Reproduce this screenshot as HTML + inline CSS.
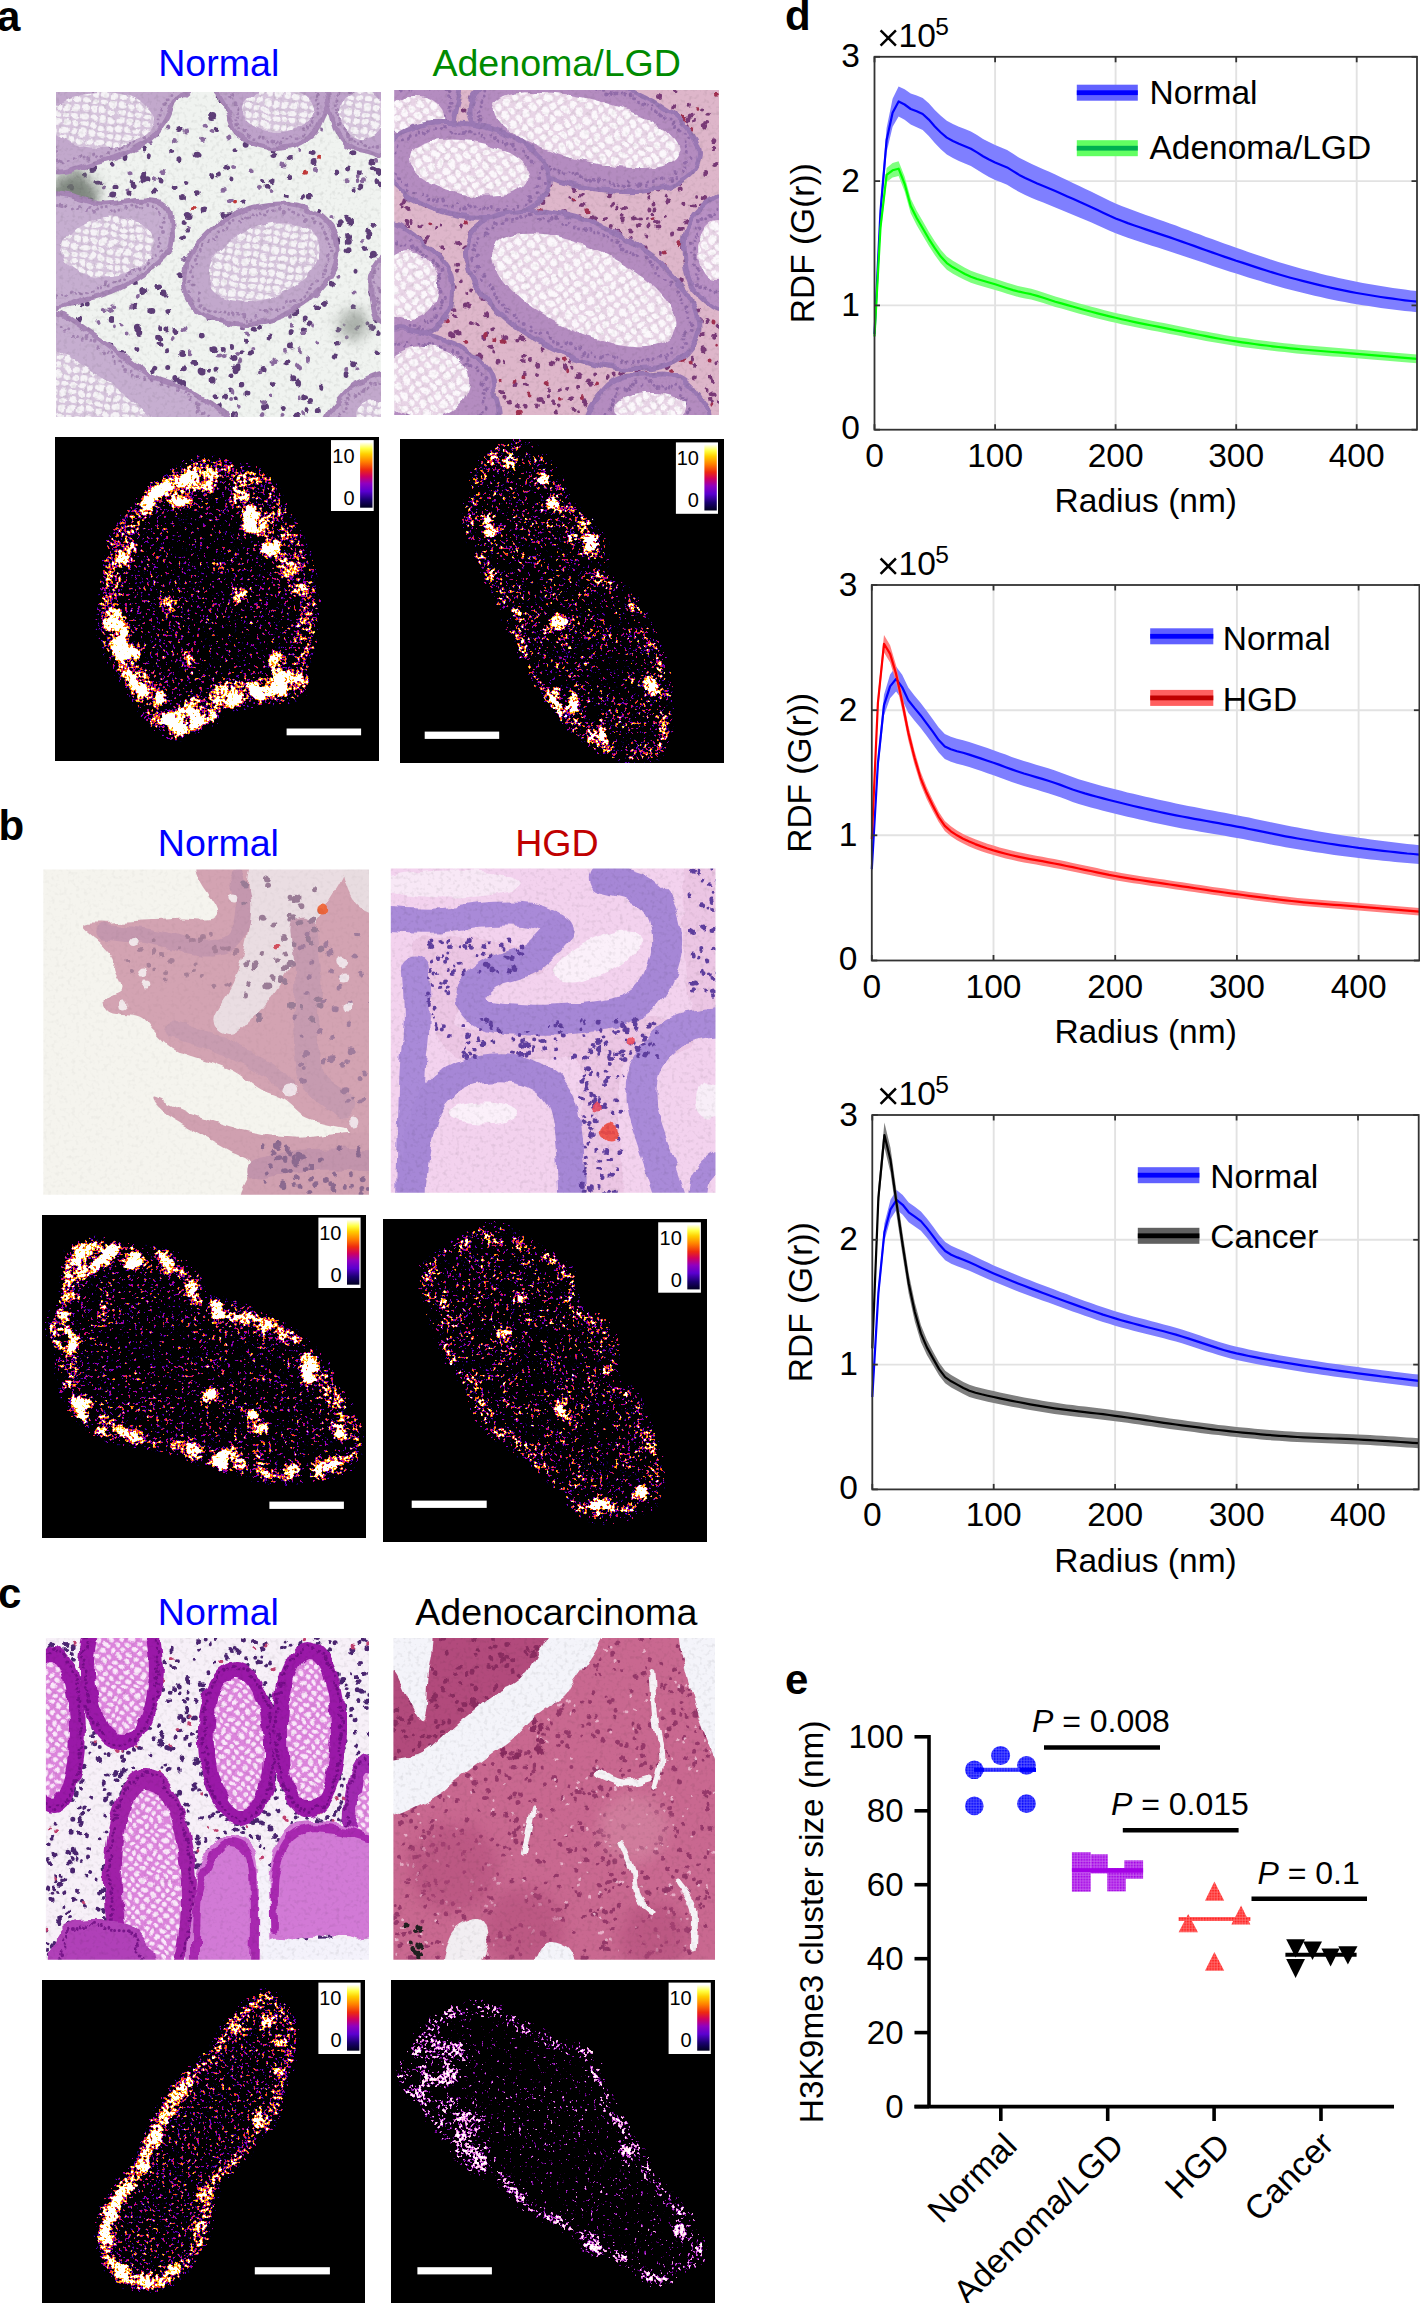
<!DOCTYPE html>
<html><head><meta charset="utf-8"><style>html,body{margin:0;padding:0;background:#fff;width:1420px;height:2303px;overflow:hidden;}svg{display:block;}</style></head><body>
<svg width="1420" height="2303" viewBox="0 0 1420 2303" font-family='"Liberation Sans", sans-serif'>
<rect width="1420" height="2303" fill="#fff"/>
<defs><filter id="soft" x="-50%" y="-50%" width="200%" height="200%"><feGaussianBlur stdDeviation="7"/></filter></defs>
<defs><linearGradient id="cbar" x1="0" y1="1" x2="0" y2="0"><stop offset="0" stop-color="#000020"/><stop offset="0.12" stop-color="#1a0070"/><stop offset="0.25" stop-color="#5a00d0"/><stop offset="0.37" stop-color="#9000c0"/><stop offset="0.48" stop-color="#d00060"/><stop offset="0.58" stop-color="#ee2a10"/><stop offset="0.7" stop-color="#ff8000"/><stop offset="0.82" stop-color="#ffd000"/><stop offset="0.9" stop-color="#ffff40"/><stop offset="1" stop-color="#ffffff"/></linearGradient></defs>
<clipPath id="hc0"><rect x="56" y="92" width="325.0" height="325.0"/></clipPath>
<filter id="hf0" filterUnits="userSpaceOnUse" x="56" y="92" width="325.0" height="325.0" color-interpolation-filters="sRGB"><feTurbulence type="fractalNoise" baseFrequency="0.06" numOctaves="2" seed="1" result="tn"/><feDisplacementMap in="SourceGraphic" in2="tn" scale="9" xChannelSelector="R" yChannelSelector="G" result="dsp"/><feGaussianBlur in="dsp" stdDeviation="0.7" result="b"/><feTurbulence type="fractalNoise" baseFrequency="0.25" numOctaves="2" seed="51" result="fn"/><feColorMatrix in="fn" type="matrix" values="0.22 0 0 0 0.890 0.22 0 0 0 0.890 0.22 0 0 0 0.890 0 0 0 0 1" result="fn2"/><feBlend in="b" in2="fn2" mode="multiply" result="o"/><feComponentTransfer in="o"><feFuncA type="linear" slope="0" intercept="1"/></feComponentTransfer></filter>
<pattern id="hp0" width="9" height="8.1" patternUnits="userSpaceOnUse" patternTransform="rotate(8)"><rect width="9" height="9" fill="#d6c4dc"/><ellipse cx="4.5" cy="4.0" rx="3.7" ry="3.1" fill="#f6f3f7"/></pattern>
<g clip-path="url(#hc0)"><g filter="url(#hf0)"><g transform="translate(56,92)">
<rect x="-12" y="-12" width="349.0" height="349.0" fill="#f0f3f0"/>
<path d="M185.0 260.7h0M249.3 226.1h0M260.6 192.1h0M309.5 301.1h0M297.8 299.7h0M204.5 235.2h0M295.8 61.7h0M187.9 210.3h0M73.8 4.0h0M299.0 178.2h0M111.7 275.4h0M42.0 252.7h0M308.7 156.4h0M180.2 305.8h0M264.3 134.7h0M175.5 255.6h0M179.0 58.8h0M10.5 306.7h0M60.0 94.3h0M161.4 37.1h0M111.6 258.8h0M73.2 129.1h0M239.7 40.8h0M15.4 23.0h0M298.1 96.8h0M276.4 191.9h0M12.2 65.1h0M160.0 304.8h0M130.8 91.4h0M43.9 139.5h0M249.6 173.1h0M13.1 43.2h0M174.9 87.1h0M164.4 83.0h0M188.5 250.3h0M47.9 40.6h0M190.9 301.0h0M37.2 291.4h0M231.3 102.2h0M300.8 236.1h0M127.2 129.5h0M115.6 59.5h0M29.1 244.8h0M186.7 110.1h0M314.1 13.3h0M262.5 29.9h0M262.7 130.6h0M282.0 237.0h0M3.2 244.0h0M152.4 279.2h0M216.2 58.4h0M46.0 281.3h0M306.6 320.8h0M97.2 174.7h0M3.5 271.8h0M188.5 192.9h0M310.9 231.7h0M248.0 209.7h0M166.3 257.6h0M167.0 122.6h0M254.2 160.9h0M29.4 82.9h0M295.5 214.7h0M171.7 188.2h0M316.3 78.7h0M56.2 48.2h0M7.8 185.0h0M211.0 24.4h0M246.5 105.2h0M36.8 298.3h0M227.3 314.4h0M50.7 253.1h0M87.8 57.9h0M98.7 150.2h0M55.1 165.9h0M32.1 192.0h0M21.8 143.8h0M230.8 52.5h0M206.7 89.6h0M171.6 77.1h0M323.8 180.8h0M240.4 127.6h0M303.3 80.7h0M143.2 100.7h0M22.2 74.0h0M301.8 310.5h0M56.1 72.2h0M126.6 146.8h0M161.3 36.1h0M25.6 5.0h0M93.3 63.7h0M176.3 183.5h0M25.8 212.0h0M62.4 145.4h0M174.3 299.0h0M23.5 57.7h0M166.7 162.9h0M101.6 41.2h0M87.7 81.3h0M98.1 279.4h0M84.8 238.9h0M322.1 241.5h0M126.5 105.4h0M41.1 21.1h0M169.0 2.8h0M186.3 146.8h0M123.7 289.1h0M188.2 18.2h0M160.0 277.3h0M79.7 186.5h0M321.9 259.0h0M99.9 194.4h0M165.0 9.4h0M71.9 43.4h0M232.3 66.4h0M119.3 296.6h0M317.3 132.4h0M187.9 138.3h0M323.0 91.8h0M42.6 144.4h0M251.1 316.7h0M11.8 136.8h0M214.2 244.1h0M29.4 29.3h0M264.6 119.5h0M255.5 308.6h0M130.6 138.2h0M32.2 211.1h0M221.6 161.8h0M197.0 155.7h0M199.4 228.3h0M202.7 279.8h0M246.3 237.0h0" stroke="#5e3e78" stroke-width="5.0" stroke-linecap="round" fill="none"/>
<path d="M38.3 247.3h0M123.4 68.2h0M290.3 126.7h0M103.2 7.3h0M3.0 286.4h0M314.9 235.9h0M248.2 305.2h0M112.4 220.0h0M162.8 314.3h0M127.8 277.3h0M241.7 131.4h0M119.3 286.9h0M239.9 28.1h0M120.4 238.1h0M100.3 275.7h0M295.7 214.2h0M310.3 305.0h0M195.0 261.5h0M282.1 147.2h0M91.4 87.3h0M82.9 309.4h0M210.7 95.7h0M312.0 144.8h0M205.0 225.9h0M170.3 10.0h0M261.1 214.4h0M183.6 42.4h0M292.8 149.8h0M282.7 253.5h0M186.3 291.4h0M163.8 5.6h0M278.7 263.6h0M31.3 123.3h0M297.2 272.3h0M253.4 232.4h0M118.6 96.1h0M14.9 96.1h0M4.7 134.4h0M256.7 61.1h0M190.7 52.7h0M141.4 313.5h0M176.5 266.0h0M103.2 8.9h0M103.1 195.5h0M81.3 255.2h0M289.6 282.0h0M64.7 117.2h0M79.9 32.8h0M252.8 106.6h0M230.5 271.3h0M41.0 67.2h0M234.9 253.4h0M202.6 218.5h0M280.2 80.4h0M221.7 145.2h0M81.3 142.8h0M317.3 6.1h0M319.5 90.0h0M56.0 29.0h0M299.1 302.3h0M73.4 101.7h0M198.7 236.7h0M97.1 97.4h0M53.7 227.9h0M27.6 40.1h0M138.7 306.1h0M176.9 323.2h0M142.4 202.3h0M68.9 140.2h0M101.1 246.2h0M54.6 116.0h0M96.3 219.0h0M261.8 142.1h0M233.3 113.8h0M110.3 237.6h0M181.0 323.3h0M234.7 240.0h0M64.6 300.1h0M168.0 304.7h0M321.0 228.4h0M217.4 64.1h0M94.5 6.8h0M259.4 133.6h0M214.1 152.1h0M16.2 96.5h0M157.2 84.3h0M232.7 84.1h0M48.2 307.3h0M37.6 67.0h0M263.1 7.6h0M222.1 160.7h0M235.3 288.3h0M215.5 89.2h0M76.6 92.2h0M267.9 210.0h0M4.7 174.5h0M41.9 303.3h0M140.6 61.8h0M42.4 90.8h0M87.1 84.4h0M79.8 191.1h0M57.0 139.3h0M177.8 174.9h0M19.1 66.1h0M215.9 291.0h0M292.1 145.0h0M123.6 38.1h0M30.6 273.5h0M66.8 300.0h0M127.1 291.1h0M42.2 264.8h0M181.6 274.3h0M259.7 173.4h0M103.6 88.6h0M103.1 236.2h0M147.6 118.4h0M249.1 305.2h0M263.8 318.0h0M166.2 140.4h0M292.5 158.2h0M71.5 65.1h0M292.1 76.4h0M24.8 200.1h0M226.2 208.7h0M102.6 252.4h0M305.4 301.2h0M195.9 188.8h0M3.1 137.9h0M87.4 88.4h0M206.6 277.0h0M126.2 261.1h0M305.2 93.4h0M67.0 48.6h0M33.6 50.6h0M16.5 70.9h0M240.9 323.4h0M58.2 261.7h0M15.5 69.6h0M281.6 40.2h0M174.4 282.4h0M263.3 296.7h0" stroke="#5e3e78" stroke-width="6.0" stroke-linecap="round" fill="none"/>
<path d="M241.5 291.1h0M316.4 162.3h0M35.1 53.2h0M237.1 124.7h0M179.1 276.7h0M82.4 237.3h0M313.8 140.3h0M138.7 270.5h0M37.0 76.4h0M132.1 123.6h0M178.8 183.9h0M221.3 51.7h0M257.6 188.2h0M157.9 257.7h0M57.7 103.1h0M316.0 71.3h0M207.0 124.8h0M239.5 27.2h0M315.0 200.5h0M223.2 26.7h0M78.3 276.6h0M293.6 129.1h0M123.1 181.8h0M145.1 279.9h0M39.6 67.9h0M66.6 263.4h0M220.5 188.3h0M109.2 202.0h0M321.0 80.5h0M252.2 3.3h0M22.3 227.2h0M79.4 214.8h0M282.2 130.8h0M23.6 238.0h0M188.2 189.0h0M52.8 253.0h0M146.2 243.9h0M156.1 288.9h0M9.9 125.9h0M207.5 315.0h0M86.8 198.5h0M14.6 207.1h0M169.0 9.8h0M185.6 208.3h0M258.1 70.6h0M156.7 23.6h0M172.9 123.7h0M321.1 2.1h0M267.1 166.6h0M47.0 48.2h0M88.9 109.2h0M70.0 269.6h0M1.0 139.0h0M15.3 211.8h0M238.7 220.7h0M83.7 241.5h0" stroke="#5e3e78" stroke-width="7.0" stroke-linecap="round" fill="none"/>
<path d="M287.7 230.4h0M32.7 165.1h0M80.1 48.2h0M194.7 78.5h0M269.4 16.3h0M214.5 100.1h0M71.6 241.5h0M203.3 279.9h0M233.6 123.3h0M46.6 186.6h0M29.8 324.6h0M80.9 172.1h0M25.5 300.9h0M234.0 224.7h0M257.1 235.4h0M301.4 88.1h0M136.1 303.5h0M71.3 98.4h0M195.0 35.7h0M291.6 89.2h0M175.1 307.1h0M22.4 317.7h0M188.8 201.2h0M260.3 249.4h0M3.2 264.9h0M242.8 306.2h0M89.7 120.3h0M184.7 314.8h0M283.4 37.8h0M297.6 200.5h0M116.6 245.0h0M46.9 111.0h0M290.7 246.2h0M189.4 156.1h0M205.3 309.8h0M215.5 304.4h0M86.6 40.7h0M305.9 149.1h0M50.1 170.5h0M229.0 257.7h0M81.1 137.5h0M58.2 215.3h0M174.3 181.3h0M122.1 7.0h0M324.4 25.1h0M151.1 184.3h0M6.8 279.3h0M235.0 54.2h0M262.7 161.0h0M301.7 84.3h0M56.9 234.3h0M117.2 301.7h0M77.9 45.2h0M49.8 216.9h0M131.8 135.6h0M301.4 276.2h0M65.8 233.6h0M243.4 57.9h0M46.7 159.9h0M33.5 121.1h0M267.1 36.6h0M177.1 75.0h0M75.8 133.4h0M217.5 271.0h0M109.3 79.1h0M275.4 125.1h0M246.1 320.0h0M152.5 189.6h0M281.4 183.8h0M97.9 87.1h0M283.3 5.7h0M180.6 324.0h0M197.3 257.0h0M127.1 168.9h0M243.8 11.2h0M24.1 291.3h0" stroke="#8a6a9e" stroke-width="4.0" stroke-linecap="round" fill="none"/>
<path d="M203.3 97.5h0M132.5 204.8h0M19.0 271.2h0M307.4 87.8h0M99.4 159.7h0M246.6 240.2h0M146.6 48.6h0M171.8 43.9h0M321.4 69.3h0M156.1 38.5h0M227.0 73.1h0M37.7 183.1h0M251.5 267.1h0M112.8 36.9h0M106.9 2.6h0M311.7 36.5h0M187.4 235.7h0M41.0 230.4h0M180.5 261.4h0M43.0 24.2h0M219.9 268.7h0M95.0 50.6h0M270.8 131.8h0M47.2 96.0h0M207.6 309.8h0M9.9 140.4h0M150.1 32.2h0M210.0 226.6h0M270.3 190.9h0M248.0 179.1h0M154.0 226.7h0M202.1 34.3h0M228.8 137.3h0M82.4 203.4h0M259.4 77.4h0M166.7 176.5h0M74.0 80.7h0M106.9 79.7h0M241.5 120.1h0M129.6 39.1h0M134.8 259.7h0M163.2 264.9h0M82.7 150.9h0M226.0 322.3h0M76.6 13.1h0M61.8 163.8h0M29.1 30.7h0M14.6 168.5h0M182.5 268.7h0M206.9 322.4h0M180.0 227.1h0M82.0 124.9h0M4.4 310.0h0M73.4 22.9h0M201.0 176.5h0M231.2 26.8h0M194.0 218.6h0M167.1 97.2h0M7.1 260.2h0M201.0 16.9h0M52.0 43.0h0M190.6 242.0h0M129.0 296.4h0M69.0 307.8h0M168.2 264.5h0M235.6 233.3h0M320.5 182.9h0M54.5 217.9h0M215.0 129.5h0M5.2 245.0h0M128.0 237.3h0M242.5 275.1h0M61.4 56.3h0M75.6 214.1h0M16.8 14.4h0M289.7 277.5h0M130.0 166.3h0M312.3 16.0h0M243.4 258.4h0M189.1 12.0h0M32.8 107.9h0M175.4 108.7h0M176.8 299.8h0M117.3 47.5h0" stroke="#8a6a9e" stroke-width="5.0" stroke-linecap="round" fill="none"/>
<path d="M191.6 131.3h0M84.4 119.8h0M249.5 80.2h0M255.4 27.1h0M41.0 179.0h0M76.3 32.1h0M15.3 166.4h0M263.5 66.3h0M167.8 11.5h0M259.7 12.1h0" stroke="#c03838" stroke-width="5.0" stroke-linecap="round" fill="none"/>
<path d="M136.8 117.0h0M245.2 129.0h0M293.9 309.5h0M179.0 110.4h0" stroke="#c03838" stroke-width="4.0" stroke-linecap="round" fill="none"/>
<circle cx="18" cy="103" r="24" fill="#6c746c" opacity="0.85" filter="url(#soft)"/>
<circle cx="297" cy="233" r="15" fill="#9aa09a" opacity="0.85" filter="url(#soft)"/>
<path d="M-10.0,-10.0C12.5,-24.3 103.7,-13.3 125.0,-10.0C146.3,-6.7 120.8,3.0 118.0,10.0C115.2,17.0 113.2,24.8 108.0,32.0C102.8,39.2 97.3,46.8 87.0,53.0C76.7,59.2 62.2,65.2 46.0,69.0C29.8,72.8 -0.7,89.2 -10.0,76.0C-19.3,62.8 -32.5,4.3 -10.0,-10.0Z" fill="#c2a8cc" stroke="#a786b6" stroke-width="5"/>
<path d="M-4.6 -6.3h0M6.3 -4.8h0M10.2 -5.1h0M16.4 -3.3h0M32.4 -4.3h0M37.6 -1.0h0M45.2 -2.2h0M49.3 -3.1h0M52.9 -1.0h0M61.8 -3.6h0M64.9 -2.0h0M70.9 -4.7h0M75.3 -4.8h0M78.2 -3.4h0M84.3 -5.1h0M93.9 -5.7h0M99.8 -6.6h0M101.9 -5.2h0M108.5 -6.4h0M118.3 -6.8h0M116.1 -1.9h0M114.9 2.5h0M111.2 7.7h0M106.7 17.1h0M102.0 26.7h0M102.9 31.7h0M95.1 35.0h0M91.3 38.5h0M88.6 42.3h0M79.7 48.5h0M76.9 51.3h0M72.8 53.3h0M59.6 58.9h0M50.4 61.4h0M46.0 64.5h0M41.6 63.7h0M28.2 66.1h0M24.9 64.6h0M20.3 65.7h0M14.4 68.3h0M8.2 70.8h0M-4.1 70.9h0M-4.2 52.9h0M-5.9 49.0h0M-3.8 39.2h0M-1.8 34.4h0M-1.8 30.1h0M-1.8 25.8h0M-3.4 21.3h0M-3.7 12.2h0M-2.0 8.5h0M-1.5 4.3h0" stroke="#9a78aa" stroke-width="3.0" stroke-linecap="round" fill="none" opacity="0.8"/>
<path d="M0.9 -5.6h0M19.7 -4.2h0M24.0 -4.2h0M28.3 -4.1h0M41.0 -3.9h0M58.1 -4.8h0M88.9 -5.3h0M112.0 -5.9h0M110.3 11.9h0M104.7 21.9h0M87.3 47.0h0M67.8 54.3h0M63.9 56.7h0M53.8 56.2h0M38.0 61.4h0M32.2 66.7h0M5.8 69.0h0M1.3 69.6h0M-5.0 67.1h0M-2.0 60.5h0M-2.2 56.3h0M-4.8 44.0h0M-5.1 16.4h0M-3.3 -1.0h0" stroke="#9a78aa" stroke-width="4.0" stroke-linecap="round" fill="none" opacity="0.8"/>
<path d="M98.0,28.0C98.0,31.6 96.6,35.4 94.0,38.7C91.5,42.0 87.5,45.3 82.8,47.8C78.1,50.3 72.0,52.5 65.9,53.9C59.8,55.2 52.6,56.0 46.0,56.0C39.4,56.0 32.2,55.2 26.1,53.9C20.0,52.5 13.9,50.3 9.2,47.8C4.5,45.3 0.5,42.0 -2.0,38.7C-4.6,35.4 -6.0,31.6 -6.0,28.0C-6.0,24.4 -4.6,20.6 -2.0,17.3C0.5,14.0 4.5,10.7 9.2,8.2C13.9,5.7 20.0,3.5 26.1,2.1C32.2,0.8 39.4,0.0 46.0,0.0C52.6,0.0 59.8,0.8 65.9,2.1C72.0,3.5 78.1,5.7 82.8,8.2C87.5,10.7 91.5,14.0 94.0,17.3C96.6,20.6 98.0,24.4 98.0,28.0Z" fill="url(#hp0)"/>
<path d="M168.0,-10.0C151.7,-5.0 170.0,11.7 172.0,20.0C174.0,28.3 175.3,34.7 180.0,40.0C184.7,45.3 192.5,49.3 200.0,52.0C207.5,54.7 216.7,56.7 225.0,56.0C233.3,55.3 243.2,52.7 250.0,48.0C256.8,43.3 262.7,37.7 266.0,28.0C269.3,18.3 286.3,-3.7 270.0,-10.0C253.7,-16.3 184.3,-15.0 168.0,-10.0Z" fill="#bea2ca" stroke="#a786b6" stroke-width="5"/>
<path d="M175.0 -6.4h0M176.7 2.5h0M175.3 6.3h0M180.7 15.6h0M180.6 19.7h0M181.5 23.9h0M180.9 28.7h0M184.8 37.5h0M193.2 43.2h0M197.9 45.7h0M204.7 44.8h0M208.2 46.2h0M211.8 48.2h0M220.3 50.0h0M228.3 46.5h0M232.9 47.2h0M236.5 44.7h0M242.2 45.8h0M246.3 44.0h0M246.5 38.4h0M255.5 34.0h0M256.7 25.9h0M261.9 22.1h0M261.7 17.2h0M263.2 12.3h0M260.3 8.3h0M253.0 -5.0h0M240.5 -5.1h0M230.7 -1.9h0M227.7 -4.1h0M223.5 -2.2h0M219.9 -1.5h0M215.5 -4.5h0M212.9 -1.3h0M208.5 -2.6h0M202.6 -5.2h0M200.3 -3.3h0M193.2 -6.0h0M188.1 -6.5h0M177.6 -7.4h0" stroke="#9a78aa" stroke-width="3.0" stroke-linecap="round" fill="none" opacity="0.8"/>
<path d="M176.9 -1.5h0M178.4 11.2h0M182.2 33.4h0M190.4 39.3h0M216.3 47.4h0M224.6 51.5h0M251.4 36.8h0M257.6 30.2h0M260.8 3.8h0M260.9 -0.5h0M263.8 -6.4h0M258.0 -5.5h0M250.0 -6.0h0M243.0 -3.3h0M236.9 -6.0h0M184.3 -6.1h0" stroke="#9a78aa" stroke-width="4.0" stroke-linecap="round" fill="none" opacity="0.8"/>
<path d="M258.0,18.0C258.0,20.8 257.0,23.8 255.3,26.4C253.5,29.0 250.7,31.6 247.5,33.6C244.2,35.5 240.0,37.3 235.8,38.3C231.5,39.4 226.6,40.0 222.0,40.0C217.4,40.0 212.5,39.4 208.2,38.3C204.0,37.3 199.8,35.5 196.5,33.6C193.3,31.6 190.5,29.0 188.7,26.4C187.0,23.8 186.0,20.8 186.0,18.0C186.0,15.2 187.0,12.2 188.7,9.6C190.5,7.0 193.3,4.4 196.5,2.4C199.8,0.5 204.0,-1.3 208.2,-2.3C212.5,-3.4 217.4,-4.0 222.0,-4.0C226.6,-4.0 231.5,-3.4 235.8,-2.3C240.0,-1.3 244.2,0.5 247.5,2.4C250.7,4.4 253.5,7.0 255.3,9.6C257.0,12.2 258.0,15.2 258.0,18.0Z" fill="url(#hp0)"/>
<path d="M275.0,-10.0C265.3,-3.3 274.5,19.7 277.0,30.0C279.5,40.3 284.5,47.0 290.0,52.0C295.5,57.0 302.5,59.0 310.0,60.0C317.5,61.0 330.8,69.7 335.0,58.0C339.2,46.3 345.0,1.3 335.0,-10.0C325.0,-21.3 284.7,-16.7 275.0,-10.0Z" fill="#bea2ca" stroke="#a786b6" stroke-width="5"/>
<path d="M278.5 -6.4h0M281.8 0.8h0M280.5 3.6h0M280.8 7.8h0M280.3 11.7h0M282.3 16.4h0M281.3 20.3h0M282.7 24.4h0M283.6 28.2h0M297.0 48.0h0M300.9 50.8h0M317.9 53.7h0M327.0 53.8h0M330.4 52.3h0M328.4 45.7h0M329.7 42.9h0M330.8 39.4h0M328.4 33.7h0M326.3 28.9h0M326.0 21.6h0M328.1 17.6h0M326.6 14.1h0M327.4 10.0h0M330.6 3.7h0M328.7 1.0h0M330.4 -4.9h0M324.8 -3.1h0M322.2 -5.2h0M317.8 -5.1h0M312.9 -2.4h0M309.4 -4.9h0M301.7 -0.8h0M298.0 -1.3h0M288.8 -4.1h0M284.4 -4.6h0" stroke="#9a78aa" stroke-width="3.0" stroke-linecap="round" fill="none" opacity="0.8"/>
<path d="M283.6 32.5h0M288.6 34.3h0M289.2 38.8h0M291.0 42.6h0M293.3 45.8h0M305.3 48.3h0M309.1 51.9h0M313.9 55.2h0M322.4 53.9h0M326.1 25.2h0M305.3 -1.1h0M294.1 -1.7h0" stroke="#9a78aa" stroke-width="4.0" stroke-linecap="round" fill="none" opacity="0.8"/>
<path d="M328.0,22.0C328.0,25.1 327.4,28.4 326.3,31.2C325.3,34.0 323.5,36.8 321.6,39.0C319.6,41.1 317.0,43.0 314.4,44.2C311.8,45.3 308.8,46.0 306.0,46.0C303.2,46.0 300.2,45.3 297.6,44.2C295.0,43.0 292.4,41.1 290.4,39.0C288.5,36.8 286.7,34.0 285.7,31.2C284.6,28.4 284.0,25.1 284.0,22.0C284.0,18.9 284.6,15.6 285.7,12.8C286.7,10.0 288.5,7.2 290.4,5.0C292.4,2.9 295.0,1.0 297.6,-0.2C300.2,-1.3 303.2,-2.0 306.0,-2.0C308.8,-2.0 311.8,-1.3 314.4,-0.2C317.0,1.0 319.6,2.9 321.6,5.0C323.5,7.2 325.3,10.0 326.3,12.8C327.4,15.6 328.0,18.9 328.0,22.0Z" fill="url(#hp0)"/>
<path d="M-10.0,108.0C-0.7,92.0 28.3,112.0 46.0,112.0C63.7,112.0 84.7,106.3 96.0,108.0C107.3,109.7 111.3,113.3 114.0,122.0C116.7,130.7 118.5,148.7 112.0,160.0C105.5,171.3 88.0,182.3 75.0,190.0C62.0,197.7 48.2,203.0 34.0,206.0C19.8,209.0 -2.7,224.3 -10.0,208.0C-17.3,191.7 -19.3,124.0 -10.0,108.0Z" fill="#c6aed0" stroke="#a786b6" stroke-width="5"/>
<path d="M-3.7 112.8h0M4.6 112.7h0M24.0 115.1h0M33.2 116.0h0M39.0 119.8h0M59.3 119.1h0M77.7 114.4h0M91.3 113.0h0M107.0 140.0h0M91.0 171.4h0M82.4 176.5h0M74.3 181.0h0M49.9 191.3h0M25.9 201.3h0M16.9 200.6h0M-0.7 204.2h0M-3.0 175.4h0M-1.6 161.9h0M-4.3 157.7h0M-2.1 148.9h0M-2.5 118.1h0" stroke="#9a78aa" stroke-width="4.0" stroke-linecap="round" fill="none" opacity="0.8"/>
<path d="M1.2 113.4h0M8.6 112.4h0M16.4 116.1h0M21.6 117.4h0M30.4 118.5h0M42.5 118.0h0M46.7 117.1h0M51.1 116.4h0M55.3 118.8h0M63.9 117.0h0M68.8 115.2h0M73.7 114.0h0M81.2 115.3h0M84.8 115.8h0M97.2 114.4h0M101.3 117.8h0M103.5 122.3h0M107.9 125.2h0M107.2 130.3h0M105.7 135.6h0M104.2 145.3h0M105.1 149.9h0M103.4 154.6h0M105.8 159.5h0M100.2 162.2h0M95.0 164.7h0M91.0 167.3h0M87.5 174.5h0M77.8 178.4h0M70.8 183.6h0M67.6 187.4h0M62.7 187.9h0M58.5 190.1h0M54.2 192.9h0M45.4 194.9h0M41.2 196.1h0M36.3 199.3h0M31.5 199.8h0M20.5 202.3h0M10.5 202.6h0M6.7 201.6h0M-4.9 203.6h0M-5.1 199.2h0M-6.2 195.3h0M-3.8 189.2h0M-4.3 185.0h0M-3.5 180.1h0M-2.8 170.9h0M-4.3 166.8h0M-5.6 153.1h0M-2.9 144.4h0M-4.2 139.6h0M-2.1 135.8h0M-2.3 131.3h0M-4.2 126.0h0M-5.9 120.4h0" stroke="#9a78aa" stroke-width="3.0" stroke-linecap="round" fill="none" opacity="0.8"/>
<path d="M97.3,147.0C98.0,150.8 97.4,155.1 95.8,158.9C94.2,162.8 91.3,166.9 87.7,170.2C84.1,173.6 79.2,176.9 74.1,179.2C69.1,181.6 63.0,183.5 57.2,184.5C51.4,185.6 45.1,185.9 39.5,185.4C33.9,184.9 28.2,183.5 23.7,181.5C19.1,179.6 15.0,176.8 12.1,173.7C9.3,170.6 7.4,166.8 6.7,163.0C6.0,159.2 6.6,154.9 8.2,151.1C9.8,147.2 12.7,143.1 16.3,139.8C19.9,136.4 24.8,133.1 29.9,130.8C34.9,128.4 41.0,126.5 46.8,125.5C52.6,124.4 58.9,124.1 64.5,124.6C70.1,125.1 75.8,126.5 80.3,128.5C84.9,130.4 89.0,133.2 91.9,136.3C94.7,139.4 96.6,143.2 97.3,147.0Z" fill="url(#hp0)"/>
<path d="M279.2,142.0C281.9,148.7 282.7,156.6 281.6,164.2C280.4,171.8 277.1,180.1 272.3,187.5C267.5,194.9 260.5,202.4 252.8,208.5C245.0,214.6 235.4,220.1 226.0,223.9C216.5,227.7 205.8,230.4 196.0,231.4C186.2,232.4 176.0,231.9 167.4,229.9C158.8,227.9 150.6,224.2 144.5,219.6C138.4,214.9 133.5,208.6 130.8,202.0C128.1,195.3 127.3,187.4 128.4,179.8C129.6,172.2 132.9,163.9 137.7,156.5C142.5,149.1 149.5,141.6 157.2,135.5C165.0,129.4 174.6,123.9 184.0,120.1C193.5,116.3 204.2,113.6 214.0,112.6C223.8,111.6 234.0,112.1 242.6,114.1C251.2,116.1 259.4,119.8 265.5,124.4C271.6,129.1 276.5,135.4 279.2,142.0Z" fill="#c2a8cc" stroke="#a786b6" stroke-width="5"/>
<path d="M272.1 144.8h0M275.7 159.5h0M271.9 164.9h0M269.3 177.4h0M266.9 181.5h0M255.0 196.9h0M240.0 209.0h0M219.1 217.3h0M210.6 220.5h0M187.3 223.8h0M177.7 222.2h0M159.2 218.2h0M153.7 217.6h0M150.5 214.9h0M145.6 212.1h0M138.5 193.6h0M134.3 189.7h0M136.3 174.8h0M139.8 166.1h0M144.8 157.8h0M191.9 126.6h0M208.9 122.5h0M224.0 117.8h0M227.8 121.8h0M250.9 125.9h0M258.0 130.4h0M270.0 140.4h0" stroke="#9a78aa" stroke-width="4.0" stroke-linecap="round" fill="none" opacity="0.8"/>
<path d="M273.1 149.7h0M274.4 154.5h0M271.9 169.0h0M269.7 173.1h0M266.1 185.8h0M260.7 188.9h0M257.0 192.5h0M251.9 201.0h0M248.8 205.1h0M244.9 207.7h0M235.5 210.4h0M230.4 210.5h0M227.5 214.5h0M223.2 215.7h0M214.7 217.2h0M206.3 219.5h0M201.7 224.2h0M196.9 227.0h0M191.5 226.9h0M182.8 222.3h0M172.6 222.2h0M168.8 220.1h0M163.9 219.4h0M142.8 207.8h0M142.4 202.4h0M134.7 200.4h0M137.7 183.7h0M134.5 179.1h0M141.6 170.4h0M141.1 161.8h0M146.5 153.6h0M152.2 150.4h0M157.6 147.5h0M160.6 143.7h0M163.5 139.7h0M168.4 138.3h0M172.0 135.9h0M173.5 131.1h0M178.0 129.2h0M184.6 131.0h0M187.6 127.4h0M195.7 123.7h0M200.1 123.0h0M204.4 120.6h0M213.4 118.4h0M218.3 119.8h0M234.1 119.2h0M237.7 122.1h0M242.4 122.8h0M248.0 122.6h0M256.2 126.6h0M264.5 131.8h0M267.5 136.0h0" stroke="#9a78aa" stroke-width="3.0" stroke-linecap="round" fill="none" opacity="0.8"/>
<path d="M261.8,148.3C263.5,152.5 263.9,157.7 262.8,162.7C261.8,167.7 259.2,173.3 255.6,178.2C251.9,183.2 246.7,188.3 241.0,192.5C235.4,196.7 228.3,200.6 221.5,203.4C214.6,206.2 206.9,208.2 199.9,209.2C192.9,210.1 185.6,210.0 179.5,209.0C173.4,207.9 167.7,205.7 163.5,202.8C159.3,200.0 155.9,196.0 154.2,191.7C152.5,187.5 152.1,182.3 153.2,177.3C154.2,172.3 156.8,166.7 160.4,161.8C164.1,156.8 169.3,151.7 175.0,147.5C180.6,143.3 187.7,139.4 194.5,136.6C201.4,133.8 209.1,131.8 216.1,130.8C223.1,129.9 230.4,130.0 236.5,131.0C242.6,132.1 248.3,134.3 252.5,137.2C256.7,140.0 260.1,144.0 261.8,148.3Z" fill="url(#hp0)"/>
<path d="M-10.0,225.0C-1.7,210.0 23.3,235.5 40.0,245.0C56.7,254.5 74.2,272.8 90.0,282.0C105.8,291.2 122.5,291.2 135.0,300.0C147.5,308.8 189.2,329.2 165.0,335.0C140.8,340.8 19.2,353.3 -10.0,335.0C-39.2,316.7 -18.3,240.0 -10.0,225.0Z" fill="#c6aed0" stroke="#a786b6" stroke-width="5"/>
<path d="M-6.6 230.8h0M3.1 235.5h0M8.5 239.3h0M11.7 237.7h0M17.4 243.2h0M21.5 243.4h0M26.3 247.3h0M35.0 249.2h0M42.9 255.7h0M50.4 260.1h0M54.8 261.2h0M59.1 271.2h0M65.9 270.0h0M68.0 274.2h0M76.1 279.0h0M77.2 282.9h0M80.8 285.4h0M86.5 286.6h0M95.3 287.2h0M105.3 290.8h0M105.9 293.2h0M112.0 294.8h0M120.8 296.3h0M120.4 298.4h0M128.1 300.2h0M131.7 303.8h0M134.0 307.4h0M141.5 314.8h0M151.8 325.9h0M158.5 333.4h0M152.7 333.1h0M145.7 332.5h0M140.7 332.4h0M135.7 332.2h0M129.8 333.3h0M120.8 331.8h0M116.7 332.0h0M101.6 331.4h0M98.6 332.0h0M94.0 332.0h0M89.0 331.7h0M84.8 331.9h0M78.1 330.5h0M75.7 331.9h0M65.8 331.1h0M59.4 328.9h0M57.4 331.6h0M52.5 331.0h0M46.8 328.0h0M39.3 330.3h0M30.7 330.6h0M22.0 330.6h0M19.4 327.8h0M14.4 329.3h0M8.7 331.0h0M0.1 330.8h0M-6.1 327.6h0M-1.4 312.6h0M-1.2 308.5h0M-4.6 304.7h0M-3.4 287.5h0M-5.3 282.3h0M-2.5 279.5h0M-6.3 272.7h0M-3.3 270.6h0M-4.4 260.9h0M-4.2 252.4h0M-6.0 245.6h0M-5.2 242.2h0M-4.9 238.2h0" stroke="#9a78aa" stroke-width="3.0" stroke-linecap="round" fill="none" opacity="0.8"/>
<path d="M-2.6 231.6h0M30.4 245.9h0M39.6 249.8h0M45.9 260.4h0M57.2 266.3h0M70.2 277.9h0M97.5 289.5h0M140.7 311.3h0M142.5 318.1h0M146.6 321.9h0M154.8 329.5h0M133.9 333.1h0M114.2 332.8h0M109.5 332.8h0M68.2 329.5h0M42.8 327.9h0M35.0 328.9h0M27.2 327.7h0M6.8 328.7h0M-5.3 331.6h0M-6.0 323.0h0M-3.8 317.6h0M-0.6 300.5h0M-1.7 296.4h0M-3.7 291.7h0M-6.3 263.5h0M-5.5 255.2h0" stroke="#9a78aa" stroke-width="4.0" stroke-linecap="round" fill="none" opacity="0.8"/>
<path d="M-10.0,262.0C-3.3,252.0 16.7,267.8 30.0,275.0C43.3,282.2 59.2,295.0 70.0,305.0C80.8,315.0 108.3,330.0 95.0,335.0C81.7,340.0 7.5,347.2 -10.0,335.0C-27.5,322.8 -16.7,272.0 -10.0,262.0Z" fill="url(#hp0)"/>
<path d="M270.0,335.0C262.5,329.2 283.3,307.8 290.0,300.0C296.7,292.2 302.5,290.5 310.0,288.0C317.5,285.5 330.8,277.2 335.0,285.0C339.2,292.8 345.8,326.7 335.0,335.0C324.2,343.3 277.5,340.8 270.0,335.0Z" fill="#c2a8cc" stroke="#a786b6" stroke-width="5"/>
<path d="M274.8 333.7h0M281.3 325.6h0M281.8 321.9h0M286.9 318.3h0M288.2 314.5h0M289.9 310.7h0M292.3 307.2h0M293.8 303.0h0M304.2 300.5h0M312.0 296.7h0M319.6 293.4h0M323.8 292.5h0M328.5 290.1h0M332.1 291.3h0M330.5 305.8h0M331.0 309.0h0M328.5 314.6h0M327.3 318.2h0M328.8 320.7h0M330.3 324.2h0M330.0 331.2h0M321.5 328.5h0M316.6 328.1h0M312.4 331.1h0M309.0 331.0h0M305.5 331.1h0M292.0 332.3h0M284.5 333.5h0M280.9 333.2h0" stroke="#9a78aa" stroke-width="3.0" stroke-linecap="round" fill="none" opacity="0.8"/>
<path d="M280.3 329.2h0M300.5 303.0h0M307.5 296.9h0M315.6 293.8h0M331.7 296.2h0M331.8 300.1h0M330.8 328.0h0M324.4 329.0h0M318.7 326.4h0M298.8 332.8h0M294.2 333.1h0" stroke="#9a78aa" stroke-width="4.0" stroke-linecap="round" fill="none" opacity="0.8"/>
<path d="M336.0,322.0C336.0,323.8 335.5,325.7 334.6,327.4C333.8,329.0 332.4,330.6 330.7,331.9C329.1,333.2 327.0,334.3 324.9,334.9C322.8,335.6 320.3,336.0 318.0,336.0C315.7,336.0 313.2,335.6 311.1,334.9C309.0,334.3 306.9,333.2 305.3,331.9C303.6,330.6 302.2,329.0 301.4,327.4C300.5,325.7 300.0,323.8 300.0,322.0C300.0,320.2 300.5,318.3 301.4,316.6C302.2,315.0 303.6,313.4 305.3,312.1C306.9,310.8 309.0,309.7 311.1,309.1C313.2,308.4 315.7,308.0 318.0,308.0C320.3,308.0 322.8,308.4 324.9,309.1C327.0,309.7 329.1,310.8 330.7,312.1C332.4,313.4 333.8,315.0 334.6,316.6C335.5,318.3 336.0,320.2 336.0,322.0Z" fill="url(#hp0)"/>
<path d="M335.0,165.0C332.2,155.8 321.3,169.2 318.0,175.0C314.7,180.8 314.7,191.7 315.0,200.0C315.3,208.3 316.7,220.0 320.0,225.0C323.3,230.0 332.5,240.0 335.0,230.0C337.5,220.0 337.8,174.2 335.0,165.0Z" fill="#c2a8cc" stroke="#a786b6" stroke-width="5"/>
<path d="M332.5 173.1h0M319.5 180.4h0M319.3 185.1h0M323.9 199.5h0M319.9 210.4h0M321.5 210.7h0M324.9 220.3h0M331.6 216.4h0M328.2 199.3h0" stroke="#9a78aa" stroke-width="4.0" stroke-linecap="round" fill="none" opacity="0.8"/>
<path d="M328.4 174.4h0M323.9 177.7h0M319.7 190.2h0M321.8 196.0h0M322.8 198.2h0M322.8 199.2h0M319.7 206.2h0M321.5 216.2h0M329.1 223.3h0M333.0 223.9h0M331.3 212.6h0M329.7 206.9h0M330.8 205.6h0M327.4 200.6h0M328.7 197.4h0M331.1 193.4h0M332.1 188.9h0M332.2 185.2h0M332.7 180.4h0M331.8 178.8h0" stroke="#9a78aa" stroke-width="3.0" stroke-linecap="round" fill="none" opacity="0.8"/>
</g></g></g>
<clipPath id="hc1"><rect x="394.2" y="90" width="324.8" height="325.0"/></clipPath>
<filter id="hf1" filterUnits="userSpaceOnUse" x="394.2" y="90" width="324.8" height="325.0" color-interpolation-filters="sRGB"><feTurbulence type="fractalNoise" baseFrequency="0.06" numOctaves="2" seed="2" result="tn"/><feDisplacementMap in="SourceGraphic" in2="tn" scale="9" xChannelSelector="R" yChannelSelector="G" result="dsp"/><feGaussianBlur in="dsp" stdDeviation="0.7" result="b"/><feTurbulence type="fractalNoise" baseFrequency="0.25" numOctaves="2" seed="52" result="fn"/><feColorMatrix in="fn" type="matrix" values="0.22 0 0 0 0.890 0.22 0 0 0 0.890 0.22 0 0 0 0.890 0 0 0 0 1" result="fn2"/><feBlend in="b" in2="fn2" mode="multiply" result="o"/><feComponentTransfer in="o"><feFuncA type="linear" slope="0" intercept="1"/></feComponentTransfer></filter>
<pattern id="hp1" width="10" height="9.0" patternUnits="userSpaceOnUse" patternTransform="rotate(55)"><rect width="10" height="10" fill="#e8d4e6"/><ellipse cx="5.0" cy="4.5" rx="4.0" ry="3.4" fill="#fcf8fc"/></pattern>
<g clip-path="url(#hc1)"><g filter="url(#hf1)"><g transform="translate(394.2,90)">
<rect x="-12" y="-12" width="348.8" height="349.0" fill="#deb6ca"/>
<path d="M307.9 18.4h0M188.8 51.5h0M308.4 176.9h0M87.1 11.7h0M151.0 103.5h0M76.7 7.8h0M247.8 256.7h0M318.6 312.6h0M244.9 232.4h0M162.7 270.2h0M286.7 292.4h0M158.1 72.1h0M87.1 296.2h0M303.4 202.6h0M62.2 242.1h0M212.1 88.8h0M277.4 79.6h0M10.4 117.8h0M8.2 237.1h0M83.0 264.3h0M59.7 224.7h0M14.0 321.8h0M241.2 36.8h0M73.3 214.8h0M41.4 190.1h0M84.2 197.0h0M5.9 181.3h0M18.4 10.9h0M75.5 144.5h0M230.4 83.4h0M170.9 1.6h0M78.2 32.4h0M188.7 16.7h0M170.5 58.9h0M299.3 198.4h0M319.4 121.0h0M222.6 32.9h0M273.0 218.6h0M67.6 191.3h0M24.9 245.4h0M185.6 127.3h0M244.8 128.4h0M235.0 161.8h0M148.4 259.6h0M47.6 135.4h0M210.5 41.8h0M142.5 170.3h0M83.6 290.8h0M254.3 186.4h0M73.1 201.9h0M62.2 261.4h0M198.9 141.2h0M183.9 151.8h0M314.0 23.7h0M280.6 43.8h0M124.0 151.0h0M119.0 174.8h0M143.8 282.9h0M30.2 205.8h0M204.2 100.1h0M148.6 75.4h0M123.2 118.5h0M25.1 148.6h0M301.9 106.0h0M130.0 267.6h0M244.7 318.2h0M202.2 218.0h0M60.6 312.2h0M9.1 114.0h0M141.8 176.4h0M270.7 126.7h0M207.2 48.9h0M300.8 30.9h0M66.4 81.6h0M81.3 111.4h0M78.0 198.4h0M121.1 249.5h0M46.8 276.5h0M321.2 273.3h0M133.7 170.5h0M35.2 323.5h0M2.9 34.4h0M16.2 292.1h0M156.4 181.6h0M163.1 19.6h0M221.5 284.5h0M159.8 42.8h0M35.2 68.8h0M164.7 298.0h0M68.3 122.6h0M139.9 139.0h0M227.1 213.9h0M179.2 65.7h0M271.4 194.4h0M317.6 292.3h0M184.8 134.1h0M39.6 228.3h0M295.7 69.7h0M225.2 255.5h0M64.3 101.8h0M83.1 235.3h0M5.9 188.4h0M48.9 197.2h0M297.5 49.2h0M313.4 300.9h0M228.1 170.3h0M44.9 202.0h0M141.7 315.4h0M154.2 123.5h0M17.5 229.8h0M228.9 238.7h0M8.0 155.5h0M33.2 181.3h0M217.6 142.2h0M306.7 115.4h0M299.7 196.9h0M165.4 314.4h0M110.6 272.3h0M198.0 141.6h0M256.8 52.8h0M36.0 194.0h0M75.8 61.7h0M131.6 162.6h0M41.1 138.7h0M167.7 143.0h0M52.7 193.2h0M81.3 143.8h0M137.4 87.6h0M201.9 9.1h0M184.8 223.1h0M248.7 226.2h0M259.3 113.4h0M215.9 211.0h0M130.2 13.1h0M37.1 306.2h0M196.5 238.3h0M270.7 105.8h0M144.4 30.7h0M207.5 186.9h0M198.9 53.9h0M318.7 58.9h0M263.5 234.6h0M190.8 166.0h0M131.8 153.7h0M256.9 43.4h0M228.6 0.5h0M253.0 64.0h0M128.4 272.0h0M147.4 312.1h0M48.0 157.2h0M67.7 135.5h0M190.6 150.8h0M9.4 38.7h0M63.7 179.8h0M279.7 244.8h0M156.1 95.9h0M203.1 312.6h0M266.6 291.8h0M274.7 50.6h0M253.0 74.7h0M29.3 60.7h0M101.9 163.3h0M147.9 132.0h0M75.4 111.9h0M183.0 242.7h0M180.2 109.8h0M269.9 55.8h0M33.9 97.7h0M270.9 61.7h0M258.2 123.6h0M50.2 87.2h0M264.1 100.4h0M186.7 104.6h0M238.6 319.7h0M289.8 52.8h0M239.4 220.8h0M291.6 177.6h0M267.8 163.1h0M90.4 85.1h0M16.6 254.5h0M209.8 151.9h0M15.4 104.3h0M43.7 225.7h0M188.8 6.9h0M199.0 191.7h0M9.9 9.3h0M218.0 213.7h0M232.7 176.7h0M89.8 77.9h0M57.1 293.1h0M60.7 69.4h0M312.1 324.9h0M213.6 197.7h0M138.2 209.6h0M174.0 210.1h0M202.8 43.0h0M197.2 155.9h0M140.6 65.3h0M153.0 105.8h0M296.8 14.7h0M10.5 36.5h0M168.7 174.6h0M98.1 239.3h0M221.1 9.9h0M54.6 63.0h0M122.3 190.8h0M171.3 131.0h0M282.3 244.4h0M227.4 126.7h0M237.4 219.7h0M208.1 19.4h0M267.9 296.7h0M113.2 27.3h0M179.3 276.7h0M93.4 1.3h0M47.1 177.2h0M204.2 21.9h0M17.6 262.5h0M193.4 62.1h0M228.9 193.0h0M104.5 172.3h0M85.2 263.5h0M234.2 220.8h0M255.1 107.4h0M298.8 132.7h0M199.0 283.5h0M246.3 311.1h0M70.2 308.2h0M140.4 125.8h0M323.0 169.7h0M26.2 134.3h0M65.5 269.2h0M270.6 85.1h0M252.7 129.0h0M215.8 262.8h0M122.0 87.9h0M281.4 2.2h0M190.6 7.1h0M133.7 38.5h0M218.6 136.9h0M22.9 147.2h0M172.8 265.3h0M280.4 319.6h0M86.0 81.3h0M16.3 30.5h0M110.2 305.7h0M168.9 92.5h0M219.9 252.2h0M245.5 280.3h0M6.5 255.5h0M59.2 218.3h0M111.2 25.4h0M65.3 123.7h0M118.9 235.6h0M224.3 116.4h0M176.7 270.5h0M177.1 106.8h0M269.1 78.9h0M140.9 44.9h0M324.7 311.8h0M312.9 33.9h0M244.5 230.3h0M297.0 172.2h0M294.2 69.1h0M14.8 136.3h0M265.8 55.9h0M250.0 7.7h0M48.3 250.4h0M45.8 36.4h0M228.3 37.7h0M246.3 173.1h0M12.7 232.4h0M178.4 321.1h0M10.5 266.5h0M246.0 38.6h0M201.7 153.0h0M254.9 102.7h0M99.9 21.6h0M264.2 137.6h0M15.4 253.7h0M112.6 213.0h0M86.8 39.8h0M182.8 322.3h0M285.3 93.4h0M10.2 113.7h0M160.9 149.0h0M99.3 291.1h0M218.9 208.3h0M246.8 167.4h0M51.4 82.1h0M215.6 7.7h0M130.5 284.0h0M167.1 263.3h0M99.2 91.5h0M303.5 181.0h0M203.6 241.0h0M44.6 3.6h0M97.0 261.6h0M172.9 299.1h0M49.2 16.6h0M231.8 281.8h0M218.9 112.7h0M308.5 108.2h0M182.1 99.3h0M136.4 178.8h0M222.5 151.5h0M286.6 87.5h0M243.9 316.5h0M67.0 65.4h0M180.7 224.0h0M313.4 131.7h0M171.3 213.7h0M296.1 249.7h0M205.2 19.1h0M180.3 240.8h0M4.3 14.6h0M141.0 139.6h0M63.0 173.8h0M212.2 213.8h0M250.1 146.5h0M254.1 266.7h0M177.4 199.7h0M153.9 299.5h0" stroke="#7a3a78" stroke-width="4.0" stroke-linecap="round" fill="none"/>
<path d="M271.4 239.2h0M100.1 196.9h0M289.7 170.9h0M219.1 59.1h0M258.8 238.7h0M172.3 159.3h0M184.4 299.1h0M227.2 54.0h0M311.0 229.5h0M168.2 211.7h0M101.3 67.5h0M266.5 235.9h0M284.4 34.5h0M286.0 137.4h0M218.5 26.9h0M11.8 111.9h0M10.0 145.8h0M240.3 293.2h0M280.1 229.2h0M33.1 145.5h0M167.2 46.7h0M31.1 206.4h0M192.0 202.9h0M132.8 36.1h0M75.2 70.6h0M150.8 100.7h0M69.0 294.6h0M236.8 141.0h0M260.7 119.0h0M146.6 133.5h0M92.4 121.2h0M39.6 26.2h0M208.2 311.9h0M8.0 214.2h0M170.9 155.2h0M261.3 302.9h0M96.4 75.3h0M84.3 139.0h0M298.4 190.4h0M28.0 291.0h0M75.3 218.0h0M175.7 308.7h0M31.2 167.9h0M143.3 9.6h0M286.4 58.6h0M156.7 131.6h0M304.2 229.3h0M312.5 107.5h0M213.9 247.5h0M216.6 317.6h0M3.8 151.0h0M286.9 211.3h0M5.6 306.5h0M197.0 294.2h0M32.6 265.1h0M64.8 241.9h0M157.7 272.1h0M245.1 157.6h0M108.8 86.8h0M8.9 25.9h0M56.4 243.8h0M131.4 219.4h0M3.4 181.2h0M210.8 157.2h0M297.1 24.9h0M98.8 210.1h0M212.2 127.7h0M172.3 276.6h0M311.1 36.4h0M143.6 94.9h0M299.4 143.6h0M77.3 61.6h0M121.4 115.7h0M75.7 262.8h0M285.4 300.9h0M224.1 308.4h0M243.9 282.5h0M128.4 56.8h0M115.0 154.9h0M298.1 287.0h0M253.0 43.2h0M274.6 109.9h0M127.4 154.0h0M102.9 272.2h0M191.0 175.0h0M304.5 220.9h0M25.1 99.4h0M56.2 47.7h0M29.9 315.7h0M298.4 267.2h0M69.9 123.2h0M278.9 293.9h0M34.2 265.8h0M259.1 263.7h0M153.6 92.4h0M320.5 74.5h0M188.3 209.7h0M241.1 228.4h0M15.5 251.0h0M63.6 35.2h0M176.8 60.6h0M94.8 67.9h0M227.7 90.1h0M234.0 148.0h0M174.7 127.5h0M300.1 65.4h0M147.6 112.4h0M82.7 62.0h0M62.4 152.5h0M100.5 55.4h0M279.4 72.2h0M213.9 287.6h0M100.0 67.4h0M97.2 4.1h0M143.1 136.3h0M21.1 191.2h0M209.5 161.0h0M228.5 284.1h0M69.2 20.1h0M72.8 173.1h0M29.4 307.3h0M167.2 32.8h0M168.9 254.3h0M46.1 104.5h0M200.0 210.1h0M100.9 214.7h0M254.7 118.1h0M206.5 261.6h0M218.4 324.7h0M280.0 24.9h0M192.6 314.1h0M218.6 95.8h0M13.1 80.2h0M290.6 130.9h0M211.7 17.0h0M171.4 131.0h0M121.1 316.5h0M308.9 259.7h0M114.0 7.5h0M317.5 207.3h0M243.8 309.5h0M272.8 316.1h0M231.3 118.6h0M150.0 215.6h0M173.7 149.8h0M245.2 136.4h0M291.6 242.8h0M311.4 38.1h0M202.7 147.8h0M314.2 126.9h0M162.0 321.1h0M132.2 296.3h0M131.5 210.2h0M291.1 217.8h0M194.8 130.8h0M9.9 160.4h0M16.6 107.2h0M291.5 315.4h0M269.6 184.6h0M151.2 90.8h0M186.2 78.6h0M190.3 77.4h0M58.4 64.4h0M300.4 274.3h0M285.0 99.1h0M153.5 39.6h0M57.1 261.6h0M262.4 171.1h0M93.0 8.8h0M12.7 109.7h0M50.0 74.2h0M206.3 261.4h0M276.0 50.5h0M251.7 164.0h0M316.6 309.5h0M114.1 311.1h0M5.7 207.6h0M239.7 318.9h0M184.0 285.8h0M29.0 302.2h0M133.5 213.5h0M108.5 300.8h0M112.0 60.1h0M213.3 14.0h0M122.8 136.8h0M72.5 87.2h0M293.8 28.0h0M234.0 57.6h0M201.7 230.6h0M45.4 311.9h0M2.4 137.2h0M83.4 75.7h0M157.1 273.7h0M320.1 56.3h0M95.7 187.4h0M2.6 301.4h0M149.4 29.2h0M162.9 152.8h0M51.2 71.0h0M315.6 288.9h0M264.4 46.0h0M255.6 13.8h0M323.9 236.2h0M291.1 303.9h0M201.4 130.1h0M105.2 95.1h0M15.5 119.4h0M144.3 219.5h0M73.5 124.5h0M213.5 56.4h0M136.2 270.5h0M317.0 211.9h0M154.7 305.7h0M2.4 66.8h0M275.2 250.2h0M5.9 190.4h0M292.0 34.6h0M76.8 288.0h0M70.2 217.1h0M310.4 189.5h0M91.4 224.7h0M66.7 42.8h0M81.0 34.3h0M27.4 266.2h0M212.2 94.9h0M100.8 29.1h0M61.8 121.9h0M100.2 44.7h0M95.4 256.5h0M246.6 67.1h0M183.0 192.9h0M307.9 244.5h0M56.2 295.9h0M269.0 26.2h0M251.1 262.2h0M33.9 212.2h0M151.9 209.4h0M273.3 315.1h0M107.7 23.4h0M90.6 246.6h0M88.7 202.4h0M278.3 143.9h0M213.1 103.7h0M149.2 139.6h0M216.6 230.6h0M262.8 132.5h0M280.5 18.1h0M93.6 243.7h0M320.5 245.2h0M268.3 53.6h0M248.3 59.3h0M86.5 266.5h0M69.8 156.8h0M159.4 311.8h0M12.5 132.6h0M211.1 172.4h0M32.0 149.9h0M55.4 56.4h0M60.7 108.6h0M198.5 197.7h0M128.9 317.3h0M190.3 310.7h0M251.0 157.9h0M275.6 243.6h0M5.6 52.7h0M290.6 115.0h0M110.1 36.1h0M97.2 305.5h0M83.2 159.3h0M251.0 85.8h0M168.5 191.1h0M127.9 249.0h0M274.6 86.9h0M264.3 6.4h0M173.0 205.1h0M264.0 315.6h0M59.8 255.0h0M246.0 226.1h0M89.2 319.6h0M229.4 264.7h0M138.7 77.1h0M162.1 88.7h0M70.7 298.9h0M314.5 111.2h0M73.0 63.6h0M24.5 162.8h0M109.6 245.7h0M74.5 98.0h0M155.8 205.5h0M9.3 137.1h0M59.4 285.9h0M89.6 208.5h0M222.0 10.4h0M225.7 221.6h0M277.3 312.8h0M140.4 176.0h0M195.5 76.7h0M4.9 173.5h0M295.8 157.7h0M65.0 3.8h0M111.6 128.5h0M189.2 204.7h0M189.7 151.2h0M87.0 31.3h0M228.9 265.3h0M70.6 44.7h0M58.7 245.2h0M1.2 162.6h0M172.1 221.9h0M11.8 132.6h0M125.5 247.4h0M28.1 151.2h0M256.0 215.5h0M240.3 127.9h0M198.9 194.2h0M255.7 136.9h0M77.7 13.7h0M223.4 142.3h0M131.4 228.1h0M114.0 155.8h0M258.5 313.1h0M173.7 50.3h0M145.5 100.5h0M96.2 299.5h0M299.0 116.1h0M287.1 189.7h0M78.1 234.5h0M251.5 60.3h0M148.2 26.1h0M23.6 166.8h0M189.7 114.5h0M310.5 82.6h0M252.4 212.6h0M154.9 59.2h0M169.8 277.5h0M159.0 5.7h0M177.7 237.7h0M248.3 242.7h0M170.5 249.5h0M289.4 157.3h0M193.4 290.0h0M169.6 123.4h0M17.8 131.5h0M165.4 145.6h0M147.2 224.6h0M249.4 96.2h0M105.3 50.0h0M324.0 163.8h0M54.9 270.7h0M98.8 132.0h0M175.0 189.0h0M314.8 173.7h0M196.3 292.9h0M235.8 206.1h0M241.0 63.9h0M144.8 309.6h0M235.1 66.8h0M321.6 48.7h0M52.1 286.1h0M120.9 294.6h0M286.5 245.5h0M247.9 72.0h0M188.6 209.4h0M145.4 274.2h0M62.6 279.3h0M20.3 256.7h0M59.9 198.4h0M3.3 236.9h0" stroke="#7a3a78" stroke-width="5.0" stroke-linecap="round" fill="none"/>
<path d="M127.8 235.0h0M44.4 165.8h0M319.4 303.6h0M31.2 115.7h0M228.4 131.4h0M198.3 128.2h0M313.0 202.7h0M274.2 276.9h0M21.1 199.8h0" stroke="#7a3a78" stroke-width="6.0" stroke-linecap="round" fill="none"/>
<path d="M189.7 128.9h0M117.0 233.6h0M93.1 133.9h0M135.3 306.4h0M182.3 41.7h0M318.1 315.7h0M219.7 51.5h0M252.2 283.9h0M104.0 157.9h0M243.1 235.6h0M303.2 18.0h0M314.4 270.4h0M251.5 275.8h0M203.6 319.7h0M150.4 44.9h0M203.0 218.0h0M165.1 3.6h0M228.7 76.8h0M322.9 252.8h0M259.2 129.3h0M34.1 134.3h0M11.2 319.7h0M212.2 47.8h0M305.3 312.5h0M156.7 56.7h0M51.9 10.9h0M273.2 323.1h0M100.1 250.3h0M169.7 270.4h0M49.0 108.2h0M298.0 39.0h0M250.8 80.3h0M93.0 303.0h0M217.2 226.6h0M133.9 102.5h0M120.3 290.9h0M302.9 137.7h0M247.7 275.8h0M153.7 121.5h0M214.6 300.6h0M312.8 199.2h0M274.0 77.7h0M15.4 226.8h0M79.4 16.2h0M194.6 49.8h0M71.7 98.2h0M270.5 174.9h0M181.2 108.4h0M115.9 159.8h0M87.0 275.0h0M279.9 281.0h0M220.7 245.3h0M174.0 279.3h0M145.5 221.0h0M256.2 258.7h0M130.2 286.6h0M11.7 262.8h0M241.8 5.5h0M37.3 318.7h0M2.2 323.0h0M218.8 273.7h0M262.4 185.1h0M270.3 60.0h0M236.8 218.2h0M75.3 121.8h0M238.5 24.4h0M300.0 249.8h0M54.4 1.3h0M58.3 260.8h0M228.8 250.4h0M78.3 161.2h0M315.2 149.5h0M321.7 4.8h0M29.6 272.1h0M257.5 62.7h0M105.4 290.3h0M61.6 254.2h0M160.5 73.9h0M273.1 73.5h0M187.7 308.0h0M105.0 111.3h0M297.2 187.9h0M102.2 110.5h0M70.6 303.5h0M167.7 307.7h0M314.3 132.9h0M175.8 31.2h0M187.3 149.9h0M33.8 166.3h0M202.8 293.4h0M22.3 91.4h0M152.3 183.0h0M133.7 22.5h0M6.5 287.2h0M271.6 162.5h0M156.2 70.4h0" stroke="#a03050" stroke-width="4.0" stroke-linecap="round" fill="none"/>
<path d="M247.1 228.4h0M193.7 120.7h0M86.2 66.6h0M302.8 60.1h0M172.7 264.9h0M120.4 134.9h0M144.6 119.6h0M29.9 6.7h0M27.2 153.8h0M73.2 132.1h0M90.9 56.5h0M126.5 67.0h0M154.4 170.8h0M270.3 26.5h0M248.5 58.3h0M58.6 321.9h0M123.1 323.2h0M104.1 24.4h0M285.7 153.5h0M198.5 221.4h0M318.8 232.1h0M79.9 29.7h0M296.0 271.1h0M172.0 209.6h0M79.7 313.6h0M158.5 194.5h0M4.4 89.0h0M119.0 212.2h0M301.1 76.3h0M186.5 17.1h0M259.7 62.4h0M275.7 61.3h0M108.9 250.2h0M152.0 293.6h0M52.2 231.8h0M232.8 172.9h0M194.9 12.1h0M203.8 77.3h0M261.1 240.4h0M73.5 251.6h0M288.7 27.3h0M104.3 141.4h0M288.3 269.6h0M188.3 155.1h0M261.5 293.3h0M247.6 97.1h0M91.8 244.5h0M108.7 178.1h0M216.1 37.8h0M276.4 193.1h0M105.8 124.5h0M158.0 66.6h0M3.1 223.4h0" stroke="#a03050" stroke-width="5.0" stroke-linecap="round" fill="none"/>
<path d="M209.9 177.1h0M264.9 92.3h0M89.6 201.7h0M19.3 273.9h0M93.3 57.9h0M206.7 86.0h0M117.5 186.9h0M106.0 153.5h0M274.1 36.9h0M205.3 83.2h0M149.3 207.9h0" stroke="#a03050" stroke-width="3.0" stroke-linecap="round" fill="none"/>
<path d="M-10.0,-10.0C1.7,-21.7 48.0,-15.0 60.0,-10.0C72.0,-5.0 63.7,9.7 62.0,20.0C60.3,30.3 57.0,45.0 50.0,52.0C43.0,59.0 30.0,60.7 20.0,62.0C10.0,63.3 -5.0,72.0 -10.0,60.0C-15.0,48.0 -21.7,1.7 -10.0,-10.0Z" fill="#b48cc0" stroke="#9a78b4" stroke-width="5"/>
<path d="M-4.6 -3.6h0M0.3 -2.6h0M16.6 -1.1h0M20.5 -1.1h0M24.3 -1.1h0M32.3 -2.0h0M36.1 -1.8h0M42.1 -5.1h0M45.8 -4.3h0M49.5 -3.7h0M56.4 7.7h0M55.0 17.2h0M56.7 21.1h0M50.2 26.0h0M50.5 30.1h0M50.3 34.7h0M40.8 49.0h0M34.8 47.4h0M30.4 46.8h0M28.8 54.0h0M24.0 50.0h0M17.1 51.4h0M13.2 52.5h0M5.0 53.3h0M-0.8 55.3h0M-2.5 52.5h0M-0.2 36.3h0M0.2 26.0h0M-0.8 15.2h0M-4.8 8.7h0M-5.3 4.1h0M-2.6 2.7h0" stroke="#8a64a4" stroke-width="3.0" stroke-linecap="round" fill="none" opacity="0.8"/>
<path d="M5.5 -0.5h0M8.1 -3.1h0M11.9 -3.9h0M28.6 -3.1h0M55.3 -5.3h0M53.1 1.3h0M56.5 3.0h0M55.5 12.7h0M44.7 37.4h0M45.4 42.5h0M44.5 47.2h0M20.4 54.4h0M9.3 52.7h0M-5.1 50.9h0M-2.2 44.6h0M-2.3 40.9h0M-5.1 33.9h0M-1.2 29.5h0M-3.7 21.6h0M-2.3 18.1h0" stroke="#8a64a4" stroke-width="4.0" stroke-linecap="round" fill="none" opacity="0.8"/>
<path d="M50.0,28.0C50.0,30.8 49.2,33.8 47.9,36.4C46.5,39.0 44.3,41.6 41.8,43.6C39.3,45.5 36.0,47.3 32.7,48.3C29.4,49.4 25.6,50.0 22.0,50.0C18.4,50.0 14.6,49.4 11.3,48.3C8.0,47.3 4.7,45.5 2.2,43.6C-0.3,41.6 -2.5,39.0 -3.9,36.4C-5.2,33.8 -6.0,30.8 -6.0,28.0C-6.0,25.2 -5.2,22.2 -3.9,19.6C-2.5,17.0 -0.3,14.4 2.2,12.4C4.7,10.5 8.0,8.7 11.3,7.7C14.6,6.6 18.4,6.0 22.0,6.0C25.6,6.0 29.4,6.6 32.7,7.7C36.0,8.7 39.3,10.5 41.8,12.4C44.3,14.4 46.5,17.0 47.9,19.6C49.2,22.2 50.0,25.2 50.0,28.0Z" fill="url(#hp1)"/>
<path d="M304.5,70.5C302.8,77.2 297.9,83.6 290.8,88.4C283.7,93.2 273.2,97.1 261.7,99.2C250.2,101.4 235.9,102.1 221.7,101.3C207.6,100.5 191.5,98.0 176.9,94.4C162.3,90.8 147.0,85.4 134.1,79.5C121.3,73.6 109.0,66.2 99.8,58.9C90.7,51.6 83.3,43.2 79.2,35.7C75.2,28.1 73.8,20.1 75.5,13.5C77.2,6.8 82.1,0.4 89.2,-4.4C96.3,-9.2 106.8,-13.1 118.3,-15.2C129.8,-17.4 144.1,-18.1 158.3,-17.3C172.4,-16.5 188.5,-14.0 203.1,-10.4C217.7,-6.8 233.0,-1.4 245.9,4.5C258.7,10.4 271.0,17.8 280.2,25.1C289.3,32.4 296.7,40.8 300.8,48.3C304.8,55.9 306.2,63.9 304.5,70.5Z" fill="#b48cc0" stroke="#9a78b4" stroke-width="5"/>
<path d="M296.8 68.5h0M290.7 76.9h0M288.2 81.4h0M280.8 83.5h0M280.7 87.4h0M263.7 90.2h0M253.3 92.1h0M252.2 95.3h0M234.9 92.0h0M223.1 94.7h0M218.4 94.4h0M214.1 94.0h0M209.3 92.3h0M179.8 84.2h0M176.0 82.7h0M170.9 83.8h0M162.0 82.0h0M157.6 80.8h0M156.2 76.5h0M129.0 68.3h0M120.6 63.9h0M115.9 61.9h0M114.2 59.0h0M105.0 57.8h0M104.6 53.7h0M100.5 50.3h0M91.0 43.2h0M83.9 20.4h0M85.9 15.8h0M89.9 7.0h0M90.6 1.9h0M101.0 -3.0h0M105.2 -4.8h0M114.3 -8.1h0M117.6 -10.6h0M124.3 -10.7h0M139.2 -10.3h0M143.5 -10.8h0M148.2 -10.8h0M151.6 -12.4h0M157.3 -11.1h0M161.2 -12.3h0M170.9 -9.6h0M184.4 -6.1h0M188.5 -7.4h0M192.9 -3.7h0M201.4 -2.6h0M210.2 -1.7h0M226.1 5.1h0M239.4 8.8h0M243.3 11.0h0M252.4 14.9h0M258.5 16.4h0M257.8 20.3h0M270.0 26.9h0M274.9 30.1h0M291.1 44.2h0M295.4 47.9h0M292.0 52.7h0M293.0 57.7h0" stroke="#8a64a4" stroke-width="3.0" stroke-linecap="round" fill="none" opacity="0.8"/>
<path d="M290.7 71.7h0M276.1 89.1h0M269.5 89.5h0M259.7 92.2h0M245.1 93.2h0M242.2 95.1h0M233.5 96.2h0M228.2 95.4h0M204.7 90.6h0M200.1 87.7h0M196.1 88.8h0M191.9 89.4h0M187.7 87.2h0M183.8 84.9h0M166.2 83.5h0M150.7 76.6h0M147.7 74.3h0M141.9 74.2h0M138.9 71.5h0M132.7 70.6h0M123.2 66.8h0M95.5 46.8h0M90.6 39.6h0M89.0 36.1h0M86.3 30.8h0M85.5 25.7h0M87.1 11.2h0M94.1 -2.3h0M109.4 -6.6h0M129.2 -10.7h0M133.1 -11.5h0M168.2 -6.8h0M175.7 -7.6h0M179.7 -8.1h0M197.2 -4.0h0M206.2 -3.6h0M212.9 2.6h0M217.5 2.9h0M221.3 4.6h0M230.1 6.6h0M236.5 6.3h0M248.0 12.8h0M262.7 22.2h0M266.9 24.4h0M278.2 33.5h0M281.0 37.0h0M285.5 40.5h0M293.6 62.8h0" stroke="#8a64a4" stroke-width="4.0" stroke-linecap="round" fill="none" opacity="0.8"/>
<path d="M285.1,63.2C284.2,67.1 280.6,70.6 275.2,73.0C269.8,75.4 261.6,77.1 252.6,77.7C243.5,78.3 232.1,77.9 220.7,76.7C209.4,75.4 196.4,73.0 184.5,70.1C172.6,67.1 160.0,63.1 149.4,58.9C138.8,54.7 128.6,49.7 120.8,44.8C113.1,40.0 106.7,34.7 103.1,30.1C99.4,25.4 97.9,20.6 98.9,16.8C99.8,12.9 103.4,9.4 108.8,7.0C114.2,4.6 122.4,2.9 131.4,2.3C140.5,1.7 151.9,2.1 163.3,3.3C174.6,4.6 187.6,7.0 199.5,9.9C211.4,12.9 224.0,16.9 234.6,21.1C245.2,25.3 255.4,30.3 263.2,35.2C270.9,40.0 277.3,45.3 280.9,49.9C284.6,54.6 286.1,59.4 285.1,63.2Z" fill="url(#hp1)"/>
<path d="M154.7,94.6C153.7,100.4 150.3,106.2 145.4,110.8C140.4,115.4 133.0,119.6 124.8,122.3C116.7,125.1 106.4,126.9 96.3,127.4C86.1,127.9 74.6,127.2 64.0,125.3C53.5,123.4 42.3,120.2 33.0,116.3C23.6,112.3 14.6,107.1 7.9,101.7C1.1,96.3 -4.4,89.9 -7.5,83.9C-10.6,77.8 -11.7,71.2 -10.7,65.4C-9.7,59.6 -6.3,53.8 -1.4,49.2C3.6,44.6 11.0,40.4 19.2,37.7C27.3,34.9 37.6,33.1 47.7,32.6C57.9,32.1 69.4,32.8 80.0,34.7C90.5,36.6 101.7,39.8 111.0,43.7C120.4,47.7 129.4,52.9 136.1,58.3C142.9,63.7 148.4,70.1 151.5,76.1C154.6,82.2 155.7,88.8 154.7,94.6Z" fill="#b48cc0" stroke="#9a78b4" stroke-width="5"/>
<path d="M149.8 93.6h0M136.9 106.9h0M135.1 110.9h0M109.7 119.9h0M103.8 119.8h0M87.9 118.0h0M74.8 116.4h0M70.1 119.4h0M50.0 110.6h0M43.6 111.9h0M39.6 110.2h0M33.5 109.2h0M13.0 94.8h0M4.8 87.2h0M-3.4 77.7h0M-3.2 72.0h0M13.7 50.7h0M15.6 46.9h0M22.5 45.7h0M25.8 42.5h0M31.4 42.0h0M47.6 41.1h0M51.0 38.0h0M57.2 41.4h0M70.3 42.1h0M74.7 42.4h0M114.2 53.8h0M119.6 55.7h0M134.0 68.7h0M138.3 72.5h0M146.4 76.3h0M144.0 87.2h0" stroke="#8a64a4" stroke-width="4.0" stroke-linecap="round" fill="none" opacity="0.8"/>
<path d="M142.9 97.5h0M143.8 103.7h0M130.9 113.9h0M124.4 115.3h0M119.5 117.6h0M111.6 115.6h0M97.0 117.5h0M92.8 119.3h0M83.7 118.1h0M79.0 115.8h0M65.3 120.0h0M62.4 113.6h0M56.3 116.9h0M51.5 115.9h0M31.9 104.8h0M27.4 102.6h0M20.0 101.6h0M13.1 99.9h0M8.4 91.2h0M1.3 83.2h0M-0.5 66.9h0M1.9 62.1h0M2.8 56.7h0M8.3 52.8h0M35.1 40.0h0M40.6 39.5h0M61.4 41.3h0M66.1 42.4h0M78.8 44.7h0M83.4 43.3h0M87.6 45.0h0M90.8 48.2h0M97.7 45.1h0M101.3 47.5h0M104.7 49.8h0M111.1 50.4h0M120.8 59.5h0M127.3 61.1h0M130.9 64.9h0M143.3 81.8h0" stroke="#8a64a4" stroke-width="3.0" stroke-linecap="round" fill="none" opacity="0.8"/>
<path d="M135.1,88.6C134.5,92.0 132.2,95.3 128.7,98.0C125.2,100.6 120.0,102.8 114.2,104.3C108.3,105.7 101.0,106.6 93.7,106.6C86.3,106.7 78.0,105.9 70.3,104.6C62.6,103.2 54.5,101.1 47.7,98.5C40.8,96.0 34.2,92.7 29.2,89.3C24.2,86.0 20.1,82.0 17.7,78.4C15.3,74.7 14.3,70.8 14.9,67.4C15.5,64.0 17.8,60.7 21.3,58.0C24.8,55.4 30.0,53.2 35.8,51.7C41.7,50.3 49.0,49.4 56.3,49.4C63.7,49.3 72.0,50.1 79.7,51.4C87.4,52.8 95.5,54.9 102.3,57.5C109.2,60.0 115.8,63.3 120.8,66.7C125.8,70.0 129.9,74.0 132.3,77.6C134.7,81.3 135.7,85.2 135.1,88.6Z" fill="url(#hp1)"/>
<path d="M300.4,252.4C296.8,260.0 289.9,266.8 281.2,271.3C272.4,275.8 260.4,278.7 247.7,279.4C235.1,280.0 219.8,278.6 205.2,275.3C190.6,272.1 174.4,266.5 160.1,259.8C145.8,253.1 131.1,244.3 119.2,235.2C107.3,226.1 96.4,215.4 88.8,205.2C81.2,195.1 75.7,184.1 73.5,174.5C71.3,164.9 72.1,155.2 75.6,147.6C79.2,140.0 86.1,133.2 94.8,128.7C103.6,124.2 115.6,121.3 128.3,120.6C140.9,120.0 156.2,121.4 170.8,124.7C185.4,127.9 201.6,133.5 215.9,140.2C230.2,146.9 244.9,155.7 256.8,164.8C268.7,173.9 279.6,184.6 287.2,194.8C294.8,204.9 300.3,215.9 302.5,225.5C304.7,235.1 303.9,244.8 300.4,252.4Z" fill="#b48cc0" stroke="#9a78b4" stroke-width="5"/>
<path d="M290.7 247.8h0M291.3 253.4h0M288.5 257.5h0M279.5 257.7h0M278.4 262.8h0M273.5 265.3h0M257.9 268.7h0M247.8 271.2h0M243.2 273.1h0M238.2 272.4h0M232.8 271.1h0M221.7 267.2h0M212.7 267.0h0M203.5 266.7h0M198.8 263.7h0M194.7 265.4h0M181.4 258.3h0M167.1 256.6h0M153.2 243.6h0M141.6 242.5h0M136.8 235.1h0M125.3 232.2h0M122.1 228.6h0M113.1 222.4h0M113.3 218.0h0M104.9 211.6h0M101.3 208.2h0M98.4 204.7h0M94.8 195.5h0M87.2 190.4h0M80.9 180.5h0M83.1 151.0h0M84.7 146.5h0M92.7 139.7h0M98.6 137.7h0M107.9 133.4h0M132.8 126.5h0M147.7 128.1h0M153.3 129.9h0M168.7 134.3h0M177.1 133.3h0M182.1 138.1h0M186.4 139.9h0M190.7 140.4h0M199.5 143.1h0M204.3 143.0h0M208.7 144.7h0M213.4 146.0h0M217.6 148.2h0M231.7 160.4h0M236.1 162.4h0M243.1 167.6h0M263.1 177.6h0M262.3 182.2h0M266.5 185.3h0M271.3 188.5h0M277.8 195.3h0M284.4 199.9h0M286.2 204.7h0M286.7 209.4h0M286.7 213.7h0M292.9 223.3h0M293.6 228.6h0" stroke="#8a64a4" stroke-width="3.0" stroke-linecap="round" fill="none" opacity="0.8"/>
<path d="M270.5 268.4h0M263.2 267.7h0M252.6 269.7h0M227.7 270.2h0M217.8 268.5h0M208.9 269.6h0M190.2 264.0h0M186.0 257.5h0M177.6 254.4h0M173.2 253.6h0M163.6 252.7h0M158.7 251.8h0M155.7 247.9h0M146.2 244.6h0M136.9 240.4h0M130.5 234.1h0M120.4 224.6h0M110.3 214.6h0M97.4 200.1h0M88.2 186.0h0M84.2 176.8h0M79.0 170.4h0M83.7 166.6h0M80.0 160.2h0M80.3 155.1h0M91.4 144.6h0M101.7 133.9h0M111.3 130.7h0M117.8 130.7h0M122.6 129.1h0M126.8 126.8h0M136.5 125.3h0M143.5 128.7h0M157.3 128.7h0M162.0 128.3h0M173.5 135.2h0M195.2 141.0h0M222.0 150.2h0M225.5 153.7h0M228.4 157.4h0M239.3 165.2h0M251.6 167.5h0M255.1 171.0h0M257.9 174.7h0M277.1 191.6h0M292.1 218.9h0M295.4 234.2h0M296.6 239.9h0M291.0 242.9h0" stroke="#8a64a4" stroke-width="4.0" stroke-linecap="round" fill="none" opacity="0.8"/>
<path d="M280.6,242.3C278.4,247.0 273.6,250.9 267.1,253.3C260.6,255.6 251.6,256.6 241.8,256.2C232.1,255.7 220.2,253.7 208.7,250.5C197.1,247.3 184.2,242.5 172.7,237.2C161.1,231.8 149.1,225.0 139.3,218.2C129.5,211.4 120.3,203.6 113.7,196.4C107.1,189.2 102.0,181.6 99.6,175.2C97.3,168.7 97.2,162.5 99.4,157.7C101.6,153.0 106.4,149.1 112.9,146.7C119.4,144.4 128.4,143.4 138.2,143.8C147.9,144.3 159.8,146.3 171.3,149.5C182.9,152.7 195.8,157.5 207.3,162.8C218.9,168.2 230.9,175.0 240.7,181.8C250.5,188.6 259.7,196.4 266.3,203.6C272.9,210.8 278.0,218.4 280.4,224.8C282.7,231.3 282.8,237.5 280.6,242.3Z" fill="url(#hp1)"/>
<path d="M-10.0,140.0C-4.2,123.7 14.2,143.3 25.0,150.0C35.8,156.7 50.0,168.3 55.0,180.0C60.0,191.7 59.2,209.2 55.0,220.0C50.8,230.8 40.8,240.3 30.0,245.0C19.2,249.7 -3.3,265.5 -10.0,248.0C-16.7,230.5 -15.8,156.3 -10.0,140.0Z" fill="#b48cc0" stroke="#9a78b4" stroke-width="5"/>
<path d="M-7.6 145.5h0M2.6 152.5h0M18.7 158.2h0M22.8 159.2h0M33.0 173.0h0M38.8 173.1h0M42.7 175.7h0M46.3 178.7h0M44.6 183.8h0M46.1 187.2h0M44.5 195.0h0M45.4 202.7h0M46.7 211.0h0M45.2 218.8h0M41.1 227.0h0M23.4 238.2h0M-2.6 241.0h0M-7.5 233.2h0M-6.1 226.5h0M-2.6 213.9h0M-2.7 206.8h0M-1.3 199.3h0M-0.1 195.9h0M-4.0 192.3h0M-2.5 178.4h0M-4.0 169.2h0M-6.9 156.1h0" stroke="#8a64a4" stroke-width="4.0" stroke-linecap="round" fill="none" opacity="0.8"/>
<path d="M-2.4 148.8h0M6.9 155.2h0M10.8 155.9h0M14.9 152.2h0M26.2 160.8h0M29.3 164.0h0M33.1 166.0h0M44.9 191.2h0M45.7 198.9h0M50.1 208.2h0M46.5 214.8h0M39.9 219.6h0M37.9 230.1h0M33.8 231.6h0M29.4 231.6h0M28.4 240.0h0M18.8 235.5h0M14.8 235.3h0M10.6 239.4h0M6.0 241.1h0M2.6 237.7h0M-7.0 241.4h0M-7.5 237.8h0M-5.5 221.3h0M-3.7 211.3h0M-1.6 202.7h0M-1.4 189.4h0M-0.8 186.4h0M-5.9 179.2h0M-5.9 170.7h0M-6.0 162.0h0M-5.4 154.6h0" stroke="#8a64a4" stroke-width="3.0" stroke-linecap="round" fill="none" opacity="0.8"/>
<path d="M44.0,195.0C44.0,199.3 43.2,204.0 41.7,208.0C40.3,212.0 37.9,216.0 35.2,219.0C32.5,222.1 29.0,224.8 25.5,226.4C21.9,228.1 17.8,229.0 14.0,229.0C10.2,229.0 6.1,228.1 2.5,226.4C-1.0,224.8 -4.5,222.1 -7.2,219.0C-9.9,216.0 -12.3,212.0 -13.7,208.0C-15.2,204.0 -16.0,199.3 -16.0,195.0C-16.0,190.7 -15.2,186.0 -13.7,182.0C-12.3,178.0 -9.9,174.0 -7.2,171.0C-4.5,167.9 -1.0,165.2 2.5,163.6C6.1,161.9 10.2,161.0 14.0,161.0C17.8,161.0 21.9,161.9 25.5,163.6C29.0,165.2 32.5,167.9 35.2,171.0C37.9,174.0 40.3,178.0 41.7,182.0C43.2,186.0 44.0,190.7 44.0,195.0Z" fill="url(#hp1)"/>
<path d="M-10.0,245.0C0.0,230.8 33.3,245.0 50.0,250.0C66.7,255.0 81.7,266.7 90.0,275.0C98.3,283.3 99.2,290.0 100.0,300.0C100.8,310.0 113.3,329.2 95.0,335.0C76.7,340.8 7.5,350.0 -10.0,335.0C-27.5,320.0 -20.0,259.2 -10.0,245.0Z" fill="#b48cc0" stroke="#9a78b4" stroke-width="5"/>
<path d="M-3.5 252.7h0M4.8 253.3h0M10.3 255.9h0M12.5 252.3h0M17.9 255.7h0M22.4 258.3h0M25.6 253.2h0M38.5 255.7h0M41.8 258.5h0M50.8 258.6h0M53.3 262.5h0M64.0 264.2h0M65.7 268.2h0M80.9 277.6h0M82.7 281.8h0M87.0 285.8h0M90.8 303.4h0M91.1 308.1h0M88.1 320.9h0M88.4 330.6h0M77.6 329.2h0M76.0 331.6h0M67.8 328.2h0M46.8 328.1h0M42.5 327.8h0M37.8 325.4h0M30.0 329.2h0M25.8 328.1h0M12.8 329.0h0M10.1 326.2h0M1.2 327.4h0M-1.4 317.9h0M-1.7 314.2h0M-1.1 302.1h0M-0.7 286.6h0M-0.3 279.1h0M-5.9 263.3h0M-4.2 260.4h0" stroke="#8a64a4" stroke-width="3.0" stroke-linecap="round" fill="none" opacity="0.8"/>
<path d="M0.5 252.8h0M30.0 255.1h0M34.2 255.8h0M46.4 257.5h0M59.1 262.6h0M72.2 269.1h0M72.0 273.5h0M75.3 275.9h0M91.2 290.1h0M88.2 294.6h0M92.6 299.2h0M88.3 311.8h0M92.5 318.0h0M86.1 324.4h0M86.1 332.2h0M64.1 328.7h0M61.2 330.4h0M56.7 330.3h0M51.1 328.2h0M34.4 330.1h0M21.4 328.9h0M17.2 328.6h0M2.9 330.9h0M-3.7 328.3h0M-5.2 325.5h0M-2.1 310.5h0M-1.3 306.1h0M0.1 298.0h0M-0.8 294.3h0M-2.0 290.4h0M-4.9 281.5h0M-4.0 273.3h0M-1.0 271.1h0M-3.9 256.5h0" stroke="#8a64a4" stroke-width="4.0" stroke-linecap="round" fill="none" opacity="0.8"/>
<path d="M75.0,292.0C75.0,296.6 73.8,301.5 71.6,305.8C69.4,310.0 65.9,314.2 61.8,317.5C57.8,320.7 52.5,323.5 47.2,325.3C41.9,327.0 35.7,328.0 30.0,328.0C24.3,328.0 18.1,327.0 12.8,325.3C7.5,323.5 2.2,320.7 -1.8,317.5C-5.9,314.2 -9.4,310.0 -11.6,305.8C-13.8,301.5 -15.0,296.6 -15.0,292.0C-15.0,287.4 -13.8,282.5 -11.6,278.2C-9.4,274.0 -5.9,269.8 -1.8,266.5C2.2,263.3 7.5,260.5 12.8,258.7C18.1,257.0 24.3,256.0 30.0,256.0C35.7,256.0 41.9,257.0 47.2,258.7C52.5,260.5 57.8,263.3 61.8,266.5C65.9,269.8 69.4,274.0 71.6,278.2C73.8,282.5 75.0,287.4 75.0,292.0Z" fill="url(#hp1)"/>
<path d="M200.0,335.0C184.2,328.3 206.7,303.3 215.0,295.0C223.3,286.7 237.5,285.8 250.0,285.0C262.5,284.2 280.0,281.7 290.0,290.0C300.0,298.3 325.0,327.5 310.0,335.0C295.0,342.5 215.8,341.7 200.0,335.0Z" fill="#b48cc0" stroke="#9a78b4" stroke-width="5"/>
<path d="M207.2 332.8h0M207.3 328.8h0M216.1 319.6h0M218.6 315.7h0M218.8 311.6h0M222.2 299.0h0M229.2 299.8h0M238.7 294.4h0M242.3 292.3h0M255.2 291.1h0M262.4 295.9h0M269.1 297.4h0M273.4 296.8h0M287.1 298.3h0M290.5 311.6h0M294.8 323.5h0M296.6 332.1h0M286.6 331.4h0M285.0 332.5h0M276.1 329.8h0M270.5 331.0h0M265.1 329.0h0M261.2 327.8h0M255.3 329.7h0M248.1 330.3h0M246.2 328.4h0M242.4 329.0h0M229.1 330.7h0M221.3 332.4h0M214.9 333.2h0M214.2 331.9h0" stroke="#8a64a4" stroke-width="4.0" stroke-linecap="round" fill="none" opacity="0.8"/>
<path d="M210.7 324.1h0M220.1 307.6h0M220.8 303.2h0M232.7 298.6h0M235.3 296.3h0M248.7 296.9h0M250.9 289.9h0M259.0 294.3h0M266.5 295.1h0M277.3 297.0h0M282.5 296.2h0M287.1 303.4h0M288.9 307.5h0M291.4 315.6h0M296.2 319.7h0M301.7 328.6h0M302.3 332.6h0M294.3 332.8h0M270.9 328.6h0M258.9 330.2h0M251.8 330.0h0M235.0 331.7h0M234.6 329.7h0" stroke="#8a64a4" stroke-width="3.0" stroke-linecap="round" fill="none" opacity="0.8"/>
<path d="M292.0,318.0C292.0,320.0 291.0,322.2 289.3,324.1C287.5,326.0 284.7,327.9 281.5,329.3C278.2,330.8 274.0,332.0 269.8,332.8C265.5,333.6 260.6,334.0 256.0,334.0C251.4,334.0 246.5,333.6 242.2,332.8C238.0,332.0 233.8,330.8 230.5,329.3C227.3,327.9 224.5,326.0 222.7,324.1C221.0,322.2 220.0,320.0 220.0,318.0C220.0,316.0 221.0,313.8 222.7,311.9C224.5,310.0 227.3,308.1 230.5,306.7C233.8,305.2 238.0,304.0 242.2,303.2C246.5,302.4 251.4,302.0 256.0,302.0C260.6,302.0 265.5,302.4 269.8,303.2C274.0,304.0 278.2,305.2 281.5,306.7C284.7,308.1 287.5,310.0 289.3,311.9C291.0,313.8 292.0,316.0 292.0,318.0Z" fill="url(#hp1)"/>
<path d="M335.0,110.0C329.2,95.0 307.5,116.7 300.0,125.0C292.5,133.3 290.0,147.5 290.0,160.0C290.0,172.5 292.5,190.8 300.0,200.0C307.5,209.2 329.2,230.0 335.0,215.0C340.8,200.0 340.8,125.0 335.0,110.0Z" fill="#b890c4" stroke="#9a78b4" stroke-width="5"/>
<path d="M333.7 115.0h0M328.9 118.8h0M316.1 125.1h0M308.2 129.9h0M304.6 132.3h0M305.2 138.5h0M296.7 155.9h0M302.0 170.6h0M302.4 179.0h0M302.7 195.1h0M306.9 197.3h0M320.3 201.5h0M329.1 206.9h0M332.6 205.1h0M333.4 203.8h0M333.1 198.3h0M333.4 195.0h0M332.4 188.0h0M330.3 176.0h0M331.6 174.8h0M327.6 160.0h0M330.9 146.2h0M331.0 142.8h0M331.1 135.5h0M332.2 128.5h0" stroke="#8a64a4" stroke-width="4.0" stroke-linecap="round" fill="none" opacity="0.8"/>
<path d="M324.7 119.4h0M320.4 124.4h0M312.5 128.8h0M301.1 139.0h0M302.4 145.1h0M300.0 148.1h0M299.8 152.4h0M299.6 160.0h0M297.0 164.1h0M301.5 167.0h0M300.2 176.1h0M301.3 185.3h0M302.9 188.7h0M311.7 198.0h0M316.1 199.3h0M324.5 202.9h0M330.8 180.4h0M328.2 167.2h0M327.8 164.5h0M327.7 162.2h0M328.9 157.4h0M330.5 153.5h0M331.0 149.6h0M333.0 134.5h0M333.1 121.6h0" stroke="#8a64a4" stroke-width="3.0" stroke-linecap="round" fill="none" opacity="0.8"/>
<path d="M340.0,160.0C340.0,163.8 339.5,167.9 338.6,171.5C337.8,175.0 336.4,178.5 334.7,181.2C333.1,183.9 331.0,186.3 328.9,187.7C326.8,189.2 324.3,190.0 322.0,190.0C319.7,190.0 317.2,189.2 315.1,187.7C313.0,186.3 310.9,183.9 309.3,181.2C307.6,178.5 306.2,175.0 305.4,171.5C304.5,167.9 304.0,163.8 304.0,160.0C304.0,156.2 304.5,152.1 305.4,148.5C306.2,145.0 307.6,141.5 309.3,138.8C310.9,136.1 313.0,133.7 315.1,132.3C317.2,130.8 319.7,130.0 322.0,130.0C324.3,130.0 326.8,130.8 328.9,132.3C331.0,133.7 333.1,136.1 334.7,138.8C336.4,141.5 337.8,145.0 338.6,148.5C339.5,152.1 340.0,156.2 340.0,160.0Z" fill="url(#hp1)"/>
</g></g></g>
<clipPath id="hc2"><rect x="43.3" y="869.6" width="325.7" height="325.2"/></clipPath>
<filter id="hf2" filterUnits="userSpaceOnUse" x="43.3" y="869.6" width="325.7" height="325.2" color-interpolation-filters="sRGB"><feTurbulence type="fractalNoise" baseFrequency="0.06" numOctaves="2" seed="3" result="tn"/><feDisplacementMap in="SourceGraphic" in2="tn" scale="9" xChannelSelector="R" yChannelSelector="G" result="dsp"/><feGaussianBlur in="dsp" stdDeviation="0.7" result="b"/><feTurbulence type="fractalNoise" baseFrequency="0.25" numOctaves="2" seed="53" result="fn"/><feColorMatrix in="fn" type="matrix" values="0.1 0 0 0 0.950 0.1 0 0 0 0.950 0.1 0 0 0 0.950 0 0 0 0 1" result="fn2"/><feBlend in="b" in2="fn2" mode="multiply" result="o"/><feComponentTransfer in="o"><feFuncA type="linear" slope="0" intercept="1"/></feComponentTransfer></filter>
<g clip-path="url(#hc2)"><g filter="url(#hf2)"><g transform="translate(43.3,869.6)">
<rect x="-12" y="-12" width="349.7" height="349.2" fill="#f5f4ee"/>
<path d="M161.0,-12.0C133.7,-2.7 177.8,33.8 174.0,44.0C170.2,54.2 150.5,47.8 138.0,49.0C125.5,50.2 110.5,50.3 99.0,51.0C87.5,51.7 79.0,52.3 69.0,53.0C59.0,53.7 41.0,51.7 39.0,55.0C37.0,58.3 51.7,67.2 57.0,73.0C62.3,78.8 68.7,85.3 71.0,90.0C73.3,94.7 69.8,96.2 71.0,101.0C72.2,105.8 79.5,114.3 78.0,119.0C76.5,123.7 63.8,125.2 62.0,129.0C60.2,132.8 61.3,139.0 67.0,142.0C72.7,145.0 88.8,143.8 96.0,147.0C103.2,150.2 104.5,155.7 110.0,161.0C115.5,166.3 122.8,174.8 129.0,179.0C135.2,183.2 137.2,182.5 147.0,186.0C156.8,189.5 176.2,194.3 188.0,200.0C199.8,205.7 209.2,215.0 218.0,220.0C226.8,225.0 233.3,225.3 241.0,230.0C248.7,234.7 254.5,243.5 264.0,248.0C273.5,252.5 285.7,254.7 298.0,257.0C310.3,259.3 331.3,306.8 338.0,262.0C344.7,217.2 367.5,33.7 338.0,-12.0C308.5,-57.7 188.3,-21.3 161.0,-12.0Z" fill="#d3a3b2"/>
<path d="M112.0,228.0C117.3,228.8 134.2,239.3 150.0,245.0C165.8,250.7 189.8,258.2 207.0,262.0C224.2,265.8 231.2,267.0 253.0,268.0C274.8,269.0 323.8,256.3 338.0,268.0C352.2,279.7 360.2,326.3 338.0,338.0C315.8,349.7 226.7,345.2 205.0,338.0C183.3,330.8 211.3,304.7 208.0,295.0C204.7,285.3 196.3,286.7 185.0,280.0C173.7,273.3 151.2,261.7 140.0,255.0C128.8,248.3 122.7,244.5 118.0,240.0C113.3,235.5 106.7,227.2 112.0,228.0Z" fill="#d0a0b0"/>
<path d="M215.0,-12.0C230.8,-24.0 289.2,-20.7 300.0,-12.0C310.8,-3.3 288.0,23.0 280.0,40.0C272.0,57.0 261.7,74.2 252.0,90.0C242.3,105.8 232.3,122.5 222.0,135.0C211.7,147.5 198.7,162.5 190.0,165.0C181.3,167.5 169.7,159.2 170.0,150.0C170.3,140.8 186.2,125.0 192.0,110.0C197.8,95.0 201.2,80.3 205.0,60.0C208.8,39.7 199.2,0.0 215.0,-12.0Z" fill="#eadde2"/>
<path d="M300.0,-12.0C304.7,-19.0 331.7,-20.7 338.0,-12.0C344.3,-3.3 342.7,33.0 338.0,40.0C333.3,47.0 316.3,38.7 310.0,30.0C303.7,21.3 295.3,-5.0 300.0,-12.0Z" fill="#e8dce0"/>
<path d="M60.0,62.0C68.3,63.0 93.3,65.3 110.0,68.0C126.7,70.7 146.7,77.7 160.0,78.0C173.3,78.3 183.3,76.3 190.0,70.0C196.7,63.7 199.2,50.0 200.0,40.0C200.8,30.0 195.8,15.0 195.0,10.0" fill="none" stroke="#c497ae" stroke-width="16" stroke-linecap="round" stroke-linejoin="round"/>
<path d="M260.0,60.0C260.8,68.3 264.7,93.3 265.0,110.0C265.3,126.7 261.2,143.3 262.0,160.0C262.8,176.7 263.7,197.5 270.0,210.0C276.3,222.5 295.0,230.8 300.0,235.0" fill="none" stroke="#c69bb0" stroke-width="26" stroke-linecap="round" stroke-linejoin="round"/>
<path d="M130.0,160.0C137.5,162.5 160.8,169.2 175.0,175.0C189.2,180.8 203.3,188.3 215.0,195.0C226.7,201.7 240.0,211.7 245.0,215.0" fill="none" stroke="#c89cb0" stroke-width="16" stroke-linecap="round" stroke-linejoin="round"/>
<path d="M215.0,300.0C220.8,298.7 237.5,293.7 250.0,292.0C262.5,290.3 276.7,290.0 290.0,290.0C303.3,290.0 323.3,291.7 330.0,292.0" fill="none" stroke="#c294ac" stroke-width="22" stroke-linecap="round" stroke-linejoin="round"/>
<path d="M219.0 83.9h0M248.3 95.7h0M201.1 126.4h0M257.1 138.6h0M270.3 19.1h0M245.9 46.3h0M268.3 148.5h0M264.0 64.5h0M203.5 94.1h0M202.5 33.6h0M248.8 27.6h0M241.7 84.5h0M233.2 89.1h0M249.3 96.7h0M247.4 51.4h0" stroke="#9a7c96" stroke-width="5.0" stroke-linecap="round" fill="none"/>
<path d="M218.7 149.4h0M266.9 74.1h0M241.9 112.5h0M205.1 114.9h0M217.4 145.0h0M250.1 48.6h0M230.9 55.9h0M246.7 136.1h0M277.2 136.2h0M257.1 35.6h0M224.8 16.2h0M271.7 59.8h0M241.6 98.4h0M240.6 67.5h0M250.2 72.6h0M228.2 107.5h0M201.8 13.8h0M277.1 41.4h0" stroke="#9a7c96" stroke-width="6.0" stroke-linecap="round" fill="none"/>
<path d="M212.0 97.1h0M224.1 9.5h0M237.8 109.2h0M264.1 69.5h0M274.3 129.2h0M253.7 28.6h0M223.5 116.5h0M257.5 53.0h0M278.5 78.3h0M269.4 50.5h0M244.7 94.9h0M219.0 48.7h0" stroke="#9a7c96" stroke-width="7.0" stroke-linecap="round" fill="none"/>
<path d="M254.4 293.5h0M223.0 303.5h0M246.3 284.4h0M296.8 280.1h0M256.7 316.7h0M314.1 283.5h0M291.5 319.2h0M244.8 281.0h0M290.6 315.3h0M249.8 292.3h0M316.8 324.3h0M302.0 316.8h0M277.1 289.5h0M245.0 278.4h0M318.6 320.0h0M253.0 308.1h0M265.5 322.0h0M272.5 314.1h0M249.9 288.4h0M314.0 279.3h0M254.7 290.7h0M291.2 304.3h0M281.1 310.8h0M228.8 283.9h0M286.5 314.1h0M308.1 306.1h0M261.0 299.8h0M266.3 309.7h0M247.0 301.8h0M227.9 296.2h0" stroke="#8c6a90" stroke-width="5.0" stroke-linecap="round" fill="none"/>
<path d="M253.0 293.9h0M254.1 286.1h0M241.0 315.3h0M240.2 288.9h0M234.3 289.6h0M266.2 295.5h0M237.2 275.2h0M319.4 309.7h0M257.5 287.6h0M241.7 301.7h0M238.8 314.6h0M266.5 298.6h0M233.7 278.4h0" stroke="#8c6a90" stroke-width="6.0" stroke-linecap="round" fill="none"/>
<path d="M324.5 321.4h0M251.6 315.5h0M221.4 312.3h0M308.7 316.2h0M289.1 318.1h0M220.2 277.7h0M241.0 291.4h0" stroke="#8c6a90" stroke-width="4.0" stroke-linecap="round" fill="none"/>
<path d="M320.4 228.6h0M321.8 202.4h0M303.4 192.1h0M316.9 231.4h0M269.4 92.4h0M299.3 195.6h0M279.4 131.4h0M283.5 75.0h0M303.9 153.1h0M301.4 221.5h0M264.9 108.1h0M296.8 116.7h0M305.3 231.6h0M296.8 108.1h0M251.8 146.3h0M263.8 124.9h0M288.4 167.8h0M316.8 207.9h0M287.4 101.3h0M318.3 103.6h0" stroke="#a07c9c" stroke-width="5.0" stroke-linecap="round" fill="none"/>
<path d="M287.1 82.2h0M303.0 219.7h0M257.3 77.9h0M264.3 64.2h0M259.7 211.9h0M313.9 66.5h0M275.9 161.5h0M327.8 134.3h0M262.8 184.4h0M257.7 194.7h0M291.4 139.7h0M306.4 134.4h0M311.9 85.8h0M288.5 189.7h0M282.0 192.0h0M307.4 181.6h0" stroke="#a07c9c" stroke-width="6.0" stroke-linecap="round" fill="none"/>
<path d="M258.3 165.8h0M261.5 199.4h0M290.9 188.7h0M309.9 228.2h0" stroke="#a07c9c" stroke-width="4.0" stroke-linecap="round" fill="none"/>
<path d="M111.0 71.2h0M183.8 78.8h0M180.1 77.5h0M120.2 86.2h0M170.9 77.7h0M170.5 117.7h0M144.3 66.8h0M122.3 103.1h0M148.0 70.9h0M97.0 79.9h0M151.7 93.3h0M88.2 103.0h0M145.2 104.4h0M172.3 81.2h0" stroke="#a88098" stroke-width="5.0" stroke-linecap="round" fill="none"/>
<path d="M183.0 114.0h0M167.5 65.2h0M149.6 100.5h0M126.9 92.7h0M113.0 99.9h0M186.5 114.5h0M158.5 108.4h0M134.9 78.7h0M85.1 90.3h0M122.3 110.8h0" stroke="#a88098" stroke-width="4.0" stroke-linecap="round" fill="none"/>
<path d="M105.2 95.1h0M193.0 82.5h0M155.7 70.7h0M158.6 67.4h0M111.9 83.0h0M128.4 92.5h0" stroke="#a88098" stroke-width="6.0" stroke-linecap="round" fill="none"/>
<circle cx="90" cy="73" r="4.5" fill="#f4eef0" opacity="0.9"/>
<circle cx="99" cy="103" r="5" fill="#f4eef0" opacity="0.9"/>
<circle cx="103" cy="115" r="4" fill="#f4eef0" opacity="0.9"/>
<circle cx="80" cy="135" r="4" fill="#f4eef0" opacity="0.9"/>
<circle cx="190" cy="28" r="5" fill="#f4eef0" opacity="0.9"/>
<circle cx="298" cy="92" r="6" fill="#f2eaee" opacity="0.9"/>
<circle cx="300" cy="108" r="5" fill="#f2eaee" opacity="0.9"/>
<circle cx="305" cy="138" r="5" fill="#f2eaee" opacity="0.9"/>
<circle cx="248" cy="222" r="7" fill="#f2eaee" opacity="0.9"/>
<circle cx="310" cy="252" r="5" fill="#f2eaee" opacity="0.9"/>
<circle cx="279" cy="40" r="5" fill="#f06030" opacity="0.9"/>
<circle cx="235" cy="76" r="3" fill="#d04050" opacity="0.9"/>
</g></g></g>
<clipPath id="hc3"><rect x="390.8" y="868.6" width="324.7" height="324.1"/></clipPath>
<filter id="hf3" filterUnits="userSpaceOnUse" x="390.8" y="868.6" width="324.7" height="324.1" color-interpolation-filters="sRGB"><feTurbulence type="fractalNoise" baseFrequency="0.06" numOctaves="2" seed="4" result="tn"/><feDisplacementMap in="SourceGraphic" in2="tn" scale="9" xChannelSelector="R" yChannelSelector="G" result="dsp"/><feGaussianBlur in="dsp" stdDeviation="0.7" result="b"/><feTurbulence type="fractalNoise" baseFrequency="0.25" numOctaves="2" seed="54" result="fn"/><feColorMatrix in="fn" type="matrix" values="0.22 0 0 0 0.890 0.22 0 0 0 0.890 0.22 0 0 0 0.890 0 0 0 0 1" result="fn2"/><feBlend in="b" in2="fn2" mode="multiply" result="o"/><feComponentTransfer in="o"><feFuncA type="linear" slope="0" intercept="1"/></feComponentTransfer></filter>
<g clip-path="url(#hc3)"><g filter="url(#hf3)"><g transform="translate(390.8,868.6)">
<rect x="-12" y="-12" width="348.7" height="348.1" fill="#f3d2ee"/>
<path d="M34.0,69.0C52.8,65.7 118.7,74.0 138.0,80.0C157.3,86.0 158.0,99.7 150.0,105.0C142.0,110.3 103.3,106.2 90.0,112.0C76.7,117.8 73.5,132.0 70.0,140.0C66.5,148.0 57.3,157.0 69.0,160.0C80.7,163.0 112.8,159.7 140.0,158.0C167.2,156.3 209.5,151.3 232.0,150.0C254.5,148.7 263.7,145.0 275.0,150.0C286.3,155.0 307.2,171.7 300.0,180.0C292.8,188.3 243.7,173.7 232.0,200.0C220.3,226.3 237.3,315.0 230.0,338.0C222.7,361.0 194.7,361.0 188.0,338.0C181.3,315.0 196.3,224.7 190.0,200.0C183.7,175.3 170.2,191.7 150.0,190.0C129.8,188.3 87.3,196.7 69.0,190.0C50.7,183.3 47.3,165.0 40.0,150.0C32.7,135.0 26.0,113.5 25.0,100.0C24.0,86.5 15.2,72.3 34.0,69.0Z" fill="#ecc6e4"/>
<path d="M295.0,-12.0C301.3,-37.3 330.8,-39.0 338.0,-12.0C345.2,15.0 344.3,124.7 338.0,150.0C331.7,175.3 307.2,167.0 300.0,140.0C292.8,113.0 288.7,13.3 295.0,-12.0Z" fill="#ecc6e4"/>
<path d="M-8.0,50.0C1.0,50.3 29.3,52.7 46.0,52.0C62.7,51.3 76.7,47.0 92.0,46.0C107.3,45.0 125.8,44.3 138.0,46.0C150.2,47.7 160.5,54.3 165.0,56.0" fill="none" stroke="#a98ad8" stroke-width="24" stroke-linecap="round" stroke-linejoin="round"/>
<path d="M168.0,62.0C163.3,66.7 151.3,83.0 140.0,90.0C128.7,97.0 110.0,98.2 100.0,104.0C90.0,109.8 81.3,118.0 80.0,125.0C78.7,132.0 82.0,141.5 92.0,146.0C102.0,150.5 124.5,151.3 140.0,152.0C155.5,152.7 169.7,151.7 185.0,150.0C200.3,148.3 219.2,147.0 232.0,142.0C244.8,137.0 254.7,130.3 262.0,120.0C269.3,109.7 274.7,93.0 276.0,80.0C277.3,67.0 274.7,52.0 270.0,42.0C265.3,32.0 257.7,25.3 248.0,20.0C238.3,14.7 218.0,11.7 212.0,10.0" fill="none" stroke="#a687d6" stroke-width="30" stroke-linecap="round" stroke-linejoin="round"/>
<path d="M24.0,100.0C24.3,108.3 26.3,133.3 26.0,150.0C25.7,166.7 23.0,181.7 22.0,200.0C21.0,218.3 20.7,236.7 20.0,260.0C19.3,283.3 18.3,326.7 18.0,340.0" fill="none" stroke="#a98ad8" stroke-width="26" stroke-linecap="round" stroke-linejoin="round"/>
<path d="M20.0,340.0C20.7,331.7 21.3,306.7 24.0,290.0C26.7,273.3 29.7,253.3 36.0,240.0C42.3,226.7 51.3,216.7 62.0,210.0C72.7,203.3 87.0,200.8 100.0,200.0C113.0,199.2 128.7,200.3 140.0,205.0C151.3,209.7 161.7,217.2 168.0,228.0C174.3,238.8 175.7,251.3 178.0,270.0C180.3,288.7 181.3,328.3 182.0,340.0" fill="none" stroke="#a687d6" stroke-width="28" stroke-linecap="round" stroke-linejoin="round"/>
<path d="M338.0,152.0C329.5,153.7 300.7,154.8 287.0,162.0C273.3,169.2 262.2,183.3 256.0,195.0C249.8,206.7 249.0,218.7 250.0,232.0C251.0,245.3 256.3,257.0 262.0,275.0C267.7,293.0 280.3,329.2 284.0,340.0" fill="none" stroke="#a98ad8" stroke-width="30" stroke-linecap="round" stroke-linejoin="round"/>
<path d="M305.0,340.0C305.8,335.0 305.8,318.3 310.0,310.0C314.2,301.7 324.2,294.2 330.0,290.0C335.8,285.8 342.5,285.8 345.0,285.0" fill="none" stroke="#a98ad8" stroke-width="18" stroke-linecap="round" stroke-linejoin="round"/>
<path d="M250.5,67.7C251.5,69.8 251.3,72.6 250.1,75.5C248.9,78.4 246.4,81.9 243.1,85.2C239.9,88.5 235.4,92.1 230.7,95.3C225.9,98.5 220.2,101.7 214.6,104.3C209.1,106.9 202.9,109.2 197.4,110.8C191.9,112.4 186.2,113.5 181.6,113.9C177.0,114.2 172.7,113.9 169.7,113.0C166.7,112.1 164.5,110.4 163.5,108.3C162.5,106.2 162.7,103.4 163.9,100.5C165.1,97.6 167.6,94.1 170.9,90.8C174.1,87.5 178.6,83.9 183.3,80.7C188.1,77.5 193.8,74.3 199.4,71.7C204.9,69.1 211.1,66.8 216.6,65.2C222.1,63.6 227.8,62.5 232.4,62.1C237.0,61.8 241.3,62.1 244.3,63.0C247.3,63.9 249.5,65.6 250.5,67.7Z" fill="#fbf0fa"/>
<path d="M127.0,244.0C127.0,245.4 126.1,246.9 124.4,248.2C122.8,249.5 120.1,250.8 117.0,251.8C114.0,252.8 110.0,253.6 106.0,254.2C102.0,254.7 97.3,255.0 93.0,255.0C88.7,255.0 84.0,254.7 80.0,254.2C76.0,253.6 72.0,252.8 69.0,251.8C65.9,250.8 63.2,249.5 61.6,248.2C59.9,246.9 59.0,245.4 59.0,244.0C59.0,242.6 59.9,241.1 61.6,239.8C63.2,238.5 65.9,237.2 69.0,236.2C72.0,235.2 76.0,234.4 80.0,233.8C84.0,233.3 88.7,233.0 93.0,233.0C97.3,233.0 102.0,233.3 106.0,233.8C110.0,234.4 114.0,235.2 117.0,236.2C120.1,237.2 122.8,238.5 124.4,239.8C126.1,241.1 127.0,242.6 127.0,244.0Z" fill="#fbf0fa"/>
<path d="M332.0,232.0C332.0,234.3 331.6,236.8 330.9,238.9C330.3,241.0 329.2,243.1 327.9,244.7C326.6,246.4 325.0,247.8 323.4,248.6C321.7,249.5 319.8,250.0 318.0,250.0C316.2,250.0 314.3,249.5 312.6,248.6C311.0,247.8 309.4,246.4 308.1,244.7C306.8,243.1 305.7,241.0 305.1,238.9C304.4,236.8 304.0,234.3 304.0,232.0C304.0,229.7 304.4,227.2 305.1,225.1C305.7,223.0 306.8,220.9 308.1,219.3C309.4,217.6 311.0,216.2 312.6,215.4C314.3,214.5 316.2,214.0 318.0,214.0C319.8,214.0 321.7,214.5 323.4,215.4C325.0,216.2 326.6,217.6 327.9,219.3C329.2,220.9 330.3,223.0 330.9,225.1C331.6,227.2 332.0,229.7 332.0,232.0Z" fill="#f8eef8"/>
<path d="M130.0,15.0C130.0,16.8 128.1,18.7 124.7,20.4C121.3,22.0 115.8,23.6 109.5,24.9C103.2,26.2 95.0,27.3 86.8,27.9C78.5,28.6 68.9,29.0 60.0,29.0C51.1,29.0 41.5,28.6 33.2,27.9C25.0,27.3 16.8,26.2 10.5,24.9C4.2,23.6 -1.3,22.0 -4.7,20.4C-8.1,18.7 -10.0,16.8 -10.0,15.0C-10.0,13.2 -8.1,11.3 -4.7,9.6C-1.3,8.0 4.2,6.4 10.5,5.1C16.8,3.8 25.0,2.7 33.2,2.1C41.5,1.4 51.1,1.0 60.0,1.0C68.9,1.0 78.5,1.4 86.8,2.1C95.0,2.7 103.2,3.8 109.5,5.1C115.8,6.4 121.3,8.0 124.7,9.6C128.1,11.3 130.0,13.2 130.0,15.0Z" fill="#f8e8f6"/>
<path d="M57.4 73.6h0M49.7 72.3h0M56.1 88.8h0M51.4 73.7h0M111.0 76.8h0M118.6 73.0h0M98.8 87.7h0M117.2 89.2h0M115.6 87.8h0M91.9 85.1h0M39.4 91.9h0M85.8 86.5h0M129.7 76.8h0M54.3 92.1h0M68.8 96.1h0M93.5 78.3h0M74.0 103.0h0M112.7 80.3h0M77.2 74.8h0M128.3 84.8h0M40.6 71.9h0M73.9 104.6h0M59.2 78.5h0M57.0 100.4h0M39.9 102.5h0M82.0 73.3h0" stroke="#5e3e9e" stroke-width="4.0" stroke-linecap="round" fill="none"/>
<path d="M122.2 98.0h0M123.1 99.0h0M94.6 95.6h0M80.0 73.1h0M121.3 90.0h0M40.9 78.0h0M101.2 101.4h0M62.5 103.8h0M39.3 75.9h0M81.6 78.7h0M46.6 88.5h0M75.0 78.7h0M129.1 84.1h0M97.1 97.7h0M118.0 101.5h0" stroke="#5e3e9e" stroke-width="5.0" stroke-linecap="round" fill="none"/>
<path d="M64.0 98.4h0M88.1 101.7h0M51.9 86.1h0M104.8 103.6h0M126.4 81.6h0M69.5 80.2h0M99.3 75.2h0M58.0 84.4h0M113.9 87.5h0" stroke="#5e3e9e" stroke-width="3.0" stroke-linecap="round" fill="none"/>
<path d="M137.3 176.3h0M245.3 154.6h0M136.1 185.7h0M72.1 183.5h0M92.9 174.8h0M172.5 167.4h0M225.3 152.7h0M109.2 162.1h0M252.6 168.7h0M131.1 184.7h0M231.8 157.1h0M74.0 188.0h0M230.2 182.3h0M184.8 187.5h0M236.3 162.1h0M151.2 174.0h0M135.3 175.1h0M83.5 189.0h0M255.6 185.7h0M259.6 156.5h0M206.1 171.9h0M94.4 152.5h0M127.8 185.6h0M216.3 176.2h0M170.5 156.2h0M245.3 150.8h0M100.5 156.3h0M235.1 189.9h0M91.4 174.8h0M131.0 175.9h0M137.8 183.4h0M84.3 181.3h0M209.3 154.7h0M248.0 179.9h0M76.8 166.5h0M208.1 181.6h0" stroke="#5e3e9e" stroke-width="5.0" stroke-linecap="round" fill="none"/>
<path d="M198.5 182.6h0M200.9 177.4h0M264.2 188.5h0M78.9 186.0h0M103.5 175.4h0M219.3 187.1h0M226.6 185.1h0M245.7 158.1h0M76.8 173.8h0M242.9 174.3h0M142.5 180.7h0M87.0 171.7h0M227.5 162.4h0M154.5 181.9h0M244.9 157.1h0M168.9 163.5h0M132.4 171.8h0M119.1 183.9h0M223.3 189.4h0M205.3 174.4h0M192.6 167.7h0M224.2 164.5h0M96.7 153.3h0M144.4 173.0h0M194.2 153.7h0M257.2 157.2h0M101.7 173.4h0M263.7 154.7h0M205.1 179.8h0M210.7 162.4h0M249.8 166.0h0M233.5 161.4h0M72.6 157.4h0M208.7 174.6h0M260.2 174.9h0M254.0 174.2h0M88.3 160.3h0M99.7 159.5h0M122.5 171.0h0M89.4 151.3h0M245.7 178.8h0M208.8 178.9h0M166.8 152.7h0M245.0 160.2h0M206.4 184.5h0M234.7 159.3h0M165.3 178.7h0M254.2 187.5h0M239.5 183.4h0M190.0 151.5h0M121.1 184.3h0M131.5 185.8h0M248.6 185.3h0M209.7 174.2h0M212.7 169.9h0M189.6 160.0h0M238.8 174.9h0M165.6 155.8h0M129.6 165.5h0M220.8 184.5h0M247.4 187.3h0" stroke="#5e3e9e" stroke-width="4.0" stroke-linecap="round" fill="none"/>
<path d="M254.6 188.3h0M263.7 176.7h0M70.7 186.9h0M164.3 171.1h0M167.3 188.7h0M250.8 178.4h0M213.1 169.4h0M135.3 162.0h0M147.4 166.9h0M267.5 164.1h0M235.3 170.4h0M73.7 179.3h0M157.5 157.0h0" stroke="#5e3e9e" stroke-width="3.0" stroke-linecap="round" fill="none"/>
<path d="M221.7 244.0h0M225.4 231.6h0M198.9 320.3h0M227.4 257.4h0M194.8 325.9h0M193.2 307.8h0M198.4 205.0h0M212.9 263.4h0M191.6 207.2h0M200.0 268.2h0M216.2 234.9h0M219.7 321.9h0M204.6 327.3h0M220.7 321.1h0M206.5 205.2h0M209.5 236.6h0M220.8 245.7h0M210.2 326.2h0M197.6 274.2h0M208.4 301.0h0M191.8 211.5h0M208.3 230.6h0M197.1 235.1h0M200.8 233.6h0M198.3 253.3h0M196.0 288.1h0M215.4 263.9h0M198.8 253.5h0M207.8 317.4h0M202.2 260.1h0M193.9 277.9h0M216.5 259.0h0M219.0 194.3h0M203.6 234.2h0M214.7 202.1h0M193.0 323.5h0M222.2 264.1h0M212.0 262.8h0M216.2 209.7h0M217.4 263.9h0M209.0 233.2h0M203.3 228.5h0M198.8 255.2h0M205.5 281.2h0M226.3 300.6h0M226.4 185.4h0M213.3 217.3h0M230.6 242.1h0M208.5 291.2h0" stroke="#5e3e9e" stroke-width="4.0" stroke-linecap="round" fill="none"/>
<path d="M200.8 259.1h0M195.6 295.0h0M231.4 209.1h0M197.6 214.9h0M218.1 307.3h0M215.2 290.1h0M202.1 245.5h0M193.0 247.8h0M231.9 186.5h0M225.0 210.6h0M231.8 189.8h0M193.7 299.7h0" stroke="#5e3e9e" stroke-width="3.0" stroke-linecap="round" fill="none"/>
<path d="M201.1 226.6h0M204.3 251.1h0M197.0 220.4h0M213.8 280.8h0M220.2 188.9h0M203.6 232.6h0M215.5 237.8h0M197.2 216.2h0M230.0 284.2h0M192.4 316.0h0M221.2 306.6h0M191.1 212.7h0M191.7 229.4h0M195.7 189.3h0M202.4 266.0h0M212.9 324.0h0M212.9 238.0h0M227.1 271.4h0M192.2 303.9h0M193.4 321.5h0M192.4 253.9h0M219.0 324.1h0M212.2 308.8h0M225.5 323.5h0M198.5 318.1h0M195.7 200.1h0M202.8 237.1h0M213.9 213.1h0M218.7 290.2h0" stroke="#5e3e9e" stroke-width="5.0" stroke-linecap="round" fill="none"/>
<path d="M301.7 0.7h0M328.1 60.6h0M303.8 63.9h0M327.4 14.4h0M326.4 137.2h0M321.3 60.9h0M312.7 58.5h0M310.8 37.1h0M316.9 92.5h0M323.2 110.8h0M315.2 105.8h0M301.3 114.6h0M304.6 114.4h0M301.9 61.7h0M319.1 31.5h0M300.2 27.1h0" stroke="#5e3e9e" stroke-width="5.0" stroke-linecap="round" fill="none"/>
<path d="M313.0 103.2h0M329.2 48.0h0M320.5 0.1h0M322.8 80.2h0M311.8 12.1h0M306.3 3.8h0M322.7 123.7h0M320.1 124.5h0M326.4 80.6h0M327.7 39.9h0M301.1 122.9h0M320.2 33.3h0M314.4 122.8h0M321.0 106.9h0M322.3 39.3h0M327.9 103.8h0M327.0 103.9h0M307.6 87.0h0M328.7 121.8h0M301.9 86.0h0M306.6 2.0h0M310.5 80.4h0M321.2 128.2h0M319.0 16.6h0M302.9 120.7h0M321.3 122.8h0" stroke="#5e3e9e" stroke-width="4.0" stroke-linecap="round" fill="none"/>
<path d="M303.7 121.2h0M319.4 24.6h0M317.2 38.3h0" stroke="#5e3e9e" stroke-width="3.0" stroke-linecap="round" fill="none"/>
<path d="M40.2 117.4h0M44.7 104.9h0M51.0 161.0h0M53.1 157.7h0M45.7 157.3h0M46.4 160.5h0M56.4 125.7h0M35.2 127.9h0M57.0 120.0h0M55.3 111.0h0M58.4 167.3h0M44.8 138.1h0M50.3 113.2h0M48.2 119.5h0M54.2 113.1h0M49.6 118.9h0M35.2 127.9h0M39.1 134.4h0" stroke="#5e3e9e" stroke-width="4.0" stroke-linecap="round" fill="none"/>
<path d="M37.7 110.1h0M41.2 144.8h0M48.5 105.0h0M37.0 132.3h0M43.6 149.6h0M59.4 167.5h0M54.1 123.4h0" stroke="#5e3e9e" stroke-width="3.0" stroke-linecap="round" fill="none"/>
<circle cx="218" cy="264" r="10" fill="#f04a40" opacity="0.9"/>
<circle cx="207" cy="238" r="5" fill="#e84a60" opacity="0.9"/>
<circle cx="240" cy="172" r="4" fill="#f05060" opacity="0.9"/>
</g></g></g>
<clipPath id="hc4"><rect x="45.9" y="1638" width="323.1" height="321.7"/></clipPath>
<filter id="hf4" filterUnits="userSpaceOnUse" x="45.9" y="1638" width="323.1" height="321.7" color-interpolation-filters="sRGB"><feTurbulence type="fractalNoise" baseFrequency="0.06" numOctaves="2" seed="5" result="tn"/><feDisplacementMap in="SourceGraphic" in2="tn" scale="9" xChannelSelector="R" yChannelSelector="G" result="dsp"/><feGaussianBlur in="dsp" stdDeviation="0.7" result="b"/><feTurbulence type="fractalNoise" baseFrequency="0.25" numOctaves="2" seed="55" result="fn"/><feColorMatrix in="fn" type="matrix" values="0.22 0 0 0 0.890 0.22 0 0 0 0.890 0.22 0 0 0 0.890 0 0 0 0 1" result="fn2"/><feBlend in="b" in2="fn2" mode="multiply" result="o"/><feComponentTransfer in="o"><feFuncA type="linear" slope="0" intercept="1"/></feComponentTransfer></filter>
<pattern id="hp4" width="8" height="7.2" patternUnits="userSpaceOnUse" patternTransform="rotate(39)"><rect width="8" height="8" fill="#dc84dc"/><ellipse cx="4.0" cy="3.6" rx="2.8" ry="2.4" fill="#fbe8fb"/></pattern>
<g clip-path="url(#hc4)"><g filter="url(#hf4)"><g transform="translate(45.9,1638)">
<rect x="-12" y="-12" width="347.1" height="345.7" fill="#f7f0f8"/>
<path d="M82.5 115.3h0M246.2 23.1h0M143.7 42.5h0M1.7 248.9h0M64.3 281.8h0M107.2 263.0h0M114.8 98.5h0M82.8 302.1h0M135.3 121.1h0M146.3 227.7h0M95.6 139.3h0M47.9 88.7h0M258.1 201.6h0M99.9 155.6h0M26.2 193.2h0M316.3 205.3h0M108.0 66.6h0M182.2 42.7h0M168.7 308.9h0M291.4 36.2h0M171.8 57.7h0M180.7 215.0h0M85.6 315.6h0M275.2 152.6h0M88.5 111.2h0M108.0 45.6h0M64.2 116.5h0M91.4 25.4h0M134.6 198.4h0M321.8 62.9h0M201.6 58.1h0M58.3 231.1h0M316.6 53.3h0M307.6 275.3h0M222.6 176.0h0M276.2 51.2h0M279.0 283.3h0M228.8 197.4h0M8.6 112.5h0M260.9 191.4h0M308.0 208.7h0M271.8 153.0h0M251.7 187.3h0M224.6 285.9h0M27.5 20.2h0M39.5 197.7h0M35.9 287.9h0M68.9 178.7h0M240.9 90.0h0M38.2 128.2h0M3.2 29.4h0M158.1 113.7h0M20.4 75.8h0M91.6 313.7h0M185.2 11.6h0M226.7 120.9h0M93.6 299.4h0M257.2 121.6h0M115.8 95.2h0M63.2 157.6h0M97.1 300.7h0M211.1 22.9h0M35.6 263.3h0M217.1 10.7h0M274.2 50.2h0M321.0 10.8h0M185.7 211.2h0M294.6 227.3h0M321.0 150.6h0M149.2 145.7h0M54.8 10.7h0M270.5 181.8h0M231.5 76.2h0M29.7 151.6h0M208.2 160.0h0M206.9 281.5h0M62.8 223.8h0M60.8 75.2h0M255.5 27.9h0M52.3 24.2h0M42.9 4.0h0M222.5 286.8h0M225.3 257.0h0M80.4 226.3h0M248.6 122.2h0M0.0 92.0h0M115.7 52.5h0M166.7 246.0h0M118.5 260.2h0M297.5 256.2h0M29.4 64.0h0M33.5 194.7h0M262.8 7.1h0M254.5 186.4h0M8.8 248.9h0M313.0 4.7h0M258.9 299.9h0M39.1 110.0h0M136.9 311.7h0M104.8 271.2h0M32.3 94.5h0M257.6 25.1h0M211.9 183.3h0M74.6 155.5h0M151.2 123.6h0M288.7 197.9h0M271.4 0.5h0M288.7 176.6h0M55.9 286.6h0M247.3 79.1h0M150.6 1.8h0M123.1 110.2h0M158.5 301.6h0M5.1 260.4h0M45.8 291.4h0M139.7 70.9h0M58.1 271.5h0M313.9 62.4h0M3.9 167.0h0M7.3 51.5h0M161.6 276.7h0M213.6 198.9h0M69.7 135.6h0M290.2 4.8h0M204.6 247.5h0M132.3 48.1h0M94.9 288.3h0M129.1 97.7h0M176.9 142.6h0M68.3 74.8h0M76.3 98.7h0M77.1 222.7h0M33.1 39.7h0M183.8 88.7h0M273.6 190.1h0M239.8 37.6h0M120.9 109.6h0M53.7 253.9h0M191.3 281.6h0M147.3 223.2h0M224.9 227.0h0M191.2 13.7h0M271.1 307.7h0M146.5 96.2h0M123.1 211.0h0M48.5 319.7h0M81.2 100.9h0M63.4 136.9h0M166.8 156.6h0M27.9 261.7h0M35.7 30.9h0M94.6 108.5h0M12.7 30.4h0M23.2 135.7h0M174.8 209.6h0M198.7 30.6h0M99.0 146.0h0M12.7 283.7h0M62.0 283.6h0M23.0 98.5h0M192.6 147.1h0M80.7 206.7h0M83.0 149.3h0M286.0 201.9h0M157.5 51.3h0M134.9 90.8h0M191.1 148.3h0M169.4 105.5h0M255.0 4.6h0M0.7 312.5h0M134.9 277.8h0M180.2 177.3h0M253.5 233.7h0M55.6 286.0h0M248.5 224.9h0M150.3 199.0h0M60.7 42.4h0M169.6 64.8h0M75.2 135.9h0M266.8 236.5h0M65.5 187.2h0M280.1 14.9h0M313.4 51.8h0M228.9 139.3h0M227.9 305.0h0M226.5 150.1h0M290.3 233.7h0M157.6 118.3h0M233.6 118.9h0M85.5 183.9h0M127.0 179.8h0M203.4 250.7h0M287.7 246.0h0M137.1 198.2h0M313.4 166.2h0M202.2 136.4h0M11.4 310.7h0M300.7 191.4h0M100.0 148.0h0M63.4 234.4h0M118.1 320.7h0M297.4 109.4h0M85.5 46.5h0M317.9 3.1h0M131.1 222.4h0M66.2 296.4h0M5.5 224.8h0M290.5 204.1h0M289.3 188.0h0M77.9 309.8h0M17.8 240.2h0M304.8 70.2h0M31.3 155.8h0M1.2 47.4h0M198.5 2.1h0M76.6 123.2h0M245.5 54.5h0M198.7 269.6h0M82.1 192.0h0M258.7 209.1h0M206.7 182.6h0M53.4 51.4h0M122.4 269.6h0M177.1 203.0h0M197.3 271.0h0M231.5 89.2h0M36.4 78.2h0M316.4 130.6h0M319.4 128.0h0M123.8 265.7h0M298.5 182.1h0M213.3 91.1h0M134.7 154.3h0M218.2 4.4h0M15.1 245.0h0M319.7 167.2h0M165.5 272.7h0M104.4 247.7h0M177.2 81.5h0M21.5 159.6h0M141.0 101.2h0M295.4 246.1h0M97.1 46.8h0M155.1 237.6h0M320.5 35.3h0M168.3 64.9h0M86.0 197.8h0M72.0 304.1h0M209.1 184.5h0M99.1 167.0h0M120.0 252.7h0M123.1 132.2h0M58.3 229.3h0M110.5 14.3h0M74.5 287.7h0M47.8 105.7h0M244.0 165.2h0M185.5 225.0h0M304.6 221.0h0M36.9 169.1h0M243.6 222.3h0M127.7 51.8h0M33.6 131.1h0M283.6 11.8h0M273.6 318.6h0M203.3 62.8h0M229.3 159.7h0M21.6 90.5h0M67.7 194.6h0M156.6 118.3h0M264.6 153.1h0M311.1 38.6h0M304.7 237.9h0M7.1 215.9h0M23.6 286.9h0M193.5 61.4h0M27.1 213.0h0M261.0 124.4h0M103.7 40.8h0M272.2 217.6h0M260.6 13.5h0M4.8 6.2h0M210.2 174.0h0M120.2 245.4h0M321.7 257.4h0M18.0 141.4h0M316.6 212.0h0M52.2 270.3h0M206.8 64.8h0M73.5 35.7h0M230.1 236.0h0M104.5 163.6h0M40.0 109.9h0M228.1 124.9h0M25.7 232.0h0M137.8 81.8h0M120.0 23.0h0M187.1 266.3h0M38.1 91.6h0M143.0 78.8h0M295.9 41.5h0M215.4 263.1h0M204.2 199.1h0M196.2 36.6h0M95.4 9.0h0M50.9 32.1h0M112.5 199.1h0M203.0 58.6h0M206.3 230.5h0M133.7 169.5h0M56.2 253.5h0M0.4 94.8h0M274.7 311.0h0M316.1 198.0h0M272.2 289.8h0M26.4 83.7h0M72.9 299.8h0M220.0 152.6h0M79.4 2.6h0M253.6 9.2h0M88.3 295.9h0M113.4 103.7h0M24.2 304.7h0M215.7 185.9h0M79.8 182.6h0M319.3 169.5h0M218.3 260.9h0M164.1 138.0h0M12.6 28.9h0M189.7 48.8h0M151.6 306.8h0M167.1 125.8h0M54.9 303.6h0M26.3 7.8h0M26.4 13.5h0M191.4 128.1h0M261.8 89.4h0M53.7 122.5h0M275.0 301.7h0M93.6 40.5h0M111.7 184.0h0M227.7 77.8h0M192.7 185.6h0M299.2 307.1h0M45.8 233.5h0M191.9 97.1h0M61.0 287.3h0M134.8 78.6h0M293.4 170.7h0M148.4 80.1h0M246.5 45.8h0M225.1 68.5h0M58.4 145.1h0M3.2 90.0h0M47.2 307.6h0M60.6 162.1h0M96.4 0.8h0M110.7 200.1h0M9.4 119.7h0M138.4 63.0h0M194.5 245.3h0M206.5 97.0h0M189.8 152.5h0M192.4 296.3h0M287.3 274.5h0M90.1 204.8h0M129.6 31.5h0M100.9 35.9h0M222.1 117.2h0M218.9 172.4h0M274.0 183.8h0M241.4 269.6h0M304.3 254.4h0M163.5 112.5h0M321.7 175.4h0M312.7 147.6h0M69.4 304.7h0M21.9 214.2h0M26.2 160.6h0M35.7 175.2h0M37.2 185.5h0M201.2 26.4h0M287.3 315.7h0M34.5 182.1h0M279.6 302.7h0M251.4 148.9h0M83.0 251.2h0M22.2 225.1h0M12.8 278.7h0M28.0 108.4h0M73.3 32.2h0M303.6 56.2h0M314.1 43.6h0M237.8 143.4h0M190.2 192.0h0M12.7 54.5h0M298.4 242.7h0M310.1 83.8h0M12.8 286.8h0M5.5 307.2h0M23.1 132.4h0M178.2 33.7h0M132.1 271.9h0M162.4 225.6h0M275.2 89.7h0M151.5 228.8h0M74.6 118.9h0M242.7 93.1h0M305.3 77.8h0M115.6 106.7h0M109.0 199.5h0M160.3 55.1h0M303.6 210.6h0M55.8 94.3h0M279.7 179.5h0M125.1 108.7h0M223.1 190.9h0M253.1 277.1h0M150.6 204.1h0M203.8 32.5h0M192.4 111.4h0M88.0 213.3h0M209.6 3.5h0M243.2 319.6h0M251.0 300.4h0M226.6 127.2h0M26.9 179.3h0M29.1 215.9h0M233.0 171.8h0M201.4 214.3h0M156.3 96.4h0M22.1 318.4h0M207.5 34.3h0M222.7 60.0h0M164.3 211.6h0M275.2 225.3h0M111.4 4.8h0" stroke="#4a2470" stroke-width="5.0" stroke-linecap="round" fill="none"/>
<path d="M271.9 209.8h0M271.5 249.6h0M16.8 50.5h0M280.6 122.5h0M80.6 235.2h0M58.8 279.1h0M53.6 53.6h0M58.7 311.6h0M134.1 301.0h0M192.6 227.7h0M59.7 152.0h0M115.6 130.1h0M308.4 38.3h0M264.8 148.7h0M288.4 80.7h0M190.6 251.2h0M67.4 165.0h0M29.7 220.7h0M10.3 238.2h0M80.8 209.4h0M133.7 54.3h0M19.0 135.3h0M297.9 199.6h0M102.6 88.2h0M280.4 57.9h0M166.5 176.3h0M20.4 255.8h0M189.8 11.0h0M309.2 109.4h0M105.3 88.0h0M161.7 216.7h0M132.0 296.7h0M280.1 144.7h0M166.9 301.2h0M178.7 279.0h0M35.8 311.4h0M177.2 133.7h0M214.1 23.2h0M232.0 120.3h0M177.7 97.0h0M165.6 306.0h0M113.6 41.6h0M182.2 173.2h0M50.7 123.1h0M64.3 42.8h0M265.3 212.9h0M105.3 294.8h0M105.1 282.0h0M138.7 314.2h0M155.0 227.9h0M239.4 96.8h0M6.4 304.1h0M213.3 309.1h0M12.9 43.9h0M155.2 180.3h0M153.2 11.8h0M272.7 232.1h0M159.1 319.3h0M5.2 40.5h0M178.7 220.6h0M222.1 61.5h0M232.5 289.2h0M152.6 100.0h0M173.8 136.9h0M15.7 235.7h0M107.6 138.1h0M130.9 156.6h0M228.0 140.9h0M59.9 258.0h0M295.6 44.5h0M183.7 218.1h0M304.4 176.9h0M279.0 145.8h0M42.4 6.0h0M163.6 145.9h0M149.5 309.9h0M171.5 174.4h0M274.1 303.9h0M256.7 241.1h0M294.5 158.1h0M310.6 116.5h0M320.9 69.1h0M20.4 11.9h0M213.6 112.1h0M104.4 148.6h0M280.7 151.1h0M111.2 241.9h0M19.0 7.0h0M104.8 146.0h0M59.6 116.3h0M56.8 67.2h0M196.7 233.7h0M15.5 268.1h0M201.9 141.9h0M136.7 247.1h0M179.1 44.6h0M252.0 84.8h0M42.9 172.7h0M215.3 88.7h0M285.2 284.9h0M42.5 9.1h0M15.2 137.6h0M260.2 180.8h0M99.0 44.2h0M104.4 10.9h0M238.8 9.0h0M313.3 265.9h0M170.4 40.3h0M52.7 316.2h0M195.8 202.9h0M247.1 139.8h0M107.7 143.4h0M192.6 55.2h0M215.8 51.7h0M158.8 0.5h0M274.8 220.5h0M0.4 292.4h0M227.8 114.0h0M65.0 264.3h0M214.3 292.2h0M159.7 112.3h0M77.0 122.8h0M128.3 242.4h0M154.2 151.2h0M197.2 165.2h0M176.3 222.2h0M180.1 19.7h0M248.8 66.5h0M278.8 302.7h0M75.7 12.2h0M310.8 96.7h0M181.6 155.4h0M122.1 241.5h0M66.9 217.9h0M222.4 316.5h0M24.8 132.9h0M206.8 175.6h0M78.9 134.6h0M287.4 106.4h0M48.2 95.1h0M182.0 139.6h0M33.1 253.1h0M24.6 306.4h0M167.8 23.4h0M36.1 108.0h0M245.7 185.0h0M104.3 247.6h0M280.9 280.0h0M263.1 62.9h0M242.6 62.9h0M247.5 28.5h0M131.9 303.4h0M87.6 231.6h0M312.6 178.0h0M79.2 145.6h0M27.0 263.1h0M261.9 6.9h0M309.1 279.3h0M193.3 270.0h0M262.5 265.0h0M53.8 108.9h0M61.6 268.4h0M119.4 126.6h0M24.9 221.1h0M241.5 158.9h0M148.0 150.6h0M262.5 27.5h0M211.3 107.5h0M180.2 91.2h0M4.1 123.9h0M250.9 179.4h0M192.0 125.6h0M208.3 17.8h0M200.1 31.7h0M264.1 120.0h0M182.5 182.3h0M156.4 46.3h0M81.2 8.0h0M270.2 191.1h0M291.3 114.2h0M132.9 132.7h0M143.0 185.6h0M98.2 168.7h0M88.3 130.3h0M104.3 211.5h0M101.7 196.8h0M141.4 166.7h0M63.5 294.4h0M162.3 300.9h0M5.5 139.6h0M162.4 305.9h0M77.5 54.1h0M91.9 243.1h0M250.9 174.7h0M108.1 246.4h0M277.2 283.9h0M132.0 21.3h0M309.6 130.8h0M104.5 116.5h0M122.9 54.7h0M214.5 122.4h0M43.2 211.1h0M207.2 98.6h0M257.8 204.5h0M53.6 202.2h0M130.5 228.4h0M248.5 143.2h0M259.1 155.0h0M175.3 178.7h0M7.7 185.8h0M272.2 281.5h0M195.1 194.8h0M93.3 168.5h0M119.7 248.7h0M62.9 306.1h0M210.6 173.4h0M150.5 120.1h0M54.6 55.0h0M215.2 128.5h0M297.3 66.0h0M21.6 299.5h0M188.1 71.7h0M171.4 0.9h0M149.8 61.0h0M151.7 93.0h0M293.5 273.9h0M210.5 142.8h0M312.9 224.0h0M172.6 285.5h0M127.8 10.8h0M60.6 280.4h0M249.4 36.8h0M47.6 309.1h0M270.9 85.8h0M266.2 289.4h0M202.7 58.6h0M106.4 311.8h0M5.3 154.5h0M166.1 249.8h0M26.9 210.7h0M26.2 104.6h0M113.2 247.5h0M220.2 27.4h0M284.2 69.6h0M268.6 189.8h0M121.7 133.1h0M281.4 114.6h0M105.0 267.1h0M169.9 165.1h0M164.9 284.0h0M40.1 20.4h0M12.3 252.9h0M46.2 98.2h0M190.5 225.1h0M298.0 94.9h0M139.6 74.6h0M95.8 223.5h0M322.1 181.4h0M150.6 148.8h0M28.6 140.8h0M37.3 129.3h0M175.2 114.9h0M101.9 62.7h0M294.4 166.0h0M122.2 62.4h0M215.8 8.5h0M179.2 31.9h0M63.4 10.6h0M106.7 101.2h0M35.1 223.1h0M113.4 108.5h0M251.1 98.5h0M247.9 151.2h0M298.7 102.9h0M0.6 304.4h0M114.1 86.2h0M271.6 187.9h0M221.5 190.4h0M294.0 181.5h0M70.3 270.7h0M71.7 141.3h0M195.7 108.5h0M58.4 175.7h0M87.4 205.8h0M304.8 259.3h0M261.1 21.6h0M318.7 302.0h0M65.0 248.3h0M162.5 56.4h0M261.1 217.7h0M56.9 261.0h0M158.5 203.1h0M76.4 228.6h0M47.4 39.5h0M219.5 45.1h0M142.5 59.1h0M6.6 253.7h0M109.8 72.1h0M2.9 318.2h0M74.4 215.3h0M75.4 133.3h0M76.7 92.3h0M33.7 179.8h0M171.7 202.7h0M215.6 278.2h0M71.5 104.9h0M139.3 209.4h0M37.0 268.5h0M126.4 28.2h0M101.4 180.3h0M232.6 202.0h0M311.3 278.6h0M31.9 167.5h0M207.3 163.3h0M62.0 216.3h0M7.7 198.7h0M310.2 150.7h0M290.0 291.5h0M73.3 157.0h0M177.1 317.7h0M217.0 150.6h0M56.0 74.8h0M281.3 48.4h0M221.7 249.3h0M143.7 52.4h0M37.1 150.7h0M149.3 215.0h0M196.2 315.5h0M166.5 212.0h0M136.0 269.0h0M293.9 137.5h0M286.9 216.1h0M322.5 119.0h0M182.1 121.6h0M73.4 50.5h0M271.0 100.0h0M244.8 105.5h0M160.6 310.7h0M247.0 53.4h0M127.1 316.6h0M258.3 192.4h0M273.9 278.2h0M102.9 224.7h0M156.3 320.5h0M146.8 231.0h0M11.2 91.6h0M196.6 249.6h0M253.6 256.6h0M34.5 115.7h0M103.9 211.3h0M192.1 75.4h0M35.4 144.1h0M293.6 141.6h0M241.7 32.1h0M188.0 287.2h0M160.5 35.2h0M272.7 5.8h0M278.9 202.9h0M10.7 242.2h0M319.4 189.8h0M155.1 135.4h0M144.4 44.6h0M289.7 132.4h0M88.2 24.0h0M23.4 216.2h0M141.2 268.9h0M100.3 11.3h0M3.9 142.0h0M160.2 158.6h0M25.2 280.0h0M20.3 7.0h0M317.9 264.9h0M290.0 272.9h0M76.5 113.0h0M36.0 62.9h0M71.5 311.7h0M190.2 75.9h0M301.6 283.9h0M283.6 299.7h0M301.8 50.2h0M282.2 55.9h0M223.1 84.5h0M158.3 259.3h0M313.5 304.8h0M293.4 311.7h0M40.5 237.5h0M252.1 75.2h0M305.4 14.6h0M189.0 265.4h0M292.9 116.6h0M119.2 320.9h0M311.8 249.3h0M314.1 25.1h0M179.9 194.6h0M118.9 268.7h0M85.9 52.4h0M267.3 123.7h0M224.1 25.6h0M164.9 5.5h0M20.9 106.8h0M48.2 284.2h0M226.9 57.4h0M3.8 204.3h0M147.0 107.3h0M174.6 255.1h0M273.9 297.7h0M220.7 114.7h0M189.2 232.8h0M20.3 254.1h0M22.3 273.6h0M189.7 144.4h0M72.5 27.2h0M194.4 264.2h0M108.1 140.1h0M297.0 64.6h0M139.4 270.2h0M85.8 234.7h0M116.4 314.9h0M61.5 16.4h0M283.9 4.0h0M45.1 313.8h0M250.6 108.5h0M140.7 172.7h0M112.3 6.2h0M183.7 28.5h0M249.4 245.3h0M20.1 274.5h0M162.7 223.4h0M265.3 98.1h0M289.9 173.0h0M60.2 283.9h0M18.6 86.5h0M98.6 206.8h0M2.8 28.9h0M50.7 241.5h0M107.0 59.8h0M113.2 39.2h0M203.3 224.8h0M43.5 308.2h0M140.4 250.7h0M99.4 139.9h0M171.8 248.4h0M113.5 105.7h0M297.9 69.3h0M244.7 6.7h0M223.1 115.0h0M235.2 296.7h0M197.3 114.5h0M261.8 278.5h0M165.4 82.4h0M200.1 132.4h0M84.0 90.8h0M304.5 259.6h0M255.2 222.0h0M163.9 178.8h0M212.8 118.9h0M140.1 203.2h0M235.2 150.4h0M228.4 126.5h0M63.1 301.3h0M205.5 230.3h0M280.1 31.3h0M53.2 295.4h0M213.8 205.7h0M35.9 63.0h0M248.5 130.2h0M186.2 219.9h0M81.9 57.3h0M199.2 19.2h0M138.8 166.6h0M240.3 217.7h0M235.4 248.4h0M83.9 229.8h0M317.6 177.9h0M9.1 44.3h0M302.1 58.3h0M175.4 289.9h0M12.5 281.0h0M116.1 253.0h0M25.5 62.7h0M305.4 11.5h0M35.9 9.9h0M17.1 246.0h0M284.9 233.8h0M277.4 206.5h0M66.9 223.1h0M124.5 150.2h0M278.6 235.0h0M177.0 167.8h0M58.6 192.5h0M126.5 12.3h0M179.1 16.9h0M240.5 222.3h0M149.6 307.4h0M173.5 135.7h0M257.3 84.5h0M2.0 221.9h0M153.9 46.1h0M227.4 104.6h0M259.9 37.4h0M322.7 94.5h0M295.9 149.7h0M45.3 158.6h0M284.0 249.6h0M271.1 15.6h0M222.6 74.5h0M42.1 219.5h0M14.0 163.8h0M322.4 57.0h0M305.3 215.6h0M177.2 73.9h0M197.3 189.3h0M24.7 25.5h0M236.1 8.8h0M285.2 183.7h0M70.4 238.0h0M179.2 108.6h0M29.0 214.9h0M182.5 106.1h0M154.7 284.8h0M132.4 232.6h0M3.3 9.7h0M131.2 301.9h0M288.6 237.1h0M180.5 223.5h0M107.8 251.4h0M279.6 272.7h0M288.6 147.0h0M238.8 2.8h0M190.4 32.8h0M3.6 225.1h0M153.1 308.5h0M160.9 146.4h0M275.0 31.9h0M291.5 282.9h0" stroke="#4a2470" stroke-width="4.0" stroke-linecap="round" fill="none"/>
<path d="M311.8 123.3h0M300.3 46.1h0M262.6 42.6h0M245.0 97.7h0M222.2 251.4h0M83.4 306.1h0M134.6 308.3h0M310.9 42.7h0M45.0 116.9h0M117.9 199.1h0M311.8 45.2h0M214.9 18.0h0M147.4 20.3h0M217.8 209.0h0M303.6 34.8h0M112.3 272.5h0M320.4 4.6h0M151.3 209.3h0M141.2 310.0h0M208.0 290.2h0M76.5 148.5h0M191.1 201.1h0M298.1 142.0h0M67.4 267.9h0M262.6 177.7h0M272.6 212.3h0M230.1 92.9h0M248.4 154.8h0" stroke="#4a2470" stroke-width="3.0" stroke-linecap="round" fill="none"/>
<path d="M216.3 219.4h0M70.8 112.9h0M28.8 4.7h0M155.2 156.5h0M251.6 315.2h0M143.3 85.0h0M318.5 282.6h0M291.6 161.0h0M294.7 282.5h0M238.5 179.6h0M162.0 138.0h0M21.8 114.7h0M101.9 27.6h0M34.4 29.4h0M64.3 290.1h0M215.1 306.6h0M259.7 228.0h0M297.9 162.4h0M279.0 253.4h0M62.1 17.6h0M127.8 19.0h0M180.7 241.8h0M220.1 56.5h0M135.0 282.7h0M90.7 251.7h0M223.7 117.2h0M65.7 79.3h0M151.4 212.8h0M128.4 271.3h0M239.8 182.7h0M133.6 89.1h0M272.1 175.6h0M238.8 122.2h0M9.2 193.2h0M37.0 265.2h0M170.8 191.0h0M200.7 262.2h0M206.8 123.7h0M270.5 321.4h0M266.3 175.3h0M72.2 195.6h0M228.8 31.2h0M219.6 6.4h0M101.0 250.3h0M174.4 22.5h0M259.2 1.3h0M36.5 29.7h0M115.5 175.8h0M283.7 296.3h0M305.7 8.4h0" stroke="#c04070" stroke-width="4.0" stroke-linecap="round" fill="none"/>
<path d="M3.6 189.9h0M120.2 166.8h0M321.8 7.0h0M170.3 264.6h0M263.3 107.8h0M293.2 273.5h0M113.6 41.5h0M210.6 85.4h0M257.3 107.6h0M261.1 229.1h0M76.0 113.1h0M99.2 266.1h0M112.3 172.5h0M36.8 26.3h0M144.2 78.4h0M11.1 156.6h0M18.9 307.0h0M191.6 79.9h0M194.4 241.3h0M287.2 183.4h0M96.1 230.3h0M86.8 138.5h0M233.2 45.3h0M208.1 10.4h0M97.1 222.2h0M241.3 193.8h0M69.6 310.3h0M123.7 106.0h0M259.8 195.4h0M0.6 140.8h0M48.3 103.7h0M81.9 241.0h0M91.7 107.0h0M65.8 198.4h0M7.6 115.3h0M71.2 166.2h0M242.3 282.5h0M75.3 316.8h0M227.0 31.4h0M163.7 189.4h0M239.1 55.1h0M117.1 42.4h0M202.3 187.5h0M262.2 84.2h0M9.9 240.2h0M39.3 66.3h0M0.9 292.2h0M139.9 253.3h0M112.3 134.0h0M320.8 231.9h0" stroke="#c04070" stroke-width="3.0" stroke-linecap="round" fill="none"/>
<path d="M117.0,30.0C117.0,40.5 115.9,51.7 113.8,61.4C111.8,71.0 108.5,80.6 104.7,88.0C100.9,95.4 96.0,101.8 91.1,105.8C86.1,109.8 80.4,112.0 75.0,112.0C69.6,112.0 63.9,109.8 58.9,105.8C54.0,101.8 49.1,95.4 45.3,88.0C41.5,80.6 38.2,71.0 36.2,61.4C34.1,51.7 33.0,40.5 33.0,30.0C33.0,19.5 34.1,8.3 36.2,-1.4C38.2,-11.0 41.5,-20.6 45.3,-28.0C49.1,-35.4 54.0,-41.8 58.9,-45.8C63.9,-49.8 69.6,-52.0 75.0,-52.0C80.4,-52.0 86.1,-49.8 91.1,-45.8C96.0,-41.8 100.9,-35.4 104.7,-28.0C108.5,-20.6 111.8,-11.0 113.8,-1.4C115.9,8.3 117.0,19.5 117.0,30.0Z" fill="#9a18a8"/>
<path d="M110.5 30.0h0M112.4 38.1h0M111.5 46.3h0M108.7 48.9h0M111.5 54.9h0M111.5 59.4h0M108.3 61.9h0M107.0 71.7h0M105.4 75.4h0M103.4 78.6h0M102.0 82.6h0M93.5 97.7h0M90.3 102.0h0M84.9 101.3h0M80.1 104.9h0M75.1 106.1h0M70.0 105.5h0M64.8 104.7h0M59.6 102.6h0M53.8 92.3h0M51.5 86.1h0M47.3 84.1h0M45.8 80.2h0M44.1 76.5h0M41.5 57.2h0M41.0 53.4h0M40.3 45.6h0M39.6 41.8h0M38.9 37.9h0M39.3 33.9h0M37.3 30.0h0M37.3 25.9h0M39.2 22.2h0M37.8 17.7h0M38.0 13.5h0M40.9 6.5h0M43.8 -5.2h0M44.0 -10.5h0M44.8 -15.4h0M45.5 -20.7h0M48.1 -22.7h0M54.3 -30.8h0M57.1 -35.9h0M60.2 -40.3h0M65.3 -41.3h0M70.1 -43.5h0M75.0 -48.8h0M93.7 -38.3h0M99.5 -28.1h0M103.6 -19.0h0M104.6 -14.3h0M105.2 -9.3h0M106.3 -5.0h0M109.4 2.3h0M111.2 5.2h0M109.4 10.6h0M112.2 13.4h0M111.1 18.1h0M111.2 22.1h0M112.7 25.9h0" stroke="#6a0a80" stroke-width="3.0" stroke-linecap="round" fill="none" opacity="0.8"/>
<path d="M110.9 33.9h0M110.4 41.7h0M108.5 67.7h0M99.8 88.7h0M96.8 93.5h0M57.4 94.7h0M43.5 71.3h0M41.4 67.9h0M42.3 61.5h0M39.8 49.9h0M41.1 10.8h0M39.2 1.0h0M40.7 -3.0h0M49.9 -29.6h0M80.2 -46.4h0M85.2 -44.0h0M90.2 -41.2h0M96.9 -33.7h0M102.8 -24.2h0M109.7 -3.2h0" stroke="#6a0a80" stroke-width="4.0" stroke-linecap="round" fill="none" opacity="0.8"/>
<path d="M103.0,30.0C103.0,38.4 102.3,47.5 100.9,55.3C99.6,63.0 97.5,70.7 95.1,76.7C92.7,82.6 89.5,87.8 86.3,91.0C83.2,94.2 79.4,96.0 76.0,96.0C72.6,96.0 68.8,94.2 65.7,91.0C62.5,87.8 59.3,82.6 56.9,76.7C54.5,70.7 52.4,63.0 51.1,55.3C49.7,47.5 49.0,38.4 49.0,30.0C49.0,21.6 49.7,12.5 51.1,4.7C52.4,-3.0 54.5,-10.7 56.9,-16.7C59.3,-22.6 62.5,-27.8 65.7,-31.0C68.8,-34.2 72.6,-36.0 76.0,-36.0C79.4,-36.0 83.2,-34.2 86.3,-31.0C89.5,-27.8 92.7,-22.6 95.1,-16.7C97.5,-10.7 99.6,-3.0 100.9,4.7C102.3,12.5 103.0,21.6 103.0,30.0Z" fill="url(#hp4)"/>
<path d="M40.0,92.0C40.0,102.7 39.1,114.2 37.6,124.1C36.0,134.0 33.5,143.8 30.6,151.4C27.7,159.0 24.0,165.5 20.2,169.6C16.5,173.7 12.1,176.0 8.0,176.0C3.9,176.0 -0.5,173.7 -4.2,169.6C-8.0,165.5 -11.7,159.0 -14.6,151.4C-17.5,143.8 -20.0,134.0 -21.6,124.1C-23.1,114.2 -24.0,102.7 -24.0,92.0C-24.0,81.3 -23.1,69.8 -21.6,59.9C-20.0,50.0 -17.5,40.2 -14.6,32.6C-11.7,25.0 -8.0,18.5 -4.2,14.4C-0.5,10.3 3.9,8.0 8.0,8.0C12.1,8.0 16.5,10.3 20.2,14.4C24.0,18.5 27.7,25.0 30.6,32.6C33.5,40.2 36.0,50.0 37.6,59.9C39.1,69.8 40.0,81.3 40.0,92.0Z" fill="#9a18a8"/>
<path d="M33.3 92.0h0M33.7 95.8h0M35.6 108.7h0M33.5 115.7h0M33.1 130.2h0M32.3 134.8h0M30.4 144.0h0M26.8 152.4h0M22.1 162.0h0M-3.5 163.8h0M-10.3 149.7h0M-19.0 116.7h0M-18.4 103.6h0M-18.2 99.6h0M-17.4 95.6h0M-19.7 92.0h0M-17.5 68.8h0M-19.1 62.8h0M7.9 11.1h0M32.2 60.3h0M33.4 68.3h0M33.4 80.6h0" stroke="#6a0a80" stroke-width="4.0" stroke-linecap="round" fill="none" opacity="0.8"/>
<path d="M35.3 100.1h0M36.1 104.6h0M33.0 111.2h0M33.2 119.8h0M34.3 126.2h0M30.4 137.6h0M28.9 147.2h0M24.4 156.7h0M19.3 164.2h0M15.7 168.0h0M11.6 167.7h0M7.9 172.6h0M4.0 169.3h0M0.2 166.5h0M-6.3 161.8h0M-8.4 156.1h0M-13.2 147.4h0M-14.5 143.7h0M-14.6 137.2h0M-16.1 134.0h0M-16.2 128.3h0M-18.1 125.5h0M-17.3 119.2h0M-19.6 112.8h0M-18.7 107.9h0M-17.1 88.4h0M-17.0 84.8h0M-18.2 80.5h0M-18.6 76.2h0M-18.6 72.0h0M-16.8 60.4h0M-16.3 55.6h0M-15.0 52.1h0M-15.2 45.5h0M-14.0 41.5h0M-13.0 37.4h0M-10.6 33.0h0M-8.0 29.9h0M-5.7 25.6h0M-3.6 19.5h0M0.3 17.8h0M4.1 16.5h0M11.8 13.8h0M15.8 15.4h0M19.7 17.3h0M21.9 23.1h0M23.9 28.8h0M25.8 34.4h0M28.7 37.3h0M29.7 41.6h0M30.7 45.8h0M31.1 51.2h0M31.9 55.4h0M34.0 63.5h0M32.8 73.0h0M33.9 76.3h0M35.0 84.0h0M33.6 88.2h0" stroke="#6a0a80" stroke-width="3.0" stroke-linecap="round" fill="none" opacity="0.8"/>
<path d="M23.0,92.0C23.0,100.7 22.5,110.0 21.7,118.0C20.9,126.0 19.6,133.9 18.0,140.1C16.5,146.2 14.5,151.5 12.5,154.8C10.5,158.1 8.2,160.0 6.0,160.0C3.8,160.0 1.5,158.1 -0.5,154.8C-2.5,151.5 -4.5,146.2 -6.0,140.1C-7.6,133.9 -8.9,126.0 -9.7,118.0C-10.5,110.0 -11.0,100.7 -11.0,92.0C-11.0,83.3 -10.5,74.0 -9.7,66.0C-8.9,58.0 -7.6,50.1 -6.0,43.9C-4.5,37.8 -2.5,32.5 -0.5,29.2C1.5,25.9 3.8,24.0 6.0,24.0C8.2,24.0 10.5,25.9 12.5,29.2C14.5,32.5 16.5,37.8 18.0,43.9C19.6,50.1 20.9,58.0 21.7,66.0C22.5,74.0 23.0,83.3 23.0,92.0Z" fill="url(#hp4)"/>
<path d="M150.0,243.4C150.5,257.9 149.8,273.6 148.0,287.1C146.2,300.6 143.1,314.0 139.3,324.4C135.5,334.8 130.5,343.9 125.3,349.6C120.0,355.4 113.8,358.7 108.0,358.9C102.1,359.1 95.7,356.2 90.1,350.9C84.5,345.5 78.8,336.8 74.3,326.7C69.8,316.6 65.8,303.4 63.0,290.1C60.3,276.7 58.5,261.1 58.0,246.6C57.5,232.1 58.2,216.4 60.0,202.9C61.8,189.4 64.9,176.0 68.7,165.6C72.5,155.2 77.5,146.1 82.7,140.4C88.0,134.6 94.2,131.3 100.0,131.1C105.9,130.9 112.3,133.8 117.9,139.1C123.5,144.5 129.2,153.2 133.7,163.3C138.2,173.4 142.2,186.6 145.0,199.9C147.7,213.3 149.5,228.9 150.0,243.4Z" fill="#a020a8"/>
<path d="M144.2 244.0h0M146.4 248.2h0M143.1 252.4h0M146.1 257.2h0M143.1 260.8h0M145.8 266.3h0M145.6 270.8h0M145.6 275.5h0M144.4 279.3h0M143.1 282.6h0M140.9 295.9h0M141.2 302.2h0M138.2 315.3h0M135.3 324.4h0M132.8 327.7h0M131.0 332.9h0M126.6 341.3h0M112.0 352.6h0M107.9 355.1h0M103.6 352.0h0M99.4 348.9h0M95.2 346.0h0M88.0 343.9h0M85.8 338.3h0M81.0 329.7h0M78.3 326.8h0M76.5 321.0h0M75.1 317.0h0M74.1 312.1h0M72.5 308.5h0M72.2 302.5h0M69.2 300.9h0M67.3 291.4h0M67.1 286.0h0M66.4 281.8h0M65.8 277.5h0M66.6 272.3h0M65.1 268.5h0M66.2 263.6h0M66.1 259.2h0M64.5 251.0h0M63.3 246.8h0M64.2 242.5h0M63.8 238.2h0M63.2 233.6h0M62.9 224.4h0M64.9 221.2h0M62.4 214.8h0M63.6 211.1h0M64.6 207.5h0M65.1 197.3h0M66.8 193.9h0M67.8 189.6h0M67.1 182.5h0M69.7 181.0h0M71.2 171.4h0M76.8 156.6h0M81.9 150.8h0M83.8 145.3h0M88.0 143.9h0M91.9 140.0h0M96.1 138.5h0M104.5 138.1h0M108.9 138.2h0M113.2 140.9h0M117.3 144.2h0M122.3 152.3h0M127.2 160.0h0M129.8 163.7h0M132.2 167.8h0M133.8 171.3h0M136.3 180.6h0M136.9 186.3h0M137.5 191.8h0M141.7 203.8h0M142.2 208.2h0M142.6 212.8h0M144.0 226.2h0M142.3 235.9h0M143.0 239.9h0" stroke="#6a0a80" stroke-width="3.0" stroke-linecap="round" fill="none" opacity="0.8"/>
<path d="M144.7 289.4h0M143.6 293.8h0M139.8 305.8h0M139.0 310.6h0M136.9 319.0h0M128.2 334.6h0M124.2 344.2h0M120.1 346.3h0M116.1 349.2h0M90.9 345.0h0M83.3 334.5h0M68.1 296.3h0M64.4 255.3h0M64.0 229.5h0M65.3 203.0h0M70.6 176.4h0M73.3 167.3h0M75.3 162.8h0M79.1 152.7h0M100.2 135.9h0M119.7 148.6h0M124.7 156.2h0M135.2 175.5h0M138.8 196.0h0M139.7 200.6h0M142.5 217.7h0M144.0 221.4h0M142.1 231.6h0" stroke="#6a0a80" stroke-width="4.0" stroke-linecap="round" fill="none" opacity="0.8"/>
<path d="M135.0,247.0C135.4,259.4 135.1,272.9 134.0,284.5C132.9,296.1 131.0,307.6 128.6,316.5C126.2,325.4 123.0,333.2 119.6,338.1C116.3,343.0 112.2,345.8 108.4,345.9C104.6,346.1 100.4,343.5 96.7,338.9C93.0,334.2 89.2,326.7 86.2,318.0C83.2,309.3 80.5,297.9 78.6,286.4C76.7,275.0 75.5,261.5 75.0,249.0C74.6,236.6 74.9,223.1 76.0,211.5C77.1,199.9 79.0,188.4 81.4,179.5C83.8,170.6 87.0,162.8 90.4,157.9C93.7,153.0 97.8,150.2 101.6,150.1C105.4,149.9 109.6,152.5 113.3,157.1C117.0,161.8 120.8,169.3 123.8,178.0C126.8,186.7 129.5,198.1 131.4,209.6C133.3,221.0 134.5,234.5 135.0,247.0Z" fill="url(#hp4)"/>
<path d="M231.9,102.9C232.5,113.4 232.0,124.7 230.5,134.4C229.1,144.2 226.5,153.8 223.3,161.4C220.1,169.0 215.7,175.6 211.3,179.9C206.8,184.1 201.4,186.6 196.3,186.9C191.2,187.2 185.6,185.2 180.7,181.5C175.8,177.7 170.8,171.6 166.8,164.4C162.8,157.2 159.2,147.8 156.7,138.3C154.3,128.7 152.6,117.5 152.1,107.1C151.5,96.6 152.0,85.3 153.5,75.6C154.9,65.8 157.5,56.2 160.7,48.6C163.9,41.0 168.3,34.4 172.7,30.1C177.2,25.9 182.6,23.4 187.7,23.1C192.8,22.8 198.4,24.8 203.3,28.5C208.2,32.3 213.2,38.4 217.2,45.6C221.2,52.8 224.8,62.2 227.3,71.7C229.7,81.3 231.4,92.5 231.9,102.9Z" fill="#9a18a8"/>
<path d="M227.3 103.2h0M227.6 115.3h0M226.9 127.4h0M224.3 144.6h0M223.4 149.1h0M218.8 162.7h0M216.1 167.5h0M210.0 174.8h0M168.7 159.9h0M165.3 152.4h0M160.0 130.7h0M160.5 126.1h0M155.6 102.8h0M158.4 83.3h0M159.1 70.0h0M164.1 54.6h0M165.7 48.0h0M168.5 43.7h0M171.3 39.3h0M178.7 32.7h0M188.0 28.3h0M202.9 31.9h0M205.5 39.6h0M215.9 48.9h0M217.9 59.2h0M221.0 67.0h0M223.2 70.2h0M224.2 79.2h0M224.8 83.2h0" stroke="#6a0a80" stroke-width="4.0" stroke-linecap="round" fill="none" opacity="0.8"/>
<path d="M225.8 107.0h0M228.2 111.3h0M225.4 118.5h0M226.6 123.0h0M226.6 131.3h0M225.5 135.3h0M224.6 139.6h0M220.9 150.9h0M220.7 156.6h0M212.7 170.1h0M205.7 178.7h0M200.8 180.2h0M196.1 181.9h0M191.2 179.1h0M186.3 179.0h0M181.6 176.0h0M178.4 171.8h0M175.3 167.3h0M172.1 163.6h0M166.5 157.3h0M164.1 147.8h0M162.8 143.5h0M160.6 140.2h0M161.2 134.2h0M158.4 123.0h0M160.3 118.0h0M156.4 115.2h0M159.2 110.5h0M155.9 106.9h0M158.6 99.1h0M157.5 95.0h0M158.1 91.2h0M156.6 86.4h0M158.8 79.6h0M157.5 73.6h0M160.2 65.8h0M162.2 62.9h0M162.4 57.6h0M174.2 35.6h0M183.4 30.7h0M192.9 31.7h0M197.8 31.6h0M208.9 42.3h0M212.1 46.5h0M216.9 54.2h0M219.3 63.3h0M223.0 75.9h0M223.4 88.3h0M227.0 90.8h0M225.1 95.6h0M224.8 99.6h0" stroke="#6a0a80" stroke-width="3.0" stroke-linecap="round" fill="none" opacity="0.8"/>
<path d="M218.0,103.7C218.4,112.1 218.2,121.2 217.4,129.0C216.6,136.8 215.0,144.6 213.1,150.7C211.2,156.7 208.5,162.0 205.7,165.4C203.0,168.8 199.6,170.7 196.5,170.9C193.3,171.1 189.7,169.5 186.6,166.4C183.5,163.3 180.4,158.4 177.8,152.5C175.2,146.7 172.9,139.1 171.3,131.4C169.6,123.7 168.5,114.7 168.0,106.3C167.6,97.9 167.8,88.8 168.6,81.0C169.4,73.2 171.0,65.4 172.9,59.3C174.8,53.3 177.5,48.0 180.3,44.6C183.0,41.2 186.4,39.3 189.5,39.1C192.7,38.9 196.3,40.5 199.4,43.6C202.5,46.7 205.6,51.6 208.2,57.5C210.8,63.3 213.1,70.9 214.7,78.6C216.4,86.3 217.5,95.3 218.0,103.7Z" fill="url(#hp4)"/>
<path d="M300.0,92.0C300.0,103.2 299.0,115.3 297.2,125.7C295.4,136.0 292.5,146.3 289.2,154.2C285.8,162.2 281.5,169.0 277.2,173.3C272.8,177.6 267.7,180.0 263.0,180.0C258.3,180.0 253.2,177.6 248.8,173.3C244.5,169.0 240.2,162.2 236.8,154.2C233.5,146.3 230.6,136.0 228.8,125.7C227.0,115.3 226.0,103.2 226.0,92.0C226.0,80.8 227.0,68.7 228.8,58.3C230.6,48.0 233.5,37.7 236.8,29.8C240.2,21.8 244.5,15.0 248.8,10.7C253.2,6.4 258.3,4.0 263.0,4.0C267.7,4.0 272.8,6.4 277.2,10.7C281.5,15.0 285.8,21.8 289.2,29.8C292.5,37.7 295.4,48.0 297.2,58.3C299.0,68.7 300.0,80.8 300.0,92.0Z" fill="#9a18a8"/>
<path d="M296.0 92.0h0M293.0 104.1h0M293.3 108.5h0M292.8 112.5h0M294.2 118.1h0M293.9 122.4h0M291.9 131.6h0M291.1 136.6h0M287.2 149.5h0M285.7 155.1h0M283.4 158.6h0M280.8 161.0h0M278.8 165.9h0M271.8 169.6h0M267.4 171.8h0M263.0 176.6h0M258.5 173.2h0M254.0 171.3h0M249.7 168.2h0M247.6 164.2h0M242.6 158.6h0M241.6 151.5h0M236.6 140.2h0M236.5 134.1h0M234.9 130.5h0M232.5 127.7h0M231.9 122.7h0M230.6 105.1h0M229.2 92.0h0M229.8 87.6h0M230.7 79.0h0M231.2 74.7h0M233.3 71.5h0M232.6 62.1h0M237.2 44.9h0M236.8 37.3h0M239.2 35.5h0M243.5 28.3h0M245.3 23.1h0M247.7 20.3h0M249.7 15.4h0M254.3 14.6h0M258.6 11.4h0M263.0 7.5h0M267.5 9.4h0M271.8 14.3h0M276.0 17.2h0M278.3 20.5h0M282.9 27.0h0M285.5 29.5h0M287.9 32.9h0M288.5 38.8h0M288.7 45.1h0M290.9 47.6h0M293.1 56.8h0M294.7 60.8h0M293.7 66.3h0M294.7 70.2h0M292.6 75.9h0M295.0 83.5h0" stroke="#6a0a80" stroke-width="3.0" stroke-linecap="round" fill="none" opacity="0.8"/>
<path d="M293.1 96.0h0M293.2 100.0h0M292.0 126.0h0M289.4 140.2h0M287.6 143.4h0M276.4 169.2h0M245.6 159.6h0M238.5 150.3h0M237.0 146.4h0M230.8 118.8h0M231.2 113.9h0M232.5 108.6h0M233.0 100.0h0M232.1 96.1h0M231.5 83.6h0M231.0 65.3h0M232.8 56.6h0M235.2 53.9h0M234.7 47.0h0M240.7 30.1h0M280.4 24.5h0M292.4 51.7h0M294.0 79.5h0M292.7 88.1h0" stroke="#6a0a80" stroke-width="4.0" stroke-linecap="round" fill="none" opacity="0.8"/>
<path d="M285.0,92.0C285.0,101.2 284.4,111.1 283.3,119.6C282.3,128.0 280.5,136.4 278.6,142.9C276.6,149.4 274.0,155.0 271.4,158.5C268.8,162.0 265.8,164.0 263.0,164.0C260.2,164.0 257.2,162.0 254.6,158.5C252.0,155.0 249.4,149.4 247.4,142.9C245.5,136.4 243.7,128.0 242.7,119.6C241.6,111.1 241.0,101.2 241.0,92.0C241.0,82.8 241.6,72.9 242.7,64.4C243.7,56.0 245.5,47.6 247.4,41.1C249.4,34.6 252.0,29.0 254.6,25.5C257.2,22.0 260.2,20.0 263.0,20.0C265.8,20.0 268.8,22.0 271.4,25.5C274.0,29.0 276.6,34.6 278.6,41.1C280.5,47.6 282.3,56.0 283.3,64.4C284.4,72.9 285.0,82.8 285.0,92.0Z" fill="url(#hp4)"/>
<path d="M340.0,200.0C340.0,210.5 339.4,221.7 338.3,231.4C337.3,241.0 335.5,250.6 333.6,258.0C331.6,265.4 329.0,271.8 326.4,275.8C323.8,279.8 320.8,282.0 318.0,282.0C315.2,282.0 312.2,279.8 309.6,275.8C307.0,271.8 304.4,265.4 302.4,258.0C300.5,250.6 298.7,241.0 297.7,231.4C296.6,221.7 296.0,210.5 296.0,200.0C296.0,189.5 296.6,178.3 297.7,168.6C298.7,159.0 300.5,149.4 302.4,142.0C304.4,134.6 307.0,128.2 309.6,124.2C312.2,120.2 315.2,118.0 318.0,118.0C320.8,118.0 323.8,120.2 326.4,124.2C329.0,128.2 331.6,134.6 333.6,142.0C335.5,149.4 337.3,159.0 338.3,168.6C339.4,178.3 340.0,189.5 340.0,200.0Z" fill="#a028b0"/>
<path d="M335.7 201.2h0M336.4 205.2h0M334.6 208.9h0M335.5 237.3h0M334.2 239.6h0M332.2 251.9h0M330.9 257.4h0M329.2 261.0h0M327.7 266.1h0M326.0 269.0h0M322.2 273.0h0M318.3 276.6h0M314.2 275.2h0M310.2 272.2h0M308.9 266.3h0M306.9 263.5h0M304.4 252.7h0M303.8 242.9h0M302.9 234.6h0M300.9 232.6h0M300.6 214.1h0M302.1 209.3h0M301.5 205.2h0M301.8 201.1h0M300.8 196.6h0M300.7 192.1h0M299.9 186.8h0M301.7 179.3h0M301.4 158.4h0M302.1 154.1h0M303.0 150.3h0M303.5 145.3h0M305.5 142.5h0M308.6 133.2h0M314.2 125.7h0M318.2 122.8h0M322.2 126.3h0M326.2 128.0h0M327.7 134.3h0M329.5 137.3h0M332.5 147.6h0M333.3 151.4h0M333.9 155.9h0M334.8 159.2h0M335.6 169.2h0M337.0 176.9h0M335.1 184.9h0M335.4 188.8h0M336.3 192.3h0M334.5 197.8h0" stroke="#6a0a80" stroke-width="3.0" stroke-linecap="round" fill="none" opacity="0.8"/>
<path d="M334.8 213.0h0M334.2 216.5h0M336.4 223.4h0M335.7 227.2h0M336.2 233.1h0M333.2 242.7h0M333.3 249.4h0M305.4 258.7h0M304.0 247.9h0M302.9 239.5h0M302.4 226.3h0M299.9 224.0h0M300.7 218.6h0M301.7 183.9h0M299.8 171.9h0M300.9 168.5h0M301.2 163.6h0M307.0 137.5h0M310.4 129.5h0M331.1 142.5h0M335.0 165.2h0M336.2 173.4h0" stroke="#6a0a80" stroke-width="4.0" stroke-linecap="round" fill="none" opacity="0.8"/>
<path d="M334.0,205.0C334.0,213.9 333.7,223.5 333.1,231.8C332.5,240.0 331.6,248.2 330.5,254.5C329.4,260.8 328.0,266.3 326.6,269.7C325.2,273.1 323.5,275.0 322.0,275.0C320.5,275.0 318.8,273.1 317.4,269.7C316.0,266.3 314.6,260.8 313.5,254.5C312.4,248.2 311.5,240.0 310.9,231.8C310.3,223.5 310.0,213.9 310.0,205.0C310.0,196.1 310.3,186.5 310.9,178.2C311.5,170.0 312.4,161.8 313.5,155.5C314.6,149.2 316.0,143.7 317.4,140.3C318.8,136.9 320.5,135.0 322.0,135.0C323.5,135.0 325.2,136.9 326.6,140.3C328.0,143.7 329.4,149.2 330.5,155.5C331.6,161.8 332.5,170.0 333.1,178.2C333.7,186.5 334.0,196.1 334.0,205.0Z" fill="url(#hp4)"/>
<path d="M146.0,338.0C135.3,325.0 145.7,280.5 148.0,260.0C150.3,239.5 153.8,225.3 160.0,215.0C166.2,204.7 176.7,198.0 185.0,198.0C193.3,198.0 205.3,201.3 210.0,215.0C214.7,228.7 212.7,259.5 213.0,280.0C213.3,300.5 223.2,328.3 212.0,338.0C200.8,347.7 156.7,351.0 146.0,338.0Z" fill="#d27ad6"/>
<path d="M222.0,300.0C215.7,288.3 220.2,248.7 224.0,230.0C227.8,211.3 234.0,195.5 245.0,188.0C256.0,180.5 276.7,183.0 290.0,185.0C303.3,187.0 317.0,195.0 325.0,200.0C333.0,205.0 335.8,198.3 338.0,215.0C340.2,231.7 344.3,286.2 338.0,300.0C331.7,313.8 312.7,298.0 300.0,298.0C287.3,298.0 275.0,299.7 262.0,300.0C249.0,300.3 228.3,311.7 222.0,300.0Z" fill="#d27ad6"/>
<path d="M150.0,330.0C150.3,318.3 149.5,278.0 152.0,260.0C154.5,242.0 159.5,231.2 165.0,222.0C170.5,212.8 178.3,205.0 185.0,205.0C191.7,205.0 201.2,209.5 205.0,222.0C208.8,234.5 207.7,262.0 208.0,280.0C208.3,298.0 207.2,321.7 207.0,330.0" fill="none" stroke="#a828b0" stroke-width="8" stroke-linecap="round" stroke-linejoin="round"/>
<path d="M228.0,292.0C228.3,282.0 226.3,248.2 230.0,232.0C233.7,215.8 240.0,201.7 250.0,195.0C260.0,188.3 275.8,190.3 290.0,192.0C304.2,193.7 327.5,202.8 335.0,205.0" fill="none" stroke="#a828b0" stroke-width="8" stroke-linecap="round" stroke-linejoin="round"/>
<path d="M213.0,338.0C211.3,320.8 212.5,252.7 214.0,235.0C215.5,217.3 220.3,214.8 222.0,232.0C223.7,249.2 225.5,320.3 224.0,338.0C222.5,355.7 214.7,355.2 213.0,338.0Z" fill="#f6f2fb"/>
<path d="M224.0,302.0C230.3,296.2 249.3,303.0 262.0,303.0C274.7,303.0 287.3,302.2 300.0,302.0C312.7,301.8 331.7,296.0 338.0,302.0C344.3,308.0 357.0,332.0 338.0,338.0C319.0,344.0 243.0,344.0 224.0,338.0C205.0,332.0 217.7,307.8 224.0,302.0Z" fill="#f4f2fb"/>
<path d="M8.0,338.0C-6.8,330.3 8.0,301.3 15.0,292.0C22.0,282.7 37.2,282.0 50.0,282.0C62.8,282.0 83.0,282.7 92.0,292.0C101.0,301.3 118.0,330.3 104.0,338.0C90.0,345.7 22.8,345.7 8.0,338.0Z" fill="#b040b8"/>
<path d="M10.6 336.3h0M14.0 330.4h0M13.7 326.8h0M15.3 314.4h0M19.0 310.1h0M19.2 306.2h0M17.0 301.8h0M20.1 298.3h0M20.6 294.4h0M22.4 292.3h0M32.2 291.4h0M35.4 289.9h0M39.7 289.5h0M42.8 287.4h0M46.6 286.3h0M51.0 288.6h0M54.5 287.4h0M58.2 289.4h0M65.4 291.3h0M68.7 292.5h0M73.3 292.5h0M77.8 292.9h0M85.8 294.7h0M91.2 301.8h0M91.1 314.0h0M93.3 318.1h0M95.2 322.4h0M98.2 331.1h0M99.1 335.1h0M96.2 335.9h0M86.0 334.6h0M76.7 333.1h0M73.0 333.4h0M64.7 332.1h0M57.3 331.5h0M53.7 331.6h0M49.8 333.6h0M46.1 333.1h0M41.4 335.1h0M38.0 333.9h0M33.7 334.3h0M24.3 335.6h0M17.5 334.5h0" stroke="#6a0a80" stroke-width="3.0" stroke-linecap="round" fill="none" opacity="0.8"/>
<path d="M13.8 322.9h0M16.2 318.2h0M28.0 292.1h0M62.5 288.8h0M83.0 293.2h0M89.4 297.7h0M91.0 306.1h0M89.9 310.1h0M98.7 327.6h0M91.6 335.6h0M81.8 334.4h0M68.7 332.7h0M61.5 333.5h0M29.2 334.9h0M21.3 334.6h0" stroke="#6a0a80" stroke-width="4.0" stroke-linecap="round" fill="none" opacity="0.8"/>
</g></g></g>
<clipPath id="hc5"><rect x="393.4" y="1638" width="321.6" height="321.7"/></clipPath>
<filter id="hf5" filterUnits="userSpaceOnUse" x="393.4" y="1638" width="321.6" height="321.7" color-interpolation-filters="sRGB"><feTurbulence type="fractalNoise" baseFrequency="0.06" numOctaves="2" seed="6" result="tn"/><feDisplacementMap in="SourceGraphic" in2="tn" scale="9" xChannelSelector="R" yChannelSelector="G" result="dsp"/><feGaussianBlur in="dsp" stdDeviation="0.7" result="b"/><feTurbulence type="fractalNoise" baseFrequency="0.25" numOctaves="2" seed="56" result="fn"/><feColorMatrix in="fn" type="matrix" values="0.22 0 0 0 0.890 0.22 0 0 0 0.890 0.22 0 0 0 0.890 0 0 0 0 1" result="fn2"/><feBlend in="b" in2="fn2" mode="multiply" result="o"/><feComponentTransfer in="o"><feFuncA type="linear" slope="0" intercept="1"/></feComponentTransfer></filter>
<g clip-path="url(#hc5)"><g filter="url(#hf5)"><g transform="translate(393.4,1638)">
<rect x="-12" y="-12" width="345.6" height="345.7" fill="#c96890"/>
<path d="M255.1 264.4h0M84.1 0.1h0M151.2 244.4h0M234.7 133.2h0M219.3 62.1h0M220.5 271.6h0M143.2 30.2h0M189.3 64.6h0M116.2 193.6h0M168.9 37.6h0M100.4 63.1h0M199.5 98.5h0M127.9 315.6h0M314.9 287.0h0M256.0 166.2h0M240.1 85.5h0M39.7 189.6h0M196.9 86.2h0M153.9 45.7h0M98.3 258.9h0M120.9 194.0h0M261.6 158.2h0M32.2 116.4h0M201.2 195.1h0M202.3 225.6h0M267.8 26.9h0M141.8 250.4h0M257.3 314.6h0M90.0 310.8h0M262.5 205.4h0M10.5 55.7h0M305.5 225.4h0M25.0 235.3h0M176.0 149.3h0M24.2 23.8h0M9.8 169.0h0M90.6 48.6h0M124.9 71.8h0M181.4 292.9h0M52.5 101.8h0M184.1 253.0h0M60.5 104.6h0M207.5 259.1h0M214.4 312.9h0M12.8 244.2h0M228.7 32.2h0M277.9 54.2h0M217.4 234.7h0M92.3 142.6h0M68.8 190.5h0M190.0 87.9h0M123.5 191.0h0M201.6 154.6h0M44.0 285.7h0M144.2 260.1h0M304.9 260.4h0M38.6 190.7h0M279.7 275.1h0M81.0 42.7h0M98.1 26.6h0M167.3 249.8h0M190.3 279.0h0M256.6 21.5h0M315.2 213.9h0M294.8 56.3h0M147.2 35.6h0M146.5 258.6h0M236.0 312.4h0M146.6 19.7h0M232.0 123.6h0M32.8 268.8h0M267.8 47.4h0M311.8 218.2h0M140.8 82.1h0M14.7 240.3h0M159.3 172.7h0M11.4 4.5h0M70.0 234.3h0M29.0 281.5h0M71.0 123.6h0M138.3 188.0h0M195.8 86.6h0M312.7 155.2h0M269.2 81.2h0M312.0 96.7h0M119.3 319.5h0M288.2 52.3h0M209.0 102.4h0M141.1 171.7h0M84.6 0.4h0M99.4 124.9h0M49.3 252.1h0M255.3 43.5h0M88.7 56.5h0M31.8 7.6h0M196.8 156.9h0M197.7 62.1h0M36.3 215.3h0M71.7 113.1h0M208.2 190.6h0M130.9 127.6h0M117.0 160.5h0M292.5 121.2h0M132.3 189.5h0M285.9 51.6h0M217.8 150.8h0M284.6 195.4h0M314.1 165.7h0M116.6 292.9h0M22.7 188.7h0M111.5 209.4h0M172.5 266.9h0M312.0 261.1h0M199.1 134.5h0M9.8 207.4h0M155.5 300.8h0M134.3 114.8h0M119.1 243.1h0M180.6 161.4h0M26.3 217.2h0M183.0 155.0h0M247.9 3.0h0M174.4 95.3h0M9.4 33.8h0M69.1 66.8h0M191.1 210.4h0M90.9 96.7h0M10.5 141.0h0M130.6 115.2h0M191.7 211.0h0M21.0 172.0h0M3.9 67.9h0M125.0 112.6h0M86.9 251.2h0M203.3 27.8h0M192.4 319.7h0M293.2 78.0h0M8.7 113.6h0M194.8 168.5h0M54.2 56.8h0M91.9 250.9h0M40.6 256.7h0M120.0 130.4h0M76.7 298.3h0M105.2 205.4h0M180.2 192.0h0M164.5 106.8h0M288.1 66.1h0M227.1 247.3h0M78.9 46.7h0M205.0 247.1h0M15.5 95.2h0M82.6 204.0h0M314.4 117.7h0M129.0 205.2h0M314.8 64.4h0M280.4 86.6h0M62.0 316.2h0M273.9 303.1h0M33.7 69.6h0M22.9 7.8h0M291.9 312.0h0M139.7 16.8h0M294.5 253.3h0M94.1 0.4h0M64.6 111.4h0M103.7 236.2h0M261.2 147.4h0M106.2 295.4h0M133.6 84.1h0M79.6 80.2h0M316.4 260.8h0M37.5 167.4h0M301.0 123.5h0M272.3 47.6h0M145.8 260.1h0M236.2 53.0h0M279.5 239.8h0M100.9 177.1h0M5.5 17.8h0M29.4 53.6h0M168.2 158.7h0M317.0 191.0h0M200.0 7.0h0M260.8 73.7h0M276.5 272.9h0M168.1 38.5h0M172.4 94.1h0M3.5 295.4h0M267.1 203.9h0M308.5 90.1h0M136.9 119.6h0M218.2 290.9h0M95.4 259.4h0M213.3 197.1h0M136.3 143.6h0M117.1 119.3h0M296.2 8.6h0M63.6 14.3h0M314.6 232.4h0M174.6 211.0h0M159.4 272.3h0M137.1 136.6h0M83.0 71.9h0M34.0 149.0h0M151.5 145.3h0M250.1 282.8h0M217.8 91.5h0M154.6 91.6h0M211.5 177.2h0M189.0 319.6h0M90.5 272.8h0M125.0 286.8h0M27.2 298.4h0M207.0 220.9h0M258.4 142.1h0M208.8 197.3h0M190.9 313.2h0M62.0 146.6h0M55.0 210.1h0M181.4 74.9h0M251.6 126.1h0M199.8 27.7h0M295.5 314.2h0M282.9 291.4h0M292.5 229.2h0M248.4 126.9h0M6.0 268.8h0M6.5 270.2h0M42.9 211.8h0M144.4 108.3h0M150.6 222.6h0M303.2 277.4h0M283.4 303.6h0M81.4 303.2h0M304.2 244.6h0M43.0 244.5h0M3.7 97.3h0M121.6 197.3h0M132.6 67.0h0M216.7 7.9h0M175.7 98.3h0M144.7 19.0h0M73.0 67.2h0M216.7 218.7h0M57.9 35.7h0M132.9 261.6h0M46.6 199.3h0M279.5 163.5h0M109.7 218.6h0M94.8 274.8h0M31.0 252.4h0M64.8 206.7h0M125.4 188.9h0M9.2 136.4h0M19.0 143.7h0M12.7 258.0h0M95.5 0.9h0M217.8 272.7h0M320.9 79.5h0M1.1 130.4h0M277.6 39.1h0M64.4 162.9h0M78.0 260.4h0M157.5 85.6h0M22.6 8.4h0M72.2 289.0h0M312.9 158.6h0M20.4 320.6h0M183.0 211.9h0M51.0 174.0h0M146.8 52.1h0M180.0 128.1h0M162.7 143.0h0M243.7 109.0h0M66.2 1.3h0M78.9 297.5h0M295.2 293.6h0M263.5 173.7h0M242.2 39.0h0M294.7 13.9h0M25.4 293.1h0M108.3 87.4h0M132.0 205.4h0M106.9 55.0h0M151.6 98.8h0M132.0 140.7h0M236.6 151.8h0M34.8 307.1h0M216.4 255.0h0M98.9 200.6h0M311.9 111.3h0M118.0 243.5h0M143.1 40.5h0M168.3 66.9h0M75.6 96.5h0M229.5 234.8h0M270.7 272.2h0M22.5 168.7h0M321.5 60.9h0M27.8 198.6h0M80.1 151.7h0M220.8 280.5h0M31.2 71.3h0M278.3 285.8h0M113.1 97.9h0M271.3 50.3h0M115.2 140.2h0M214.2 154.5h0M5.8 307.8h0M42.5 84.7h0M190.5 155.9h0M155.7 263.3h0M306.9 243.8h0M166.3 70.9h0M34.8 245.3h0M95.5 46.2h0M225.7 107.1h0M49.2 207.8h0M304.2 245.4h0M268.4 307.0h0M174.1 38.8h0M7.9 61.0h0M201.8 130.9h0M27.9 209.7h0M104.6 107.2h0M241.1 101.3h0M271.3 189.8h0M310.5 76.3h0M92.6 110.9h0M298.7 125.7h0M30.5 245.8h0M94.0 103.1h0M61.7 196.8h0M299.3 193.7h0M290.6 185.8h0M286.5 211.3h0M87.5 198.6h0M265.9 313.0h0M0.8 103.7h0M304.1 73.2h0M81.2 88.8h0M269.3 135.9h0M121.2 129.1h0M71.5 221.2h0M175.6 43.2h0M6.9 25.5h0M72.3 80.2h0M34.1 213.7h0M132.1 241.7h0M33.2 64.3h0M49.2 191.7h0M221.1 78.6h0M127.5 302.5h0M54.6 243.2h0M42.0 276.1h0M206.2 22.3h0M61.2 106.6h0M270.4 190.8h0M167.7 103.0h0M75.1 83.6h0M90.4 109.6h0M120.1 290.5h0M43.5 320.4h0M44.0 24.0h0M206.7 36.2h0M199.7 129.5h0M66.1 309.6h0M113.0 138.3h0M208.5 132.4h0M258.2 315.8h0M86.3 33.9h0M187.0 186.2h0M300.5 240.3h0M6.5 134.4h0M287.5 13.5h0M196.2 78.9h0M54.2 227.4h0M32.4 228.2h0M104.8 75.2h0M137.4 196.3h0M150.0 294.2h0M181.9 231.8h0M32.2 5.2h0M61.2 10.0h0M13.0 66.1h0M250.3 306.9h0M255.4 278.2h0M71.8 214.1h0M30.9 229.8h0M89.9 230.9h0M316.3 154.0h0M200.0 53.3h0M29.3 90.6h0M39.3 183.9h0M229.6 137.6h0" stroke="#96386a" stroke-width="4.0" stroke-linecap="round" fill="none"/>
<path d="M247.7 87.7h0M258.9 85.4h0M30.0 257.5h0M204.2 93.7h0M115.9 300.1h0M165.5 207.4h0M189.5 28.9h0M44.4 67.5h0M224.5 4.0h0M5.5 107.1h0M125.2 40.8h0M17.3 136.0h0M286.1 143.9h0M82.4 145.3h0M81.9 132.1h0M212.0 312.3h0M128.1 157.0h0M248.8 36.1h0M116.4 301.9h0M20.0 62.0h0M197.3 135.8h0M207.6 148.9h0M293.1 292.0h0M145.4 223.2h0M44.1 303.5h0M302.2 26.9h0M16.7 319.5h0M141.8 127.9h0M177.2 213.0h0M10.3 174.6h0M72.5 181.9h0M94.4 151.5h0M38.6 36.1h0M16.1 295.9h0M276.3 250.5h0M254.2 239.6h0M227.8 220.0h0M118.1 37.7h0M9.0 296.4h0M134.8 58.5h0M277.1 170.8h0M261.0 151.3h0M289.2 49.7h0M122.3 40.5h0M269.2 167.2h0M117.1 319.9h0M35.2 194.0h0M112.9 50.9h0M202.2 276.5h0M283.8 9.6h0M143.4 4.0h0M22.6 38.9h0M255.5 318.2h0M111.2 175.3h0M145.7 315.7h0M200.0 1.1h0M233.9 226.0h0M59.5 59.0h0M274.2 230.8h0M91.0 159.4h0M16.4 165.8h0M105.3 135.1h0M62.0 293.6h0M38.4 207.2h0M229.2 119.8h0M205.1 205.8h0M251.3 116.1h0M16.0 71.7h0M89.8 61.2h0M314.0 170.0h0M215.1 141.8h0M160.2 139.4h0M277.7 289.0h0M216.0 64.1h0M74.9 138.7h0M209.7 101.3h0M92.0 49.4h0M93.3 318.3h0M67.1 22.2h0M64.8 275.5h0M123.1 181.3h0M19.0 210.9h0M280.1 30.0h0M2.3 284.5h0M212.1 213.7h0M302.5 76.2h0M258.7 128.7h0M164.4 273.2h0M222.1 104.2h0M212.0 272.2h0M206.3 247.9h0M231.0 189.9h0M311.6 0.1h0M41.4 1.0h0M119.9 36.5h0M7.0 219.2h0M102.0 141.5h0M17.4 88.2h0M70.6 280.0h0M122.5 203.0h0M50.1 57.3h0M317.8 10.4h0M256.9 21.8h0M5.5 306.8h0M267.1 198.5h0M266.9 115.3h0M220.4 224.7h0M248.5 233.7h0M82.5 291.6h0M203.7 130.7h0M302.0 104.1h0M88.5 119.4h0M6.7 106.3h0M4.4 276.3h0M154.3 321.0h0M195.9 272.9h0M45.2 158.6h0M279.6 74.6h0M320.4 49.3h0M273.2 97.5h0M206.0 193.4h0M28.6 197.2h0M231.8 107.4h0M296.9 315.4h0M262.0 215.1h0M210.1 304.8h0M17.2 181.9h0M18.8 90.4h0M165.9 74.5h0M160.5 62.0h0M138.5 80.2h0M213.7 226.0h0M97.0 300.0h0M46.2 69.1h0M124.6 164.6h0M284.8 233.5h0M36.6 16.0h0M73.6 77.6h0M247.0 208.2h0M107.9 297.7h0M269.2 221.2h0M183.5 8.9h0M75.9 308.0h0M133.5 78.1h0M226.9 267.2h0M164.5 96.0h0M202.0 158.9h0M244.5 93.6h0M218.3 15.2h0M118.6 114.2h0M265.8 124.6h0M253.6 255.5h0M3.6 61.1h0M51.8 274.8h0M271.9 251.0h0M250.7 107.6h0M137.4 182.4h0M142.5 258.5h0M294.8 215.8h0M0.4 278.7h0M207.9 309.4h0M286.3 261.0h0M121.5 158.1h0M290.9 99.5h0M275.7 90.7h0M191.7 221.7h0M300.6 26.6h0M105.4 5.8h0M279.9 84.7h0M162.0 237.2h0M168.2 282.2h0M42.3 30.9h0M18.4 89.5h0M308.4 191.3h0M23.4 218.4h0M63.2 98.5h0M10.7 60.3h0M36.7 72.4h0M281.4 131.1h0M146.7 177.7h0M46.6 264.3h0M314.3 255.8h0M7.0 184.8h0M215.0 243.5h0M55.6 37.8h0M141.8 129.7h0M190.1 191.5h0M280.8 193.0h0M141.7 161.6h0M300.3 114.3h0M185.9 154.7h0M187.9 255.8h0M36.2 142.4h0M293.5 256.7h0M148.8 295.8h0M266.5 114.7h0M49.1 75.6h0M293.0 238.1h0M278.3 177.3h0M220.6 241.5h0M35.4 67.9h0M223.7 72.3h0M140.4 133.1h0M211.6 283.7h0M264.6 292.5h0M123.9 311.1h0M58.8 264.8h0M31.1 146.9h0M262.1 68.1h0M27.5 130.5h0M171.2 314.0h0M199.6 278.0h0M174.2 107.7h0" stroke="#96386a" stroke-width="5.0" stroke-linecap="round" fill="none"/>
<path d="M259.1 314.1h0M226.9 131.6h0M252.1 55.4h0M301.2 93.5h0M144.5 18.4h0M202.0 31.3h0M88.9 229.2h0M296.6 10.3h0M201.1 123.8h0M30.1 191.5h0M140.1 267.8h0M44.8 3.2h0M0.8 266.5h0M275.0 116.7h0M247.1 298.1h0M49.9 162.5h0M221.1 250.6h0M293.2 88.1h0M150.8 130.1h0M171.0 269.6h0M97.8 49.5h0M115.5 211.0h0M163.3 25.1h0M287.4 77.3h0M277.8 289.9h0M128.2 157.2h0M189.6 151.9h0M145.9 321.6h0M272.7 113.5h0M258.3 2.1h0M66.2 320.6h0M216.7 205.5h0M294.0 274.9h0M62.1 318.8h0M161.2 202.5h0M311.2 269.2h0M36.8 262.4h0M136.3 163.6h0M220.7 32.3h0M234.9 251.5h0M205.3 270.9h0M64.6 51.3h0M87.6 173.2h0M275.5 229.3h0M295.7 50.6h0M162.6 5.7h0M87.8 50.5h0M79.1 210.5h0M38.6 303.3h0M13.2 176.6h0M282.3 199.7h0M242.7 288.0h0M241.9 253.5h0M90.3 126.3h0M2.8 160.7h0M135.0 208.1h0M178.3 157.6h0M285.1 34.1h0M200.8 37.3h0M264.2 248.5h0M307.4 266.8h0M288.1 22.0h0M139.1 31.8h0M241.4 144.5h0M225.3 22.4h0M62.4 54.9h0M75.5 111.6h0M290.6 73.1h0M307.5 269.7h0M222.6 213.3h0M116.2 180.4h0M118.6 51.0h0M213.7 58.9h0M212.2 252.6h0M43.1 149.8h0M89.9 304.7h0M187.4 98.1h0M38.2 74.5h0M174.2 198.5h0M133.0 209.6h0M70.3 194.3h0M83.8 320.6h0M202.8 78.4h0M310.7 123.0h0M69.0 215.8h0M128.6 127.5h0M251.3 29.8h0M230.9 170.2h0M93.5 225.8h0M9.9 177.9h0M179.7 248.3h0" stroke="#96386a" stroke-width="3.0" stroke-linecap="round" fill="none"/>
<path d="M58.7 114.9h0M192.1 234.0h0M293.3 170.3h0M139.6 256.7h0M274.2 207.3h0M267.8 205.6h0M22.6 292.5h0M60.8 288.8h0M225.6 312.5h0M118.7 199.4h0M218.5 159.5h0M167.2 22.5h0M162.7 150.2h0M289.6 178.2h0M104.5 299.4h0M272.4 94.1h0M316.1 211.5h0M265.0 101.0h0M155.5 12.5h0M131.7 55.8h0M160.9 280.2h0M34.3 132.4h0M93.3 6.4h0M299.3 54.7h0M245.1 187.0h0M173.9 5.7h0M111.5 145.9h0M28.0 184.7h0M298.4 155.9h0M118.4 218.8h0M316.3 97.6h0M13.5 140.4h0M253.6 176.4h0M156.4 2.7h0M272.4 121.9h0M273.1 207.2h0M54.2 111.0h0M48.4 307.5h0M76.3 253.0h0M72.5 100.3h0M204.1 153.6h0M207.1 176.3h0M304.4 38.7h0M139.1 307.0h0M8.8 125.4h0M292.9 308.7h0M241.5 287.2h0M87.0 247.2h0" stroke="#e8b0c8" stroke-width="2.0" stroke-linecap="round" fill="none"/>
<path d="M191.9 7.3h0M217.0 300.1h0M278.4 188.5h0M42.4 284.8h0M152.1 181.1h0M126.7 86.4h0M58.7 116.9h0M177.6 77.0h0M86.7 78.0h0M186.3 240.4h0M192.1 139.0h0M152.7 105.2h0M305.9 35.4h0M173.6 166.8h0M303.4 132.4h0M274.3 275.4h0M211.5 203.0h0M293.5 46.2h0M174.5 51.0h0M206.8 280.1h0M310.2 101.6h0M1.8 301.8h0M267.7 72.8h0M195.8 191.2h0M158.7 62.8h0M138.5 256.2h0M221.7 22.5h0M93.2 314.4h0M273.1 254.4h0M276.5 247.7h0M111.8 47.4h0M172.1 264.3h0M179.0 120.3h0M149.3 18.9h0M39.3 199.2h0M305.2 247.3h0M26.2 198.6h0M142.4 73.0h0M99.7 267.2h0M258.7 59.7h0M134.0 287.7h0M86.2 207.1h0M13.5 224.9h0M320.9 153.9h0M185.2 144.5h0M62.9 302.1h0M20.2 227.4h0M221.3 141.6h0M139.0 293.4h0M294.7 265.0h0M116.4 44.9h0M43.8 10.8h0M242.4 211.8h0M185.9 245.2h0M223.2 243.7h0M23.9 235.2h0M44.5 275.1h0M12.4 132.8h0M76.6 24.2h0M7.9 226.4h0M14.0 306.8h0M96.6 263.6h0M111.8 299.7h0M307.8 45.0h0M15.4 73.6h0M217.7 8.2h0M143.6 173.8h0M67.5 125.4h0M279.5 161.2h0M209.6 158.1h0M137.6 90.6h0M27.7 258.8h0M79.8 19.0h0M103.8 106.8h0M314.9 247.2h0M165.3 281.4h0M262.7 312.3h0M222.9 149.4h0M100.8 173.5h0M160.6 141.6h0M252.7 208.4h0M78.9 141.4h0M55.4 158.7h0M279.4 158.7h0M271.2 155.0h0M267.0 141.5h0M173.2 197.3h0M6.7 53.5h0M101.4 241.3h0M286.4 255.4h0M208.1 269.0h0M20.5 226.4h0M85.6 98.5h0M171.8 26.9h0M28.7 209.6h0M0.5 8.7h0M216.7 206.5h0M200.8 277.3h0M26.0 175.9h0M229.6 245.3h0M66.8 120.9h0M98.3 44.7h0M95.8 226.9h0M131.7 187.9h0M286.4 48.7h0M301.5 121.8h0M51.9 265.0h0M143.5 214.6h0M131.0 210.5h0M195.2 259.3h0M212.0 301.7h0M120.0 175.2h0M169.8 159.4h0M176.1 64.3h0M278.9 120.4h0M91.3 268.0h0M265.8 107.9h0M78.4 299.7h0M78.2 243.7h0M259.7 280.7h0M30.3 211.1h0M292.7 100.8h0M179.6 187.8h0M251.1 12.5h0M40.2 97.3h0M16.0 23.7h0M266.0 298.4h0M130.5 243.6h0M241.2 70.3h0M238.8 162.0h0M232.5 73.7h0M77.4 152.5h0M244.3 119.4h0M42.8 183.3h0M295.1 130.0h0M4.4 316.2h0M205.0 81.9h0M252.3 62.4h0M320.3 214.3h0M302.5 88.5h0M62.3 17.2h0M27.7 295.3h0M211.2 12.6h0M203.8 128.8h0M61.8 60.3h0M316.7 112.3h0M241.4 90.8h0M206.8 295.1h0M292.8 281.4h0M184.6 151.7h0M162.7 120.7h0M95.4 24.1h0M100.9 304.9h0M88.2 59.4h0M219.6 182.7h0M226.1 143.8h0M162.2 281.1h0M61.9 305.9h0M149.3 103.5h0M146.2 266.5h0M8.1 70.1h0M169.4 225.8h0M105.4 245.2h0M287.7 16.4h0M8.2 281.7h0M34.3 302.6h0M215.7 137.1h0M12.6 197.3h0M290.4 104.0h0M235.5 58.6h0M23.1 240.7h0M132.8 258.3h0M98.6 163.5h0M295.1 10.7h0M63.4 189.3h0M65.5 37.8h0M101.3 33.8h0M278.6 257.7h0M65.3 270.3h0M181.7 69.5h0M68.4 122.9h0M69.0 126.6h0M298.3 197.0h0M186.9 223.9h0M144.6 99.3h0M226.5 244.1h0M135.4 78.9h0M249.2 249.0h0M223.1 151.5h0M116.6 69.1h0M296.1 234.1h0M283.0 44.2h0M206.7 256.2h0M38.5 104.8h0M260.6 56.2h0M284.7 101.5h0M173.7 62.7h0M298.8 43.0h0M286.1 282.0h0M154.2 82.6h0M208.3 294.1h0M157.3 311.8h0M315.5 249.6h0M129.5 196.1h0M8.8 289.5h0M218.3 93.0h0M165.0 64.9h0M48.5 87.7h0M271.9 173.9h0M9.0 40.0h0M262.2 211.7h0M44.8 221.1h0" stroke="#e8b0c8" stroke-width="3.0" stroke-linecap="round" fill="none"/>
<circle cx="60" cy="230" r="45" fill="#b04878" opacity="0.5" filter="url(#soft)"/>
<circle cx="130" cy="290" r="40" fill="#b04878" opacity="0.5" filter="url(#soft)"/>
<circle cx="260" cy="300" r="35" fill="#b04a78" opacity="0.5" filter="url(#soft)"/>
<circle cx="240" cy="190" r="35" fill="#d890a8" opacity="0.5" filter="url(#soft)"/>
<path d="M37.0,-12.0C58.8,-25.7 148.5,-20.3 164.0,-12.0C179.5,-3.7 140.7,26.5 130.0,38.0C119.3,49.5 110.8,49.2 100.0,57.0C89.2,64.8 76.7,75.3 65.0,85.0C53.3,94.7 42.8,107.8 30.0,115.0C17.2,122.2 -5.0,143.0 -12.0,128.0C-19.0,113.0 -14.3,40.5 -12.0,25.0C-9.7,9.5 -2.5,28.8 2.0,35.0C6.5,41.2 10.7,54.0 15.0,62.0C19.3,70.0 25.0,81.7 28.0,83.0C31.0,84.3 31.5,85.8 33.0,70.0C34.5,54.2 15.2,1.7 37.0,-12.0Z" fill="#b24a7c"/>
<path d="M131.1 14.4h0M144.5 54.3h0M94.1 28.1h0M41.4 81.9h0M32.0 53.5h0M144.5 103.0h0M130.9 82.7h0M82.4 76.4h0M19.2 33.3h0M11.5 34.5h0M119.9 54.6h0M49.7 1.5h0M90.1 95.5h0M145.6 95.5h0M84.9 13.3h0M20.9 25.7h0M19.4 96.4h0M62.6 34.7h0M49.2 82.5h0M97.3 9.7h0M19.4 111.6h0M111.0 116.9h0M98.1 62.6h0M142.5 43.9h0M9.3 93.2h0M15.7 84.8h0M17.8 77.0h0M98.4 29.4h0M47.5 1.8h0M50.4 49.4h0M98.6 0.1h0M11.1 99.6h0M38.0 31.1h0M98.5 89.0h0M78.8 48.3h0M37.4 62.9h0M133.9 63.8h0M126.6 73.1h0M8.0 10.5h0M95.7 10.3h0M21.4 22.9h0M112.8 113.6h0M44.1 69.9h0M24.3 26.6h0M11.2 18.9h0M9.3 26.4h0M127.4 86.0h0M118.0 89.1h0M84.7 29.7h0M149.6 116.0h0M77.4 62.9h0M127.9 35.7h0M94.9 103.5h0M65.7 44.9h0M82.2 18.7h0M136.1 16.1h0M39.5 109.3h0M149.0 105.2h0M142.7 110.4h0M110.1 115.7h0M42.3 116.2h0M41.9 67.6h0M147.3 60.5h0M108.7 112.1h0M0.3 119.7h0M124.0 59.3h0M86.7 82.9h0M19.0 41.3h0M1.9 90.6h0" stroke="#8a2c60" stroke-width="4.0" stroke-linecap="round" fill="none"/>
<path d="M2.6 20.1h0M0.7 23.1h0M147.8 115.1h0M114.4 4.6h0M145.4 111.9h0M50.8 106.7h0M30.7 69.9h0M143.5 10.5h0M71.5 65.5h0M102.3 27.4h0M81.8 69.2h0M102.9 70.6h0M57.6 56.5h0M21.5 23.6h0M42.2 57.7h0M148.0 105.5h0M118.3 22.7h0M10.2 42.2h0M41.5 34.8h0M27.5 107.7h0M55.3 82.1h0M0.1 83.5h0M51.0 92.6h0M65.6 28.3h0M80.4 1.8h0M40.6 61.0h0M29.7 100.1h0M68.4 72.1h0M64.5 118.4h0M123.6 79.1h0M79.5 67.2h0M17.6 80.6h0M82.5 51.9h0M85.1 67.8h0M93.6 58.7h0M6.8 17.4h0M124.1 80.1h0M96.4 21.2h0M80.6 62.6h0M75.4 35.6h0M116.2 69.8h0M148.6 91.9h0M7.4 79.9h0M42.6 99.0h0M52.9 14.3h0M77.9 64.9h0M127.8 36.7h0M121.4 119.1h0M118.1 50.2h0M112.1 114.4h0M23.7 8.1h0M30.0 25.5h0M9.3 80.7h0M132.6 64.4h0M101.3 47.5h0M37.1 100.3h0M109.2 22.2h0M141.0 84.9h0M17.6 65.9h0M91.8 65.6h0M147.7 89.5h0M101.7 8.0h0M81.6 34.3h0M4.1 85.3h0M50.0 98.5h0M34.2 10.3h0M123.5 116.8h0M130.8 82.3h0M22.6 42.6h0M63.8 64.6h0M32.9 4.7h0M5.1 113.3h0M130.4 65.5h0M111.3 56.2h0M120.7 33.5h0M53.0 42.2h0M2.3 72.5h0M113.3 19.3h0M92.0 107.4h0M113.4 29.5h0M44.5 86.5h0M133.8 10.5h0M126.4 54.1h0M50.0 50.9h0M110.4 110.0h0" stroke="#8a2c60" stroke-width="5.0" stroke-linecap="round" fill="none"/>
<path d="M140.1 91.3h0M74.6 107.2h0M108.0 17.2h0M138.4 14.7h0M117.5 50.9h0M137.6 34.4h0" stroke="#8a2c60" stroke-width="6.0" stroke-linecap="round" fill="none"/>
<path d="M-12.0,-12.0C-3.8,-18.2 29.2,-20.7 37.0,-12.0C44.8,-3.3 35.7,26.3 35.0,40.0C34.3,53.7 34.2,62.8 33.0,70.0C31.8,77.2 31.0,84.3 28.0,83.0C25.0,81.7 19.3,70.0 15.0,62.0C10.7,54.0 6.5,41.2 2.0,35.0C-2.5,28.8 -9.7,32.8 -12.0,25.0C-14.3,17.2 -20.2,-5.8 -12.0,-12.0Z" fill="#f4f4fa"/>
<path d="M164.0,-12.0C177.7,-20.3 209.7,-22.0 212.0,-12.0C214.3,-2.0 186.7,35.2 178.0,48.0C169.3,60.8 166.3,59.7 160.0,65.0C153.7,70.3 146.7,74.2 140.0,80.0C133.3,85.8 126.7,94.2 120.0,100.0C113.3,105.8 106.7,110.0 100.0,115.0C93.3,120.0 86.7,125.0 80.0,130.0C73.3,135.0 66.7,140.0 60.0,145.0C53.3,150.0 52.0,154.5 40.0,160.0C28.0,165.5 -3.3,183.3 -12.0,178.0C-20.7,172.7 -19.0,138.5 -12.0,128.0C-5.0,117.5 17.2,122.2 30.0,115.0C42.8,107.8 53.3,94.7 65.0,85.0C76.7,75.3 89.2,64.8 100.0,57.0C110.8,49.2 119.3,49.5 130.0,38.0C140.7,26.5 150.3,-3.7 164.0,-12.0Z" fill="#f4f4fa"/>
<path d="M287.0,-12.0C293.3,-24.0 329.5,-39.0 338.0,-12.0C346.5,15.0 341.0,128.8 338.0,150.0C335.0,171.2 326.3,130.0 320.0,115.0C313.7,100.0 305.5,81.2 300.0,60.0C294.5,38.8 280.7,0.0 287.0,-12.0Z" fill="#f4f4fa"/>
<path d="M50.0,338.0C46.3,330.8 52.2,304.7 58.0,295.0C63.8,285.3 78.8,279.2 85.0,280.0C91.2,280.8 95.8,290.3 95.0,300.0C94.2,309.7 87.5,331.7 80.0,338.0C72.5,344.3 53.7,345.2 50.0,338.0Z" fill="#f2eef2"/>
<path d="M140.0,338.0C135.0,332.5 144.2,309.7 150.0,305.0C155.8,300.3 170.0,304.5 175.0,310.0C180.0,315.5 185.8,333.3 180.0,338.0C174.2,342.7 145.0,343.5 140.0,338.0Z" fill="#f4f4fa"/>
<path d="M258.0,35.0C258.7,42.5 260.3,65.8 262.0,80.0C263.7,94.2 268.0,108.3 268.0,120.0C268.0,131.7 263.0,145.0 262.0,150.0" fill="none" stroke="#f6f2f6" stroke-width="6" stroke-linecap="round"/>
<path d="M205.0,135.0C209.2,136.7 221.7,144.2 230.0,145.0C238.3,145.8 250.8,140.8 255.0,140.0" fill="none" stroke="#f6f2f6" stroke-width="7" stroke-linecap="round"/>
<path d="M228.0,205.0C230.0,210.0 237.2,225.8 240.0,235.0C242.8,244.2 241.7,253.3 245.0,260.0C248.3,266.7 257.5,272.5 260.0,275.0" fill="none" stroke="#f6f2f6" stroke-width="6" stroke-linecap="round"/>
<path d="M285.0,245.0C287.5,249.2 297.5,259.2 300.0,270.0C302.5,280.8 300.0,303.3 300.0,310.0" fill="none" stroke="#f6f2f6" stroke-width="7" stroke-linecap="round"/>
<path d="M140.0,170.0C139.2,174.2 136.7,187.5 135.0,195.0C133.3,202.5 130.8,211.7 130.0,215.0" fill="none" stroke="#f6f2f6" stroke-width="5" stroke-linecap="round"/>
<path d="M22.2 292.4h0M25.4 308.9h0M29.7 308.5h0M19.5 312.6h0M21.4 314.4h0M11.6 287.1h0M16.9 307.0h0" stroke="#202020" stroke-width="5.0" stroke-linecap="round" fill="none"/>
<path d="M25.2 315.8h0M25.0 287.4h0M23.9 319.3h0" stroke="#202020" stroke-width="6.0" stroke-linecap="round" fill="none"/>
<path d="M27.0 291.7h0M29.3 315.2h0" stroke="#202020" stroke-width="4.0" stroke-linecap="round" fill="none"/>
</g></g></g>
<filter id="mf0" filterUnits="userSpaceOnUse" x="55.8" y="437.3" width="322.7" height="323.0" color-interpolation-filters="sRGB"><feGaussianBlur in="SourceGraphic" stdDeviation="2.5" result="d"/><feComponentTransfer in="d" result="m"><feFuncR type="linear" slope="30" intercept="-0.4"/><feFuncG type="linear" slope="30" intercept="-0.4"/><feFuncB type="linear" slope="30" intercept="-0.4"/></feComponentTransfer><feTurbulence type="fractalNoise" baseFrequency="0.07" numOctaves="1" seed="103" result="L"/><feColorMatrix in="L" type="matrix" values="3 0 0 0 -1 3 0 0 0 -1 3 0 0 0 -1 0 0 0 0 1" result="L1"/><feComposite in="d" in2="L1" operator="arithmetic" k1="0.8" k2="0.4" k3="0" k4="0" result="dl"/><feTurbulence type="fractalNoise" baseFrequency="0.32" numOctaves="2" seed="3" result="n"/><feColorMatrix in="n" type="matrix" values="1 0 0 0 0 1 0 0 0 0 1 0 0 0 0 0 0 0 0 1" result="n2"/><feComposite in="dl" in2="n2" operator="arithmetic" k1="0" k2="2.4" k3="3.6" k4="-2.45" result="t"/><feComposite in="t" in2="m" operator="arithmetic" k1="1" k2="0" k3="0" k4="0" result="s"/><feComponentTransfer in="s"><feFuncR type="table" tableValues="0 0.05 0.45 0.8 0.95 1 1 1 1"/><feFuncG type="table" tableValues="0 0 0 0 0.2 0.5 0.8 0.97 1"/><feFuncB type="table" tableValues="0 0.3 0.85 0.55 0.1 0 0.05 0.4 1"/><feFuncA type="linear" slope="0" intercept="1"/></feComponentTransfer></filter>
<g filter="url(#mf0)">
<rect x="55.8" y="437.3" width="322.7" height="323.0" fill="#000"/>
<g transform="translate(55.8,437.3)">
<path d="M148.0,30.0C157.2,29.7 170.5,33.5 180.0,36.0C189.5,38.5 198.7,39.7 205.0,45.0C211.3,50.3 213.0,58.8 218.0,68.0C223.0,77.2 230.3,90.5 235.0,100.0C239.7,109.5 243.2,115.0 246.0,125.0C248.8,135.0 251.0,150.5 252.0,160.0C253.0,169.5 252.8,173.7 252.0,182.0C251.2,190.3 248.8,202.5 247.0,210.0C245.2,217.5 242.0,220.3 241.0,227.0C240.0,233.7 247.8,244.8 241.0,250.0C234.2,255.2 213.7,255.7 200.0,258.0C186.3,260.3 171.5,258.5 159.0,264.0C146.5,269.5 133.3,287.2 125.0,291.0C116.7,294.8 114.8,291.3 109.0,287.0C103.2,282.7 95.7,273.0 90.0,265.0C84.3,257.0 80.0,247.3 75.0,239.0C70.0,230.7 63.8,222.7 60.0,215.0C56.2,207.3 52.8,202.3 52.0,193.0C51.2,183.7 54.0,169.5 55.0,159.0C56.0,148.5 57.0,138.3 58.0,130.0C59.0,121.7 58.2,116.5 61.0,109.0C63.8,101.5 70.0,91.8 75.0,85.0C80.0,78.2 85.3,73.8 91.0,68.0C96.7,62.2 103.3,55.0 109.0,50.0C114.7,45.0 118.5,41.3 125.0,38.0C131.5,34.7 138.8,30.3 148.0,30.0Z" fill="#242424" stroke="#6b6b6b" stroke-width="18" stroke-linejoin="round"/>
<ellipse cx="148" cy="102" rx="38" ry="25" fill="#141414"/>
<ellipse cx="170" cy="212" rx="38" ry="28" fill="#141414"/>
<ellipse cx="110" cy="135" rx="12" ry="12" fill="#141414"/>
<path d="M100.0,55.0C104.2,53.2 116.3,46.8 125.0,44.0C133.7,41.2 147.5,39.0 152.0,38.0" fill="none" stroke="#ffffff" stroke-width="14" stroke-linecap="round" stroke-linejoin="round"/>
<path d="M80.0,75.0C82.5,72.8 92.5,64.2 95.0,62.0" fill="none" stroke="#e5e5e5" stroke-width="12" stroke-linecap="round" stroke-linejoin="round"/>
<path d="M62.0,110.0C63.3,112.5 68.7,122.5 70.0,125.0" fill="none" stroke="#e5e5e5" stroke-width="12" stroke-linecap="round" stroke-linejoin="round"/>
<path d="M58.0,178.0C59.0,183.0 60.3,198.0 64.0,208.0C67.7,218.0 73.7,229.0 80.0,238.0C86.3,247.0 98.3,258.0 102.0,262.0" fill="none" stroke="#ffffff" stroke-width="15" stroke-linecap="round" stroke-linejoin="round"/>
<path d="M112.0,282.0C115.8,282.7 127.7,287.0 135.0,286.0C142.3,285.0 152.5,277.7 156.0,276.0" fill="none" stroke="#ffffff" stroke-width="15" stroke-linecap="round" stroke-linejoin="round"/>
<path d="M160.0,258.0C166.7,257.0 187.0,254.3 200.0,252.0C213.0,249.7 231.7,245.3 238.0,244.0" fill="none" stroke="#ffffff" stroke-width="15" stroke-linecap="round" stroke-linejoin="round"/>
<path d="M196.0,76.0C198.7,80.0 206.7,91.7 212.0,100.0C217.3,108.3 222.7,117.7 228.0,126.0C233.3,134.3 241.3,146.0 244.0,150.0" fill="none" stroke="#cccccc" stroke-width="10" stroke-linecap="round" stroke-linejoin="round"/>
<circle cx="125" cy="55" r="14" fill="#ffffff"/>
<circle cx="150" cy="42" r="12" fill="#e5e5e5"/>
<circle cx="183" cy="58" r="10" fill="#cccccc"/>
<circle cx="198" cy="82" r="14" fill="#ffffff"/>
<circle cx="215" cy="110" r="10" fill="#cccccc"/>
<circle cx="232" cy="130" r="9" fill="#b2b2b2"/>
<circle cx="240" cy="148" r="8" fill="#b2b2b2"/>
<circle cx="72" cy="115" r="10" fill="#d8d8d8"/>
<circle cx="62" cy="190" r="12" fill="#ffffff"/>
<circle cx="72" cy="218" r="12" fill="#ffffff"/>
<circle cx="85" cy="245" r="10" fill="#e5e5e5"/>
<circle cx="125" cy="282" r="14" fill="#ffffff"/>
<circle cx="140" cy="270" r="10" fill="#e5e5e5"/>
<circle cx="175" cy="258" r="12" fill="#ffffff"/>
<circle cx="205" cy="252" r="12" fill="#ffffff"/>
<circle cx="228" cy="245" r="12" fill="#ffffff"/>
<circle cx="220" cy="225" r="10" fill="#e5e5e5"/>
<circle cx="112" cy="168" r="9" fill="#b2b2b2"/>
<circle cx="130" cy="222" r="8" fill="#999999"/>
<circle cx="185" cy="160" r="8" fill="#999999"/>
<circle cx="165" cy="130" r="6" fill="#7f7f7f"/>
</g></g>
<rect x="331" y="440.1" width="42.7" height="70.9" fill="#fff"/>
<rect x="360.1" y="442.1" width="12.4" height="65.6" fill="url(#cbar)"/>
<text x="354.6" y="462.7" font-size="20" text-anchor="end">10</text>
<text x="354.6" y="504.5" font-size="20" text-anchor="end">0</text>
<rect x="286.6" y="728.5" width="74.5" height="6.8" fill="#fff"/>
<filter id="mf1" filterUnits="userSpaceOnUse" x="400.2" y="439.8" width="323.1" height="322.6" color-interpolation-filters="sRGB"><feGaussianBlur in="SourceGraphic" stdDeviation="2.5" result="d"/><feComponentTransfer in="d" result="m"><feFuncR type="linear" slope="30" intercept="-0.4"/><feFuncG type="linear" slope="30" intercept="-0.4"/><feFuncB type="linear" slope="30" intercept="-0.4"/></feComponentTransfer><feTurbulence type="fractalNoise" baseFrequency="0.07" numOctaves="1" seed="107" result="L"/><feColorMatrix in="L" type="matrix" values="3 0 0 0 -1 3 0 0 0 -1 3 0 0 0 -1 0 0 0 0 1" result="L1"/><feComposite in="d" in2="L1" operator="arithmetic" k1="1.3" k2="0.1" k3="0" k4="0" result="dl"/><feTurbulence type="fractalNoise" baseFrequency="0.32" numOctaves="2" seed="7" result="n"/><feColorMatrix in="n" type="matrix" values="1 0 0 0 0 1 0 0 0 0 1 0 0 0 0 0 0 0 0 1" result="n2"/><feComposite in="dl" in2="n2" operator="arithmetic" k1="0" k2="2.2" k3="4.2" k4="-2.85" result="t"/><feComposite in="t" in2="m" operator="arithmetic" k1="1" k2="0" k3="0" k4="0" result="s"/><feComponentTransfer in="s"><feFuncR type="table" tableValues="0 0.05 0.45 0.8 0.95 1 1 1 1"/><feFuncG type="table" tableValues="0 0 0 0 0.2 0.5 0.8 0.97 1"/><feFuncB type="table" tableValues="0 0.3 0.85 0.55 0.1 0 0.05 0.4 1"/><feFuncA type="linear" slope="0" intercept="1"/></feComponentTransfer></filter>
<g filter="url(#mf1)">
<rect x="400.2" y="439.8" width="323.1" height="322.6" fill="#000"/>
<g transform="translate(400.2,439.8)">
<path d="M121.0,7.0C129.3,9.7 140.8,20.5 148.0,30.0C155.2,39.5 155.7,52.3 164.0,64.0C172.3,75.7 192.0,88.0 198.0,100.0C204.0,112.0 195.2,126.2 200.0,136.0C204.8,145.8 218.3,147.5 227.0,159.0C235.7,170.5 245.8,189.8 252.0,205.0C258.2,220.2 262.3,234.8 264.0,250.0C265.7,265.2 265.0,285.0 262.0,296.0C259.0,307.0 255.5,314.2 246.0,316.0C236.5,317.8 217.2,312.3 205.0,307.0C192.8,301.7 182.2,292.7 173.0,284.0C163.8,275.3 158.3,268.2 150.0,255.0C141.7,241.8 131.0,221.0 123.0,205.0C115.0,189.0 108.8,173.5 102.0,159.0C95.2,144.5 87.2,132.0 82.0,118.0C76.8,104.0 71.3,89.0 71.0,75.0C70.7,61.0 75.5,44.2 80.0,34.0C84.5,23.8 91.2,18.5 98.0,14.0C104.8,9.5 112.7,4.3 121.0,7.0Z" fill="#383838" stroke="#6b6b6b" stroke-width="12" stroke-linejoin="round"/>
<ellipse cx="130" cy="140" rx="14" ry="14" fill="#141414"/>
<ellipse cx="210" cy="225" rx="18" ry="20" fill="#141414"/>
<ellipse cx="200" cy="160" rx="10" ry="10" fill="#141414"/>
<circle cx="91" cy="86" r="10" fill="#f2f2f2"/>
<circle cx="182" cy="100" r="14" fill="#ffffff"/>
<circle cx="157" cy="187" r="12" fill="#ffffff"/>
<circle cx="164" cy="262" r="14" fill="#ffffff"/>
<circle cx="155" cy="64" r="8" fill="#cccccc"/>
<circle cx="146" cy="41" r="8" fill="#cccccc"/>
<circle cx="252" cy="246" r="9" fill="#e5e5e5"/>
<circle cx="114" cy="175" r="8" fill="#cccccc"/>
<circle cx="198" cy="296" r="10" fill="#e5e5e5"/>
<circle cx="80" cy="70" r="7" fill="#b2b2b2"/>
<circle cx="110" cy="20" r="8" fill="#b2b2b2"/>
</g></g>
<rect x="675.9" y="442.4" width="42.1" height="71.4" fill="#fff"/>
<rect x="704.4" y="444.4" width="12.4" height="66.1" fill="url(#cbar)"/>
<text x="698.9" y="465.0" font-size="20" text-anchor="end">10</text>
<text x="698.9" y="506.8" font-size="20" text-anchor="end">0</text>
<rect x="424.7" y="731.6" width="74.5" height="7.3" fill="#fff"/>
<filter id="mf2" filterUnits="userSpaceOnUse" x="42.2" y="1215" width="323.1" height="322.6" color-interpolation-filters="sRGB"><feGaussianBlur in="SourceGraphic" stdDeviation="2.5" result="d"/><feComponentTransfer in="d" result="m"><feFuncR type="linear" slope="30" intercept="-0.4"/><feFuncG type="linear" slope="30" intercept="-0.4"/><feFuncB type="linear" slope="30" intercept="-0.4"/></feComponentTransfer><feTurbulence type="fractalNoise" baseFrequency="0.07" numOctaves="1" seed="111" result="L"/><feColorMatrix in="L" type="matrix" values="3 0 0 0 -1 3 0 0 0 -1 3 0 0 0 -1 0 0 0 0 1" result="L1"/><feComposite in="d" in2="L1" operator="arithmetic" k1="1.3" k2="0.1" k3="0" k4="0" result="dl"/><feTurbulence type="fractalNoise" baseFrequency="0.32" numOctaves="2" seed="11" result="n"/><feColorMatrix in="n" type="matrix" values="1 0 0 0 0 1 0 0 0 0 1 0 0 0 0 0 0 0 0 1" result="n2"/><feComposite in="dl" in2="n2" operator="arithmetic" k1="0" k2="2.3" k3="3.6" k4="-2.45" result="t"/><feComposite in="t" in2="m" operator="arithmetic" k1="1" k2="0" k3="0" k4="0" result="s"/><feComponentTransfer in="s"><feFuncR type="table" tableValues="0 0.05 0.45 0.8 0.95 1 1 1 1"/><feFuncG type="table" tableValues="0 0 0 0 0.2 0.5 0.8 0.97 1"/><feFuncB type="table" tableValues="0 0.3 0.85 0.55 0.1 0 0.05 0.4 1"/><feFuncA type="linear" slope="0" intercept="1"/></feComponentTransfer></filter>
<g filter="url(#mf2)">
<rect x="42.2" y="1215" width="323.1" height="322.6" fill="#000"/>
<g transform="translate(42.2,1215)">
<path d="M34.0,39.0C39.2,34.8 51.5,31.7 61.0,32.0C70.5,32.3 80.3,38.8 91.0,41.0C101.7,43.2 115.5,41.2 125.0,45.0C134.5,48.8 142.3,57.2 148.0,64.0C153.7,70.8 149.5,79.7 159.0,86.0C168.5,92.3 191.7,96.7 205.0,102.0C218.3,107.3 227.7,110.3 239.0,118.0C250.3,125.7 265.0,138.8 273.0,148.0C281.0,157.2 281.7,163.5 287.0,173.0C292.3,182.5 301.3,194.8 305.0,205.0C308.7,215.2 311.3,226.2 309.0,234.0C306.7,241.8 304.7,247.8 291.0,252.0C277.3,256.2 242.2,259.0 227.0,259.0C211.8,259.0 211.3,255.3 200.0,252.0C188.7,248.7 171.5,243.2 159.0,239.0C146.5,234.8 140.2,230.8 125.0,227.0C109.8,223.2 81.3,220.5 68.0,216.0C54.7,211.5 51.8,207.2 45.0,200.0C38.2,192.8 30.7,183.7 27.0,173.0C23.3,162.3 25.2,146.7 23.0,136.0C20.8,125.3 13.3,117.3 14.0,109.0C14.7,100.7 24.3,94.7 27.0,86.0C29.7,77.3 28.8,64.8 30.0,57.0C31.2,49.2 28.8,43.2 34.0,39.0Z" fill="#262626" stroke="#979797" stroke-width="16" stroke-linejoin="round"/>
<ellipse cx="100" cy="130" rx="40" ry="30" fill="#141414"/>
<ellipse cx="150" cy="200" rx="18" ry="14" fill="#141414"/>
<ellipse cx="235" cy="200" rx="14" ry="14" fill="#141414"/>
<circle cx="45" cy="50" r="12" fill="#ffffff"/>
<circle cx="65" cy="40" r="10" fill="#e5e5e5"/>
<circle cx="90" cy="48" r="9" fill="#cccccc"/>
<circle cx="130" cy="58" r="9" fill="#cccccc"/>
<circle cx="172" cy="95" r="10" fill="#ffffff"/>
<circle cx="195" cy="105" r="8" fill="#e5e5e5"/>
<circle cx="25" cy="125" r="12" fill="#ffffff"/>
<circle cx="40" cy="190" r="12" fill="#ffffff"/>
<circle cx="60" cy="210" r="9" fill="#e5e5e5"/>
<circle cx="185" cy="243" r="12" fill="#ffffff"/>
<circle cx="210" cy="247" r="9" fill="#cccccc"/>
<circle cx="268" cy="158" r="10" fill="#ffffff"/>
<circle cx="216" cy="205" r="12" fill="#ffffff"/>
<circle cx="168" cy="182" r="8" fill="#cccccc"/>
<circle cx="148" cy="150" r="6" fill="#b2b2b2"/>
<circle cx="295" cy="215" r="8" fill="#cccccc"/>
<circle cx="60" cy="95" r="7" fill="#999999"/>
</g></g>
<rect x="318.4" y="1217.6" width="42.2" height="70.4" fill="#fff"/>
<rect x="347.0" y="1219.6" width="12.4" height="65.1" fill="url(#cbar)"/>
<text x="341.5" y="1240.2" font-size="20" text-anchor="end">10</text>
<text x="341.5" y="1282.0" font-size="20" text-anchor="end">0</text>
<rect x="269.4" y="1501.6" width="74.5" height="7.3" fill="#fff"/>
<filter id="mf3" filterUnits="userSpaceOnUse" x="383" y="1219.2" width="323.6" height="322.5" color-interpolation-filters="sRGB"><feGaussianBlur in="SourceGraphic" stdDeviation="2.5" result="d"/><feComponentTransfer in="d" result="m"><feFuncR type="linear" slope="30" intercept="-0.4"/><feFuncG type="linear" slope="30" intercept="-0.4"/><feFuncB type="linear" slope="30" intercept="-0.4"/></feComponentTransfer><feTurbulence type="fractalNoise" baseFrequency="0.07" numOctaves="1" seed="119" result="L"/><feColorMatrix in="L" type="matrix" values="3 0 0 0 -1 3 0 0 0 -1 3 0 0 0 -1 0 0 0 0 1" result="L1"/><feComposite in="d" in2="L1" operator="arithmetic" k1="1.3" k2="0.1" k3="0" k4="0" result="dl"/><feTurbulence type="fractalNoise" baseFrequency="0.32" numOctaves="2" seed="19" result="n"/><feColorMatrix in="n" type="matrix" values="1 0 0 0 0 1 0 0 0 0 1 0 0 0 0 0 0 0 0 1" result="n2"/><feComposite in="dl" in2="n2" operator="arithmetic" k1="0" k2="2.2" k3="4.2" k4="-2.85" result="t"/><feComposite in="t" in2="m" operator="arithmetic" k1="1" k2="0" k3="0" k4="0" result="s"/><feComponentTransfer in="s"><feFuncR type="table" tableValues="0 0.05 0.45 0.8 0.95 1 1 1 1"/><feFuncG type="table" tableValues="0 0 0 0 0.2 0.5 0.8 0.97 1"/><feFuncB type="table" tableValues="0 0.3 0.85 0.55 0.1 0 0.05 0.4 1"/><feFuncA type="linear" slope="0" intercept="1"/></feComponentTransfer></filter>
<g filter="url(#mf3)">
<rect x="383" y="1219.2" width="323.6" height="322.5" fill="#000"/>
<g transform="translate(383,1219.2)">
<path d="M114.0,11.0C122.3,13.3 136.7,23.2 148.0,30.0C159.3,36.8 175.2,42.7 182.0,52.0C188.8,61.3 183.3,77.7 189.0,86.0C194.7,94.3 209.7,95.5 216.0,102.0C222.3,108.5 225.2,115.5 227.0,125.0C228.8,134.5 223.2,149.5 227.0,159.0C230.8,168.5 243.8,172.5 250.0,182.0C256.2,191.5 260.2,203.8 264.0,216.0C267.8,228.2 273.0,243.7 273.0,255.0C273.0,266.3 271.7,277.2 264.0,284.0C256.3,290.8 237.7,295.2 227.0,296.0C216.3,296.8 208.3,294.7 200.0,289.0C191.7,283.3 187.7,272.3 177.0,262.0C166.3,251.7 148.5,237.3 136.0,227.0C123.5,216.7 110.7,211.3 102.0,200.0C93.3,188.7 89.7,169.7 84.0,159.0C78.3,148.3 72.2,143.5 68.0,136.0C63.8,128.5 62.8,125.3 59.0,114.0C55.2,102.7 47.3,78.7 45.0,68.0C42.7,57.3 40.3,56.3 45.0,50.0C49.7,43.7 64.2,35.7 73.0,30.0C81.8,24.3 91.2,19.2 98.0,16.0C104.8,12.8 105.7,8.7 114.0,11.0Z" fill="#383838" stroke="#6b6b6b" stroke-width="12" stroke-linejoin="round"/>
<ellipse cx="150" cy="160" rx="16" ry="22" fill="#141414"/>
<ellipse cx="215" cy="210" rx="16" ry="16" fill="#141414"/>
<ellipse cx="100" cy="110" rx="10" ry="12" fill="#141414"/>
<circle cx="180" cy="191" r="10" fill="#ffffff"/>
<circle cx="114" cy="18" r="8" fill="#e5e5e5"/>
<circle cx="218" cy="287" r="10" fill="#ffffff"/>
<circle cx="257" cy="273" r="8" fill="#e5e5e5"/>
<circle cx="121" cy="116" r="8" fill="#cccccc"/>
<circle cx="136" cy="80" r="6" fill="#b2b2b2"/>
<circle cx="250" cy="227" r="7" fill="#cccccc"/>
<circle cx="58" cy="80" r="7" fill="#b2b2b2"/>
<circle cx="100" cy="185" r="7" fill="#b2b2b2"/>
</g></g>
<rect x="658.2" y="1222.3" width="42.7" height="70.4" fill="#fff"/>
<rect x="687.3" y="1224.3" width="12.4" height="65.1" fill="url(#cbar)"/>
<text x="681.8" y="1244.9" font-size="20" text-anchor="end">10</text>
<text x="681.8" y="1286.7" font-size="20" text-anchor="end">0</text>
<rect x="411.7" y="1500.6" width="75.0" height="7.3" fill="#fff"/>
<filter id="mf4" filterUnits="userSpaceOnUse" x="42.2" y="1980" width="322.6" height="323.0" color-interpolation-filters="sRGB"><feGaussianBlur in="SourceGraphic" stdDeviation="2.5" result="d"/><feComponentTransfer in="d" result="m"><feFuncR type="linear" slope="30" intercept="-0.4"/><feFuncG type="linear" slope="30" intercept="-0.4"/><feFuncB type="linear" slope="30" intercept="-0.4"/></feComponentTransfer><feTurbulence type="fractalNoise" baseFrequency="0.07" numOctaves="1" seed="123" result="L"/><feColorMatrix in="L" type="matrix" values="3 0 0 0 -1 3 0 0 0 -1 3 0 0 0 -1 0 0 0 0 1" result="L1"/><feComposite in="d" in2="L1" operator="arithmetic" k1="0.5" k2="0.6" k3="0" k4="0" result="dl"/><feTurbulence type="fractalNoise" baseFrequency="0.32" numOctaves="2" seed="23" result="n"/><feColorMatrix in="n" type="matrix" values="1 0 0 0 0 1 0 0 0 0 1 0 0 0 0 0 0 0 0 1" result="n2"/><feComposite in="dl" in2="n2" operator="arithmetic" k1="0" k2="2.2" k3="3.6" k4="-2.45" result="t"/><feComposite in="t" in2="m" operator="arithmetic" k1="1" k2="0" k3="0" k4="0" result="s"/><feComponentTransfer in="s"><feFuncR type="table" tableValues="0 0.05 0.45 0.8 0.95 1 1 1 1"/><feFuncG type="table" tableValues="0 0 0 0 0.2 0.5 0.8 0.97 1"/><feFuncB type="table" tableValues="0 0.3 0.85 0.55 0.1 0 0.05 0.4 1"/><feFuncA type="linear" slope="0" intercept="1"/></feComponentTransfer></filter>
<g filter="url(#mf4)">
<rect x="42.2" y="1980" width="322.6" height="323.0" fill="#000"/>
<g transform="translate(42.2,1980)">
<path d="M227.0,18.0C232.7,21.0 242.5,32.7 246.0,41.0C249.5,49.3 249.2,57.8 248.0,68.0C246.8,78.2 241.7,91.7 239.0,102.0C236.3,112.3 236.5,121.2 232.0,130.0C227.5,138.8 218.5,146.3 212.0,155.0C205.5,163.7 199.5,174.5 193.0,182.0C186.5,189.5 177.5,192.5 173.0,200.0C168.5,207.5 168.7,216.7 166.0,227.0C163.3,237.3 162.0,251.3 157.0,262.0C152.0,272.7 144.0,283.8 136.0,291.0C128.0,298.2 118.3,303.8 109.0,305.0C99.7,306.2 87.5,303.3 80.0,298.0C72.5,292.7 67.2,282.5 64.0,273.0C60.8,263.5 59.2,251.2 61.0,241.0C62.8,230.8 69.2,221.0 75.0,212.0C80.8,203.0 90.7,195.8 96.0,187.0C101.3,178.2 102.5,169.0 107.0,159.0C111.5,149.0 116.5,137.2 123.0,127.0C129.5,116.8 137.7,107.0 146.0,98.0C154.3,89.0 166.2,81.3 173.0,73.0C179.8,64.7 180.5,56.3 187.0,48.0C193.5,39.7 205.3,28.0 212.0,23.0C218.7,18.0 221.3,15.0 227.0,18.0Z" fill="#2d2d2d" stroke="#7c7c7c" stroke-width="10" stroke-linejoin="round"/>
<path d="M150.0,100.0C146.7,104.2 136.3,115.0 130.0,125.0C123.7,135.0 117.3,149.5 112.0,160.0C106.7,170.5 103.3,179.3 98.0,188.0C92.7,196.7 85.3,203.3 80.0,212.0C74.7,220.7 68.8,230.3 66.0,240.0C63.2,249.7 61.0,261.0 63.0,270.0C65.0,279.0 70.5,288.5 78.0,294.0C85.5,299.5 99.3,302.7 108.0,303.0C116.7,303.3 126.3,297.2 130.0,296.0" fill="none" stroke="#ffffff" stroke-width="9" stroke-linecap="round" stroke-linejoin="round"/>
<path d="M216.0,135.0C217.5,136.7 223.5,143.3 225.0,145.0" fill="none" stroke="#ffffff" stroke-width="8" stroke-linecap="round" stroke-linejoin="round"/>
<path d="M166.0,210.0C165.3,215.0 163.3,231.3 162.0,240.0C160.7,248.7 158.7,258.3 158.0,262.0" fill="none" stroke="#cccccc" stroke-width="7" stroke-linecap="round" stroke-linejoin="round"/>
<circle cx="128" cy="128" r="8" fill="#ffffff"/>
<circle cx="112" cy="160" r="9" fill="#ffffff"/>
<circle cx="100" cy="185" r="8" fill="#ffffff"/>
<circle cx="85" cy="205" r="8" fill="#ffffff"/>
<circle cx="70" cy="235" r="8" fill="#ffffff"/>
<circle cx="66" cy="262" r="8" fill="#ffffff"/>
<circle cx="80" cy="290" r="8" fill="#ffffff"/>
<circle cx="105" cy="300" r="9" fill="#ffffff"/>
<circle cx="130" cy="292" r="8" fill="#e5e5e5"/>
<circle cx="218" cy="140" r="8" fill="#ffffff"/>
<circle cx="160" cy="215" r="7" fill="#cccccc"/>
<circle cx="155" cy="250" r="8" fill="#cccccc"/>
<circle cx="225" cy="40" r="8" fill="#cccccc"/>
<circle cx="195" cy="50" r="8" fill="#cccccc"/>
<circle cx="237" cy="62" r="6" fill="#cccccc"/>
<circle cx="235" cy="90" r="6" fill="#b2b2b2"/>
<circle cx="140" cy="110" r="8" fill="#e5e5e5"/>
</g></g>
<rect x="318.4" y="1982.6" width="42.2" height="71.4" fill="#fff"/>
<rect x="347.0" y="1984.6" width="12.4" height="66.1" fill="url(#cbar)"/>
<text x="341.5" y="2005.2" font-size="20" text-anchor="end">10</text>
<text x="341.5" y="2047.0" font-size="20" text-anchor="end">0</text>
<rect x="254.8" y="2267.2" width="75.1" height="7.2" fill="#fff"/>
<filter id="mf5" filterUnits="userSpaceOnUse" x="391.9" y="1980" width="322.5" height="323.0" color-interpolation-filters="sRGB"><feGaussianBlur in="SourceGraphic" stdDeviation="2.5" result="d"/><feComponentTransfer in="d" result="m"><feFuncR type="linear" slope="30" intercept="-0.4"/><feFuncG type="linear" slope="30" intercept="-0.4"/><feFuncB type="linear" slope="30" intercept="-0.4"/></feComponentTransfer><feTurbulence type="fractalNoise" baseFrequency="0.07" numOctaves="1" seed="129" result="L"/><feColorMatrix in="L" type="matrix" values="3 0 0 0 -1 3 0 0 0 -1 3 0 0 0 -1 0 0 0 0 1" result="L1"/><feComposite in="d" in2="L1" operator="arithmetic" k1="1.3" k2="0.1" k3="0" k4="0" result="dl"/><feTurbulence type="fractalNoise" baseFrequency="0.32" numOctaves="2" seed="29" result="n"/><feColorMatrix in="n" type="matrix" values="1 0 0 0 0 1 0 0 0 0 1 0 0 0 0 0 0 0 0 1" result="n2"/><feComposite in="dl" in2="n2" operator="arithmetic" k1="0" k2="2.2" k3="4.0" k4="-2.8" result="t"/><feComposite in="t" in2="m" operator="arithmetic" k1="1" k2="0" k3="0" k4="0" result="s"/><feComponentTransfer in="s"><feFuncR type="table" tableValues="0 0.45 0.8 0.95 1 1 1"/><feFuncG type="table" tableValues="0 0 0.3 0.65 0.8 0.9 1"/><feFuncB type="table" tableValues="0 0.6 0.85 0.85 0.9 0.95 1"/><feFuncA type="linear" slope="0" intercept="1"/></feComponentTransfer></filter>
<g filter="url(#mf5)">
<rect x="391.9" y="1980" width="322.5" height="323.0" fill="#000"/>
<g transform="translate(391.9,1980)">
<path d="M68.0,30.0C77.5,28.2 90.7,26.7 102.0,30.0C113.3,33.3 124.5,43.7 136.0,50.0C147.5,56.3 160.7,63.8 171.0,68.0C181.3,72.2 192.3,69.3 198.0,75.0C203.7,80.7 201.7,93.3 205.0,102.0C208.3,110.7 212.3,117.5 218.0,127.0C223.7,136.5 232.8,148.0 239.0,159.0C245.2,170.0 249.3,183.5 255.0,193.0C260.7,202.5 265.5,207.2 273.0,216.0C280.5,224.8 294.3,236.5 300.0,246.0C305.7,255.5 307.7,266.7 307.0,273.0C306.3,279.3 303.2,279.5 296.0,284.0C288.8,288.5 273.5,300.7 264.0,300.0C254.5,299.3 248.2,284.8 239.0,280.0C229.8,275.2 219.3,276.7 209.0,271.0C198.7,265.3 189.2,253.7 177.0,246.0C164.8,238.3 147.3,233.0 136.0,225.0C124.7,217.0 119.2,205.2 109.0,198.0C98.8,190.8 83.3,188.5 75.0,182.0C66.7,175.5 64.7,166.7 59.0,159.0C53.3,151.3 47.0,143.5 41.0,136.0C35.0,128.5 28.0,120.7 23.0,114.0C18.0,107.3 11.0,102.5 11.0,96.0C11.0,89.5 19.5,82.7 23.0,75.0C26.5,67.3 28.3,55.7 32.0,50.0C35.7,44.3 39.0,44.3 45.0,41.0C51.0,37.7 58.5,31.8 68.0,30.0Z" fill="#0a0a0a" stroke="#6b6b6b" stroke-width="10" stroke-linejoin="round"/>
<ellipse cx="150" cy="140" rx="45" ry="35" fill="#141414"/>
<ellipse cx="205" cy="215" rx="25" ry="20" fill="#141414"/>
<ellipse cx="250" cy="250" rx="14" ry="12" fill="#141414"/>
<circle cx="50" cy="80" r="26" fill="#727272"/>
<circle cx="70" cy="140" r="24" fill="#727272"/>
<circle cx="85" cy="175" r="14" fill="#727272"/>
<circle cx="40" cy="110" r="14" fill="#7f7f7f"/>
<circle cx="235" cy="175" r="10" fill="#8c8c8c"/>
<circle cx="200" cy="262" r="10" fill="#999999"/>
<circle cx="290" cy="250" r="10" fill="#8c8c8c"/>
</g></g>
<rect x="668.6" y="1982.6" width="42.2" height="71.4" fill="#fff"/>
<rect x="697.2" y="1984.6" width="12.4" height="66.1" fill="url(#cbar)"/>
<text x="691.7" y="2005.2" font-size="20" text-anchor="end">10</text>
<text x="691.7" y="2047.0" font-size="20" text-anchor="end">0</text>
<rect x="417.4" y="2267.2" width="74.5" height="7.2" fill="#fff"/>
<g>
<line x1="995.1" y1="56.8" x2="995.1" y2="429.7" stroke="#e2e2e2" stroke-width="1.9"/>
<line x1="1115.6" y1="56.8" x2="1115.6" y2="429.7" stroke="#e2e2e2" stroke-width="1.9"/>
<line x1="1236.2" y1="56.8" x2="1236.2" y2="429.7" stroke="#e2e2e2" stroke-width="1.9"/>
<line x1="1356.7" y1="56.8" x2="1356.7" y2="429.7" stroke="#e2e2e2" stroke-width="1.9"/>
<line x1="874.5" y1="305.4" x2="1417.0" y2="305.4" stroke="#e2e2e2" stroke-width="1.9"/>
<line x1="874.5" y1="181.1" x2="1417.0" y2="181.1" stroke="#e2e2e2" stroke-width="1.9"/>
<polygon fill="#7f7fff" stroke="none" points="874.5,326.5 880.5,201.3 886.6,128.0 892.6,98.8 898.6,86.6 904.6,89.3 910.7,93.5 916.7,95.5 922.7,97.9 928.8,103.3 934.8,109.9 940.8,115.8 946.8,120.7 952.9,124.0 958.9,126.7 964.9,129.0 970.9,131.5 977.0,135.1 983.0,138.9 989.0,142.1 995.1,145.1 1001.1,147.5 1007.1,150.1 1013.1,153.8 1019.2,157.7 1025.2,160.8 1031.2,163.7 1037.2,166.5 1043.3,169.2 1049.3,171.8 1055.3,174.6 1061.4,177.5 1067.4,180.3 1073.4,183.2 1079.4,186.0 1085.5,188.9 1091.5,191.8 1097.5,194.7 1103.6,197.8 1109.6,200.7 1115.6,203.5 1121.6,206.0 1127.7,208.3 1133.7,210.6 1139.7,212.8 1145.8,215.0 1151.8,217.1 1157.8,219.2 1163.8,221.3 1169.9,223.5 1175.9,225.6 1181.9,227.9 1187.9,230.1 1194.0,232.4 1200.0,234.6 1206.0,236.9 1212.1,239.1 1218.1,241.3 1224.1,243.5 1230.1,245.6 1236.2,247.7 1242.2,249.8 1248.2,251.9 1254.2,254.0 1260.3,256.0 1266.3,258.0 1272.3,260.0 1278.4,261.9 1284.4,263.8 1290.4,265.6 1296.4,267.3 1302.5,268.9 1308.5,270.5 1314.5,272.1 1320.6,273.7 1326.6,275.2 1332.6,276.6 1338.6,278.0 1344.7,279.3 1350.7,280.6 1356.7,281.7 1362.8,282.9 1368.8,283.9 1374.8,285.0 1380.8,286.0 1386.9,287.0 1392.9,287.9 1398.9,288.8 1404.9,289.6 1411.0,290.4 1417.0,291.1 1417.0,312.2 1411.0,311.6 1404.9,311.0 1398.9,310.3 1392.9,309.6 1386.9,308.8 1380.8,307.9 1374.8,307.0 1368.8,306.1 1362.8,305.2 1356.7,304.2 1350.7,303.2 1344.7,302.1 1338.6,300.9 1332.6,299.7 1326.6,298.4 1320.6,297.1 1314.5,295.7 1308.5,294.3 1302.5,292.8 1296.4,291.3 1290.4,289.8 1284.4,288.2 1278.4,286.5 1272.3,284.7 1266.3,282.9 1260.3,281.1 1254.2,279.2 1248.2,277.4 1242.2,275.5 1236.2,273.6 1230.1,271.7 1224.1,269.7 1218.1,267.7 1212.1,265.7 1206.0,263.6 1200.0,261.6 1194.0,259.5 1187.9,257.5 1181.9,255.4 1175.9,253.4 1169.9,251.4 1163.8,249.5 1157.8,247.6 1151.8,245.7 1145.8,243.8 1139.7,241.8 1133.7,239.8 1127.7,237.8 1121.6,235.6 1115.6,233.3 1109.6,230.8 1103.6,228.1 1097.5,225.3 1091.5,222.6 1085.5,220.1 1079.4,217.5 1073.4,215.0 1067.4,212.5 1061.4,210.0 1055.3,207.5 1049.3,205.0 1043.3,202.6 1037.2,200.2 1031.2,197.7 1025.2,195.1 1019.2,192.1 1013.1,188.4 1007.1,184.8 1001.1,182.3 995.1,179.9 989.0,176.9 983.0,173.6 977.0,169.7 970.9,166.1 964.9,163.4 958.9,160.9 952.9,158.0 946.8,154.4 940.8,149.2 934.8,142.9 928.8,135.9 922.7,130.1 916.7,127.2 910.7,124.6 904.6,119.8 898.6,116.5 892.6,126.7 886.6,152.2 880.5,220.9 874.5,341.4"/>
<polygon fill="#7fff7f" stroke="none" points="874.5,330.3 880.5,220.6 886.6,167.9 892.6,162.9 898.6,161.2 904.6,176.4 910.7,198.6 916.7,210.7 922.7,221.1 928.8,231.7 934.8,241.3 940.8,249.8 946.8,256.5 952.9,260.8 958.9,264.3 964.9,267.8 970.9,270.8 977.0,273.1 983.0,275.1 989.0,276.9 995.1,278.7 1001.1,280.7 1007.1,282.7 1013.1,284.6 1019.2,286.3 1025.2,287.6 1031.2,288.8 1037.2,290.5 1043.3,292.5 1049.3,294.5 1055.3,296.4 1061.4,298.2 1067.4,299.9 1073.4,301.7 1079.4,303.4 1085.5,305.1 1091.5,306.7 1097.5,308.3 1103.6,309.9 1109.6,311.4 1115.6,312.9 1121.6,314.3 1127.7,315.6 1133.7,316.9 1139.7,318.2 1145.8,319.5 1151.8,320.7 1157.8,321.9 1163.8,323.1 1169.9,324.3 1175.9,325.5 1181.9,326.7 1187.9,327.9 1194.0,329.2 1200.0,330.4 1206.0,331.6 1212.1,332.7 1218.1,333.8 1224.1,334.9 1230.1,335.9 1236.2,336.9 1242.2,337.8 1248.2,338.6 1254.2,339.5 1260.3,340.3 1266.3,341.0 1272.3,341.8 1278.4,342.5 1284.4,343.2 1290.4,343.8 1296.4,344.5 1302.5,345.0 1308.5,345.6 1314.5,346.1 1320.6,346.6 1326.6,347.1 1332.6,347.6 1338.6,348.1 1344.7,348.5 1350.7,349.0 1356.7,349.5 1362.8,350.0 1368.8,350.5 1374.8,351.0 1380.8,351.5 1386.9,352.0 1392.9,352.5 1398.9,353.0 1404.9,353.5 1411.0,354.0 1417.0,354.5 1417.0,363.2 1411.0,362.7 1404.9,362.2 1398.9,361.7 1392.9,361.2 1386.9,360.7 1380.8,360.2 1374.8,359.7 1368.8,359.2 1362.8,358.7 1356.7,358.3 1350.7,357.8 1344.7,357.3 1338.6,356.8 1332.6,356.4 1326.6,355.9 1320.6,355.4 1314.5,355.0 1308.5,354.5 1302.5,353.9 1296.4,353.4 1290.4,352.8 1284.4,352.1 1278.4,351.5 1272.3,350.8 1266.3,350.1 1260.3,349.3 1254.2,348.5 1248.2,347.7 1242.2,346.9 1236.2,346.0 1230.1,345.1 1224.1,344.1 1218.1,343.1 1212.1,342.0 1206.0,340.9 1200.0,339.7 1194.0,338.5 1187.9,337.4 1181.9,336.2 1175.9,335.0 1169.9,333.9 1163.8,332.7 1157.8,331.5 1151.8,330.4 1145.8,329.2 1139.7,328.0 1133.7,326.7 1127.7,325.5 1121.6,324.2 1115.6,322.8 1109.6,321.4 1103.6,319.9 1097.5,318.4 1091.5,316.9 1085.5,315.3 1079.4,313.7 1073.4,312.0 1067.4,310.3 1061.4,308.6 1055.3,306.9 1049.3,305.1 1043.3,303.1 1037.2,301.2 1031.2,299.6 1025.2,298.4 1019.2,297.2 1013.1,295.6 1007.1,293.7 1001.1,291.8 995.1,289.9 989.0,288.2 983.0,286.5 977.0,284.8 970.9,282.8 964.9,280.1 958.9,276.9 952.9,273.7 946.8,269.7 940.8,263.3 934.8,255.1 928.8,245.8 922.7,235.5 916.7,225.3 910.7,213.3 904.6,191.3 898.6,176.1 892.6,177.6 886.6,181.9 880.5,233.9 874.5,342.7"/>
<polyline fill="none" stroke="#0000ff" stroke-width="2.2" stroke-linejoin="round" points="874.5,334.0 880.5,211.1 886.6,140.1 892.6,112.8 898.6,101.5 904.6,104.5 910.7,109.0 916.7,111.3 922.7,114.0 928.8,119.6 934.8,126.4 940.8,132.5 946.8,137.6 952.9,141.0 958.9,143.8 964.9,146.2 970.9,148.8 977.0,152.4 983.0,156.2 989.0,159.5 995.1,162.5 1001.1,164.9 1007.1,167.4 1013.1,171.1 1019.2,174.9 1025.2,177.9 1031.2,180.7 1037.2,183.4 1043.3,185.9 1049.3,188.4 1055.3,191.0 1061.4,193.7 1067.4,196.4 1073.4,199.1 1079.4,201.8 1085.5,204.5 1091.5,207.2 1097.5,210.0 1103.6,212.9 1109.6,215.8 1115.6,218.4 1121.6,220.8 1127.7,223.1 1133.7,225.2 1139.7,227.3 1145.8,229.4 1151.8,231.4 1157.8,233.4 1163.8,235.4 1169.9,237.4 1175.9,239.5 1181.9,241.6 1187.9,243.8 1194.0,245.9 1200.0,248.1 1206.0,250.3 1212.1,252.4 1218.1,254.5 1224.1,256.6 1230.1,258.6 1236.2,260.7 1242.2,262.6 1248.2,264.6 1254.2,266.6 1260.3,268.6 1266.3,270.5 1272.3,272.4 1278.4,274.2 1284.4,276.0 1290.4,277.7 1296.4,279.3 1302.5,280.9 1308.5,282.4 1314.5,283.9 1320.6,285.4 1326.6,286.8 1332.6,288.1 1338.6,289.4 1344.7,290.7 1350.7,291.9 1356.7,293.0 1362.8,294.0 1368.8,295.0 1374.8,296.0 1380.8,297.0 1386.9,297.9 1392.9,298.7 1398.9,299.5 1404.9,300.3 1411.0,301.0 1417.0,301.7"/>
<polyline fill="none" stroke="#00ff00" stroke-width="2.2" stroke-linejoin="round" points="874.5,336.5 880.5,227.3 886.6,174.9 892.6,170.3 898.6,168.7 904.6,183.8 910.7,206.0 916.7,218.0 922.7,228.3 928.8,238.8 934.8,248.2 940.8,256.6 946.8,263.1 952.9,267.3 958.9,270.6 964.9,274.0 970.9,276.8 977.0,279.0 983.0,280.8 989.0,282.5 995.1,284.3 1001.1,286.2 1007.1,288.2 1013.1,290.1 1019.2,291.7 1025.2,293.0 1031.2,294.2 1037.2,295.9 1043.3,297.8 1049.3,299.8 1055.3,301.7 1061.4,303.4 1067.4,305.1 1073.4,306.8 1079.4,308.5 1085.5,310.2 1091.5,311.8 1097.5,313.4 1103.6,314.9 1109.6,316.4 1115.6,317.8 1121.6,319.2 1127.7,320.5 1133.7,321.8 1139.7,323.1 1145.8,324.3 1151.8,325.5 1157.8,326.7 1163.8,327.9 1169.9,329.1 1175.9,330.3 1181.9,331.4 1187.9,332.6 1194.0,333.8 1200.0,335.0 1206.0,336.2 1212.1,337.4 1218.1,338.5 1224.1,339.5 1230.1,340.5 1236.2,341.4 1242.2,342.3 1248.2,343.2 1254.2,344.0 1260.3,344.8 1266.3,345.5 1272.3,346.3 1278.4,347.0 1284.4,347.7 1290.4,348.3 1296.4,348.9 1302.5,349.5 1308.5,350.0 1314.5,350.5 1320.6,351.0 1326.6,351.5 1332.6,352.0 1338.6,352.4 1344.7,352.9 1350.7,353.4 1356.7,353.9 1362.8,354.4 1368.8,354.9 1374.8,355.4 1380.8,355.9 1386.9,356.4 1392.9,356.9 1398.9,357.4 1404.9,357.9 1411.0,358.4 1417.0,358.8"/>
<rect x="874.5" y="56.8" width="542.5" height="372.9" fill="none" stroke="#333" stroke-width="1.8"/>
<line x1="874.5" y1="429.7" x2="874.5" y2="424.2" stroke="#333" stroke-width="1.8"/>
<line x1="874.5" y1="56.8" x2="874.5" y2="62.3" stroke="#333" stroke-width="1.8"/>
<line x1="995.1" y1="429.7" x2="995.1" y2="424.2" stroke="#333" stroke-width="1.8"/>
<line x1="995.1" y1="56.8" x2="995.1" y2="62.3" stroke="#333" stroke-width="1.8"/>
<line x1="1115.6" y1="429.7" x2="1115.6" y2="424.2" stroke="#333" stroke-width="1.8"/>
<line x1="1115.6" y1="56.8" x2="1115.6" y2="62.3" stroke="#333" stroke-width="1.8"/>
<line x1="1236.2" y1="429.7" x2="1236.2" y2="424.2" stroke="#333" stroke-width="1.8"/>
<line x1="1236.2" y1="56.8" x2="1236.2" y2="62.3" stroke="#333" stroke-width="1.8"/>
<line x1="1356.7" y1="429.7" x2="1356.7" y2="424.2" stroke="#333" stroke-width="1.8"/>
<line x1="1356.7" y1="56.8" x2="1356.7" y2="62.3" stroke="#333" stroke-width="1.8"/>
<line x1="874.5" y1="429.7" x2="880.0" y2="429.7" stroke="#333" stroke-width="1.8"/>
<line x1="1417.0" y1="429.7" x2="1411.5" y2="429.7" stroke="#333" stroke-width="1.8"/>
<line x1="874.5" y1="305.4" x2="880.0" y2="305.4" stroke="#333" stroke-width="1.8"/>
<line x1="1417.0" y1="305.4" x2="1411.5" y2="305.4" stroke="#333" stroke-width="1.8"/>
<line x1="874.5" y1="181.1" x2="880.0" y2="181.1" stroke="#333" stroke-width="1.8"/>
<line x1="1417.0" y1="181.1" x2="1411.5" y2="181.1" stroke="#333" stroke-width="1.8"/>
<line x1="874.5" y1="56.8" x2="880.0" y2="56.8" stroke="#333" stroke-width="1.8"/>
<line x1="1417.0" y1="56.8" x2="1411.5" y2="56.8" stroke="#333" stroke-width="1.8"/>
<text x="860.0" y="439.1" font-size="33.5" text-anchor="end">0</text>
<text x="860.0" y="316.0" font-size="33.5" text-anchor="end">1</text>
<text x="860.0" y="191.7" font-size="33.5" text-anchor="end">2</text>
<text x="860.0" y="67.4" font-size="33.5" text-anchor="end">3</text>
<text x="874.5" y="466.7" font-size="33.5" text-anchor="middle">0</text>
<text x="995.1" y="466.7" font-size="33.5" text-anchor="middle">100</text>
<text x="1115.6" y="466.7" font-size="33.5" text-anchor="middle">200</text>
<text x="1236.2" y="466.7" font-size="33.5" text-anchor="middle">300</text>
<text x="1356.7" y="466.7" font-size="33.5" text-anchor="middle">400</text>
<text x="1145.8" y="512.2" font-size="33.5" text-anchor="middle">Radius (nm)</text>
<text transform="translate(814.1,243.2) rotate(-90)" x="0" y="0" font-size="33.5" text-anchor="middle">RDF (G(r))</text>
<path d="M880.6,30.3L895.9,45.6M895.9,30.3L880.6,45.6" stroke="#000" stroke-width="2.5" fill="none"/>
<text x="898.6" y="46.8" font-size="33.5">10</text>
<text x="935.3" y="34.5" font-size="24.5">5</text>
<rect x="1076.8" y="84.7" width="61.0" height="16" fill="#6262ff"/>
<rect x="1076.8" y="90.3" width="61.0" height="4.8" fill="#0000ff"/>
<text x="1149.5" y="104.3" font-size="33.5">Normal</text>
<rect x="1076.8" y="140.2" width="61.0" height="16" fill="#62ff62"/>
<rect x="1076.8" y="145.8" width="61.0" height="4.8" fill="#00b050"/>
<text x="1149.5" y="158.7" font-size="33.5">Adenoma/LGD</text>
</g>
<g>
<line x1="993.5" y1="585.0" x2="993.5" y2="960.5" stroke="#e2e2e2" stroke-width="1.9"/>
<line x1="1115.2" y1="585.0" x2="1115.2" y2="960.5" stroke="#e2e2e2" stroke-width="1.9"/>
<line x1="1236.9" y1="585.0" x2="1236.9" y2="960.5" stroke="#e2e2e2" stroke-width="1.9"/>
<line x1="1358.6" y1="585.0" x2="1358.6" y2="960.5" stroke="#e2e2e2" stroke-width="1.9"/>
<line x1="871.8" y1="835.3" x2="1419.4" y2="835.3" stroke="#e2e2e2" stroke-width="1.9"/>
<line x1="871.8" y1="710.2" x2="1419.4" y2="710.2" stroke="#e2e2e2" stroke-width="1.9"/>
<polygon fill="#7f7fff" stroke="none" points="871.8,862.9 877.9,755.4 884.0,694.8 890.1,674.5 896.1,666.4 902.2,674.8 908.3,687.6 914.4,695.4 920.5,702.7 926.6,710.8 932.6,718.9 938.7,727.5 944.8,733.9 950.9,736.8 957.0,738.7 963.1,740.3 969.2,742.1 975.2,744.1 981.3,746.1 987.4,748.1 993.5,750.2 999.6,752.4 1005.7,754.6 1011.7,756.9 1017.8,759.0 1023.9,761.0 1030.0,762.8 1036.1,764.7 1042.2,766.5 1048.2,768.3 1054.3,770.3 1060.4,772.5 1066.5,774.8 1072.6,777.1 1078.7,779.2 1084.8,781.0 1090.8,782.8 1096.9,784.5 1103.0,786.2 1109.1,787.8 1115.2,789.3 1121.3,790.8 1127.3,792.4 1133.4,793.8 1139.5,795.3 1145.6,796.7 1151.7,798.1 1157.8,799.5 1163.9,800.8 1169.9,802.1 1176.0,803.4 1182.1,804.7 1188.2,805.9 1194.3,807.1 1200.4,808.2 1206.4,809.4 1212.5,810.5 1218.6,811.7 1224.7,812.8 1230.8,814.0 1236.9,815.2 1243.0,816.4 1249.0,817.6 1255.1,818.9 1261.2,820.2 1267.3,821.5 1273.4,822.8 1279.5,824.1 1285.5,825.3 1291.6,826.5 1297.7,827.6 1303.8,828.7 1309.9,829.8 1316.0,830.9 1322.0,831.9 1328.1,833.0 1334.2,834.0 1340.3,835.0 1346.4,835.9 1352.5,836.8 1358.6,837.7 1364.6,838.5 1370.7,839.4 1376.8,840.2 1382.9,841.0 1389.0,841.7 1395.1,842.5 1401.1,843.2 1407.2,843.9 1413.3,844.6 1419.4,845.2 1419.4,864.0 1413.3,863.5 1407.2,863.0 1401.1,862.5 1395.1,861.9 1389.0,861.3 1382.9,860.7 1376.8,860.1 1370.7,859.4 1364.6,858.7 1358.6,858.0 1352.5,857.3 1346.4,856.5 1340.3,855.7 1334.2,854.9 1328.1,854.0 1322.0,853.1 1316.0,852.2 1309.9,851.2 1303.8,850.3 1297.7,849.3 1291.6,848.3 1285.5,847.2 1279.5,846.1 1273.4,845.0 1267.3,843.8 1261.2,842.6 1255.1,841.4 1249.0,840.3 1243.0,839.1 1236.9,838.0 1230.8,836.9 1224.7,835.8 1218.6,834.8 1212.5,833.7 1206.4,832.7 1200.4,831.7 1194.3,830.6 1188.2,829.5 1182.1,828.4 1176.0,827.2 1169.9,826.0 1163.9,824.7 1157.8,823.5 1151.7,822.2 1145.6,820.8 1139.5,819.5 1133.4,818.1 1127.3,816.7 1121.3,815.2 1115.2,813.8 1109.1,812.3 1103.0,810.7 1096.9,809.1 1090.8,807.5 1084.8,805.7 1078.7,803.9 1072.6,801.9 1066.5,799.6 1060.4,797.3 1054.3,795.2 1048.2,793.3 1042.2,791.4 1036.1,789.6 1030.0,787.8 1023.9,786.0 1017.8,784.0 1011.7,781.9 1005.7,779.7 999.6,777.4 993.5,775.3 987.4,773.2 981.3,771.1 975.2,769.1 969.2,767.1 963.1,765.3 957.0,763.7 950.9,761.8 944.8,759.0 938.7,752.6 932.6,744.0 926.6,735.8 920.5,727.7 914.4,720.4 908.3,712.7 902.2,699.8 896.1,691.4 890.1,698.2 884.0,715.5 877.9,772.0 871.8,875.4"/>
<polygon fill="#ff7f7f" stroke="none" points="871.8,832.8 877.9,695.1 884.0,635.1 890.1,645.2 896.1,665.5 902.2,693.9 908.3,725.2 914.4,750.4 920.5,771.4 926.6,787.0 932.6,799.8 938.7,811.8 944.8,820.9 950.9,826.3 957.0,830.4 963.1,833.9 969.2,836.7 975.2,839.3 981.3,841.6 987.4,843.7 993.5,845.6 999.6,847.4 1005.7,849.1 1011.7,850.6 1017.8,852.0 1023.9,853.3 1030.0,854.5 1036.1,855.7 1042.2,856.8 1048.2,857.9 1054.3,859.1 1060.4,860.3 1066.5,861.6 1072.6,862.9 1078.7,864.2 1084.8,865.5 1090.8,866.8 1096.9,868.1 1103.0,869.4 1109.1,870.7 1115.2,871.8 1121.3,872.9 1127.3,874.0 1133.4,875.0 1139.5,875.9 1145.6,876.9 1151.7,877.8 1157.8,878.7 1163.9,879.6 1169.9,880.5 1176.0,881.4 1182.1,882.3 1188.2,883.2 1194.3,884.2 1200.4,885.1 1206.4,886.0 1212.5,886.9 1218.6,887.7 1224.7,888.6 1230.8,889.5 1236.9,890.3 1243.0,891.1 1249.0,891.9 1255.1,892.7 1261.2,893.5 1267.3,894.3 1273.4,895.1 1279.5,895.9 1285.5,896.6 1291.6,897.2 1297.7,897.9 1303.8,898.5 1309.9,899.0 1316.0,899.5 1322.0,900.0 1328.1,900.5 1334.2,901.0 1340.3,901.5 1346.4,901.9 1352.5,902.4 1358.6,902.9 1364.6,903.4 1370.7,903.9 1376.8,904.4 1382.9,904.9 1389.0,905.4 1395.1,905.9 1401.1,906.4 1407.2,906.9 1413.3,907.4 1419.4,907.9 1419.4,915.4 1413.3,914.9 1407.2,914.4 1401.1,913.9 1395.1,913.4 1389.0,912.9 1382.9,912.4 1376.8,911.9 1370.7,911.4 1364.6,910.9 1358.6,910.4 1352.5,910.0 1346.4,909.5 1340.3,909.0 1334.2,908.6 1328.1,908.1 1322.0,907.6 1316.0,907.1 1309.9,906.6 1303.8,906.1 1297.7,905.5 1291.6,904.9 1285.5,904.2 1279.5,903.5 1273.4,902.8 1267.3,902.0 1261.2,901.2 1255.1,900.4 1249.0,899.6 1243.0,898.8 1236.9,898.0 1230.8,897.2 1224.7,896.4 1218.6,895.6 1212.5,894.7 1206.4,893.8 1200.4,893.0 1194.3,892.1 1188.2,891.2 1182.1,890.3 1176.0,889.4 1169.9,888.5 1163.9,887.6 1157.8,886.8 1151.7,885.9 1145.6,885.0 1139.5,884.1 1133.4,883.2 1127.3,882.2 1121.3,881.2 1115.2,880.2 1109.1,879.1 1103.0,877.8 1096.9,876.6 1090.8,875.3 1084.8,874.0 1078.7,872.8 1072.6,871.6 1066.5,870.3 1060.4,869.1 1054.3,867.9 1048.2,866.8 1042.2,865.7 1036.1,864.6 1030.0,863.6 1023.9,862.4 1017.8,861.2 1011.7,859.8 1005.7,858.4 999.6,856.8 993.5,855.1 987.4,853.2 981.3,851.2 975.2,848.9 969.2,846.4 963.1,843.6 957.0,840.3 950.9,836.3 944.8,831.0 938.7,822.1 932.6,810.7 926.6,798.7 920.5,784.1 914.4,764.3 908.3,740.2 902.2,709.9 896.1,682.3 890.1,662.5 884.0,652.6 877.9,710.9 871.8,845.3"/>
<polyline fill="none" stroke="#0000ff" stroke-width="2.2" stroke-linejoin="round" points="871.8,869.1 877.9,763.7 884.0,705.2 890.1,686.4 896.1,678.9 902.2,687.3 908.3,700.2 914.4,707.9 920.5,715.2 926.6,723.3 932.6,731.4 938.7,740.1 944.8,746.5 950.9,749.3 957.0,751.2 963.1,752.8 969.2,754.6 975.2,756.6 981.3,758.6 987.4,760.7 993.5,762.7 999.6,764.9 1005.7,767.2 1011.7,769.4 1017.8,771.5 1023.9,773.5 1030.0,775.3 1036.1,777.1 1042.2,778.9 1048.2,780.8 1054.3,782.8 1060.4,784.9 1066.5,787.2 1072.6,789.5 1078.7,791.5 1084.8,793.4 1090.8,795.1 1096.9,796.8 1103.0,798.4 1109.1,800.0 1115.2,801.5 1121.3,803.0 1127.3,804.5 1133.4,806.0 1139.5,807.4 1145.6,808.8 1151.7,810.1 1157.8,811.5 1163.9,812.8 1169.9,814.1 1176.0,815.3 1182.1,816.5 1188.2,817.7 1194.3,818.8 1200.4,819.9 1206.4,821.0 1212.5,822.1 1218.6,823.2 1224.7,824.3 1230.8,825.4 1236.9,826.6 1243.0,827.7 1249.0,829.0 1255.1,830.2 1261.2,831.4 1267.3,832.7 1273.4,833.9 1279.5,835.1 1285.5,836.3 1291.6,837.4 1297.7,838.5 1303.8,839.5 1309.9,840.5 1316.0,841.5 1322.0,842.5 1328.1,843.5 1334.2,844.4 1340.3,845.3 1346.4,846.2 1352.5,847.0 1358.6,847.9 1364.6,848.6 1370.7,849.4 1376.8,850.1 1382.9,850.8 1389.0,851.5 1395.1,852.2 1401.1,852.8 1407.2,853.5 1413.3,854.0 1419.4,854.6"/>
<polyline fill="none" stroke="#ff0000" stroke-width="2.2" stroke-linejoin="round" points="871.8,839.1 877.9,703.0 884.0,643.8 890.1,653.9 896.1,673.9 902.2,701.9 908.3,732.7 914.4,757.3 920.5,777.8 926.6,792.8 932.6,805.3 938.7,817.0 944.8,825.9 950.9,831.3 957.0,835.3 963.1,838.7 969.2,841.6 975.2,844.1 981.3,846.4 987.4,848.5 993.5,850.4 999.6,852.1 1005.7,853.7 1011.7,855.2 1017.8,856.6 1023.9,857.9 1030.0,859.1 1036.1,860.2 1042.2,861.2 1048.2,862.3 1054.3,863.5 1060.4,864.7 1066.5,866.0 1072.6,867.2 1078.7,868.5 1084.8,869.8 1090.8,871.0 1096.9,872.3 1103.0,873.6 1109.1,874.9 1115.2,876.0 1121.3,877.1 1127.3,878.1 1133.4,879.1 1139.5,880.0 1145.6,880.9 1151.7,881.8 1157.8,882.7 1163.9,883.6 1169.9,884.5 1176.0,885.4 1182.1,886.3 1188.2,887.2 1194.3,888.1 1200.4,889.0 1206.4,889.9 1212.5,890.8 1218.6,891.7 1224.7,892.5 1230.8,893.3 1236.9,894.2 1243.0,895.0 1249.0,895.8 1255.1,896.6 1261.2,897.4 1267.3,898.2 1273.4,898.9 1279.5,899.7 1285.5,900.4 1291.6,901.0 1297.7,901.7 1303.8,902.3 1309.9,902.8 1316.0,903.3 1322.0,903.8 1328.1,904.3 1334.2,904.8 1340.3,905.2 1346.4,905.7 1352.5,906.2 1358.6,906.7 1364.6,907.2 1370.7,907.7 1376.8,908.2 1382.9,908.7 1389.0,909.2 1395.1,909.7 1401.1,910.2 1407.2,910.7 1413.3,911.2 1419.4,911.7"/>
<rect x="871.8" y="585.0" width="547.6" height="375.5" fill="none" stroke="#333" stroke-width="1.8"/>
<line x1="871.8" y1="960.5" x2="871.8" y2="955.0" stroke="#333" stroke-width="1.8"/>
<line x1="871.8" y1="585.0" x2="871.8" y2="590.5" stroke="#333" stroke-width="1.8"/>
<line x1="993.5" y1="960.5" x2="993.5" y2="955.0" stroke="#333" stroke-width="1.8"/>
<line x1="993.5" y1="585.0" x2="993.5" y2="590.5" stroke="#333" stroke-width="1.8"/>
<line x1="1115.2" y1="960.5" x2="1115.2" y2="955.0" stroke="#333" stroke-width="1.8"/>
<line x1="1115.2" y1="585.0" x2="1115.2" y2="590.5" stroke="#333" stroke-width="1.8"/>
<line x1="1236.9" y1="960.5" x2="1236.9" y2="955.0" stroke="#333" stroke-width="1.8"/>
<line x1="1236.9" y1="585.0" x2="1236.9" y2="590.5" stroke="#333" stroke-width="1.8"/>
<line x1="1358.6" y1="960.5" x2="1358.6" y2="955.0" stroke="#333" stroke-width="1.8"/>
<line x1="1358.6" y1="585.0" x2="1358.6" y2="590.5" stroke="#333" stroke-width="1.8"/>
<line x1="871.8" y1="960.5" x2="877.3" y2="960.5" stroke="#333" stroke-width="1.8"/>
<line x1="1419.4" y1="960.5" x2="1413.9" y2="960.5" stroke="#333" stroke-width="1.8"/>
<line x1="871.8" y1="835.3" x2="877.3" y2="835.3" stroke="#333" stroke-width="1.8"/>
<line x1="1419.4" y1="835.3" x2="1413.9" y2="835.3" stroke="#333" stroke-width="1.8"/>
<line x1="871.8" y1="710.2" x2="877.3" y2="710.2" stroke="#333" stroke-width="1.8"/>
<line x1="1419.4" y1="710.2" x2="1413.9" y2="710.2" stroke="#333" stroke-width="1.8"/>
<line x1="871.8" y1="585.0" x2="877.3" y2="585.0" stroke="#333" stroke-width="1.8"/>
<line x1="1419.4" y1="585.0" x2="1413.9" y2="585.0" stroke="#333" stroke-width="1.8"/>
<text x="857.3" y="969.9" font-size="33.5" text-anchor="end">0</text>
<text x="857.3" y="845.9" font-size="33.5" text-anchor="end">1</text>
<text x="857.3" y="720.8" font-size="33.5" text-anchor="end">2</text>
<text x="857.3" y="595.6" font-size="33.5" text-anchor="end">3</text>
<text x="871.8" y="997.5" font-size="33.5" text-anchor="middle">0</text>
<text x="993.5" y="997.5" font-size="33.5" text-anchor="middle">100</text>
<text x="1115.2" y="997.5" font-size="33.5" text-anchor="middle">200</text>
<text x="1236.9" y="997.5" font-size="33.5" text-anchor="middle">300</text>
<text x="1358.6" y="997.5" font-size="33.5" text-anchor="middle">400</text>
<text x="1145.6" y="1043.0" font-size="33.5" text-anchor="middle">Radius (nm)</text>
<text transform="translate(811.4,772.8) rotate(-90)" x="0" y="0" font-size="33.5" text-anchor="middle">RDF (G(r))</text>
<path d="M880.6,558.5L895.9,573.8M895.9,558.5L880.6,573.8" stroke="#000" stroke-width="2.5" fill="none"/>
<text x="898.6" y="575.0" font-size="33.5">10</text>
<text x="935.3" y="562.7" font-size="24.5">5</text>
<rect x="1150.2" y="628.3" width="63.1" height="16" fill="#6060ff"/>
<rect x="1150.2" y="633.9" width="63.1" height="4.8" fill="#0000ff"/>
<text x="1222.7" y="649.5" font-size="33.5">Normal</text>
<rect x="1150.2" y="689.9" width="63.1" height="16" fill="#ff6060"/>
<rect x="1150.2" y="695.5" width="63.1" height="4.8" fill="#c00000"/>
<text x="1222.7" y="710.7" font-size="33.5">HGD</text>
</g>
<g>
<line x1="993.7" y1="1115.0" x2="993.7" y2="1489.4" stroke="#e2e2e2" stroke-width="1.9"/>
<line x1="1115.1" y1="1115.0" x2="1115.1" y2="1489.4" stroke="#e2e2e2" stroke-width="1.9"/>
<line x1="1236.6" y1="1115.0" x2="1236.6" y2="1489.4" stroke="#e2e2e2" stroke-width="1.9"/>
<line x1="1358.0" y1="1115.0" x2="1358.0" y2="1489.4" stroke="#e2e2e2" stroke-width="1.9"/>
<line x1="872.3" y1="1364.6" x2="1418.7" y2="1364.6" stroke="#e2e2e2" stroke-width="1.9"/>
<line x1="872.3" y1="1239.8" x2="1418.7" y2="1239.8" stroke="#e2e2e2" stroke-width="1.9"/>
<polygon fill="#7f7fff" stroke="none" points="872.3,1390.8 878.4,1285.1 884.4,1223.6 890.5,1199.7 896.6,1189.9 902.7,1194.9 908.7,1202.4 914.8,1206.8 920.9,1211.4 926.9,1218.5 933.0,1226.6 939.1,1235.0 945.2,1241.9 951.2,1245.7 957.3,1248.6 963.4,1251.1 969.4,1253.7 975.5,1256.7 981.6,1259.7 987.7,1262.6 993.7,1265.4 999.8,1268.0 1005.9,1270.6 1011.9,1273.1 1018.0,1275.5 1024.1,1277.9 1030.1,1280.3 1036.2,1282.7 1042.3,1285.0 1048.4,1287.3 1054.4,1289.6 1060.5,1291.9 1066.6,1294.1 1072.6,1296.4 1078.7,1298.7 1084.8,1300.9 1090.9,1303.1 1096.9,1305.2 1103.0,1307.3 1109.1,1309.3 1115.1,1311.2 1121.2,1313.0 1127.3,1314.8 1133.4,1316.4 1139.4,1318.0 1145.5,1319.6 1151.6,1321.2 1157.6,1322.8 1163.7,1324.4 1169.8,1326.0 1175.9,1327.8 1181.9,1329.6 1188.0,1331.5 1194.1,1333.6 1200.1,1335.6 1206.2,1337.7 1212.3,1339.7 1218.4,1341.7 1224.4,1343.5 1230.5,1345.2 1236.6,1346.8 1242.6,1348.1 1248.7,1349.5 1254.8,1350.7 1260.9,1351.9 1266.9,1353.0 1273.0,1354.1 1279.1,1355.2 1285.1,1356.2 1291.2,1357.2 1297.3,1358.2 1303.3,1359.2 1309.4,1360.1 1315.5,1361.1 1321.6,1362.0 1327.6,1362.9 1333.7,1363.7 1339.8,1364.6 1345.8,1365.4 1351.9,1366.2 1358.0,1367.1 1364.1,1367.9 1370.1,1368.7 1376.2,1369.4 1382.3,1370.2 1388.3,1371.0 1394.4,1371.7 1400.5,1372.5 1406.6,1373.2 1412.6,1373.9 1418.7,1374.6 1418.7,1387.1 1412.6,1386.4 1406.6,1385.7 1400.5,1384.9 1394.4,1384.2 1388.3,1383.5 1382.3,1382.7 1376.2,1382.0 1370.1,1381.2 1364.1,1380.4 1358.0,1379.6 1351.9,1378.8 1345.8,1378.0 1339.8,1377.2 1333.7,1376.4 1327.6,1375.5 1321.6,1374.7 1315.5,1373.8 1309.4,1372.9 1303.3,1372.0 1297.3,1371.0 1291.2,1370.0 1285.1,1369.1 1279.1,1368.1 1273.0,1367.1 1266.9,1366.0 1260.9,1364.9 1254.8,1363.8 1248.7,1362.6 1242.6,1361.3 1236.6,1360.0 1230.5,1358.5 1224.4,1356.8 1218.4,1355.0 1212.3,1353.1 1206.2,1351.2 1200.1,1349.2 1194.1,1347.2 1188.0,1345.2 1181.9,1343.3 1175.9,1341.5 1169.8,1339.9 1163.7,1338.3 1157.6,1336.7 1151.6,1335.2 1145.5,1333.7 1139.4,1332.2 1133.4,1330.7 1127.3,1329.1 1121.2,1327.4 1115.1,1325.7 1109.1,1323.8 1103.0,1321.9 1096.9,1319.9 1090.9,1317.8 1084.8,1315.7 1078.7,1313.6 1072.6,1311.4 1066.6,1309.2 1060.5,1307.0 1054.4,1304.8 1048.4,1302.6 1042.3,1300.4 1036.2,1298.2 1030.1,1296.0 1024.1,1293.7 1018.0,1291.4 1011.9,1289.0 1005.9,1286.6 999.8,1284.1 993.7,1281.6 987.7,1279.0 981.6,1276.3 975.5,1273.5 969.4,1270.8 963.4,1268.4 957.3,1266.2 951.2,1263.7 945.2,1260.2 939.1,1253.6 933.0,1245.5 926.9,1237.7 920.9,1230.8 914.8,1226.5 908.7,1222.3 902.7,1214.8 896.6,1209.8 890.5,1218.9 884.4,1241.0 878.4,1300.1 872.3,1403.3"/>
<polygon fill="#7f7f7f" stroke="none" points="872.3,1340.9 878.4,1186.6 884.4,1122.5 890.5,1147.8 896.6,1191.8 902.7,1233.9 908.7,1273.2 914.8,1302.5 920.9,1324.9 926.9,1339.7 933.0,1351.4 939.1,1362.6 945.2,1370.8 951.2,1375.1 957.3,1378.4 963.4,1381.9 969.4,1384.7 975.5,1386.7 981.6,1388.3 987.7,1389.7 993.7,1391.1 999.8,1392.5 1005.9,1393.8 1011.9,1395.0 1018.0,1396.2 1024.1,1397.4 1030.1,1398.5 1036.2,1399.6 1042.3,1400.7 1048.4,1401.7 1054.4,1402.6 1060.5,1403.5 1066.6,1404.4 1072.6,1405.1 1078.7,1405.9 1084.8,1406.6 1090.9,1407.3 1096.9,1408.1 1103.0,1408.8 1109.1,1409.6 1115.1,1410.4 1121.2,1411.2 1127.3,1412.1 1133.4,1413.0 1139.4,1413.9 1145.5,1414.8 1151.6,1415.8 1157.6,1416.7 1163.7,1417.6 1169.8,1418.4 1175.9,1419.3 1181.9,1420.1 1188.0,1420.9 1194.1,1421.7 1200.1,1422.6 1206.2,1423.3 1212.3,1424.1 1218.4,1424.9 1224.4,1425.6 1230.5,1426.2 1236.6,1426.9 1242.6,1427.5 1248.7,1428.1 1254.8,1428.7 1260.9,1429.2 1266.9,1429.8 1273.0,1430.3 1279.1,1430.7 1285.1,1431.2 1291.2,1431.6 1297.3,1431.9 1303.3,1432.3 1309.4,1432.5 1315.5,1432.8 1321.6,1433.0 1327.6,1433.3 1333.7,1433.5 1339.8,1433.7 1345.8,1433.9 1351.9,1434.2 1358.0,1434.5 1364.1,1434.8 1370.1,1435.1 1376.2,1435.5 1382.3,1435.8 1388.3,1436.2 1394.4,1436.6 1400.5,1437.0 1406.6,1437.4 1412.6,1437.8 1418.7,1438.2 1418.7,1448.2 1412.6,1447.8 1406.6,1447.4 1400.5,1447.0 1394.4,1446.6 1388.3,1446.2 1382.3,1445.8 1376.2,1445.5 1370.1,1445.1 1364.1,1444.8 1358.0,1444.5 1351.9,1444.2 1345.8,1444.0 1339.8,1443.7 1333.7,1443.5 1327.6,1443.3 1321.6,1443.1 1315.5,1442.8 1309.4,1442.6 1303.3,1442.3 1297.3,1442.0 1291.2,1441.7 1285.1,1441.3 1279.1,1440.8 1273.0,1440.4 1266.9,1439.9 1260.9,1439.4 1254.8,1438.8 1248.7,1438.3 1242.6,1437.7 1236.6,1437.1 1230.5,1436.5 1224.4,1435.8 1218.4,1435.1 1212.3,1434.4 1206.2,1433.7 1200.1,1432.9 1194.1,1432.1 1188.0,1431.3 1181.9,1430.5 1175.9,1429.7 1169.8,1428.9 1163.7,1428.1 1157.6,1427.2 1151.6,1426.3 1145.5,1425.4 1139.4,1424.6 1133.4,1423.7 1127.3,1422.8 1121.2,1422.0 1115.1,1421.2 1109.1,1420.4 1103.0,1419.7 1096.9,1419.0 1090.9,1418.3 1084.8,1417.6 1078.7,1416.9 1072.6,1416.2 1066.6,1415.5 1060.5,1414.7 1054.4,1413.9 1048.4,1413.0 1042.3,1412.1 1036.2,1411.1 1030.1,1410.0 1024.1,1408.9 1018.0,1407.8 1011.9,1406.7 1005.9,1405.5 999.8,1404.3 993.7,1403.0 987.7,1401.7 981.6,1400.3 975.5,1398.8 969.4,1396.9 963.4,1394.1 957.3,1390.7 951.2,1387.5 945.2,1383.3 939.1,1375.5 933.0,1365.3 926.9,1355.0 920.9,1341.9 914.8,1321.4 908.7,1293.8 902.7,1256.3 896.6,1215.5 890.5,1172.4 884.4,1147.4 878.4,1208.1 872.3,1355.9"/>
<polyline fill="none" stroke="#0000ff" stroke-width="2.2" stroke-linejoin="round" points="872.3,1397.0 878.4,1292.6 884.4,1232.3 890.5,1209.3 896.6,1199.9 902.7,1204.8 908.7,1212.3 914.8,1216.6 920.9,1221.1 926.9,1228.1 933.0,1236.1 939.1,1244.3 945.2,1251.0 951.2,1254.7 957.3,1257.4 963.4,1259.7 969.4,1262.3 975.5,1265.1 981.6,1268.0 987.7,1270.8 993.7,1273.5 999.8,1276.1 1005.9,1278.6 1011.9,1281.0 1018.0,1283.4 1024.1,1285.8 1030.1,1288.1 1036.2,1290.4 1042.3,1292.7 1048.4,1295.0 1054.4,1297.2 1060.5,1299.5 1066.6,1301.7 1072.6,1303.9 1078.7,1306.1 1084.8,1308.3 1090.9,1310.5 1096.9,1312.5 1103.0,1314.6 1109.1,1316.5 1115.1,1318.4 1121.2,1320.2 1127.3,1321.9 1133.4,1323.5 1139.4,1325.1 1145.5,1326.7 1151.6,1328.2 1157.6,1329.7 1163.7,1331.3 1169.8,1333.0 1175.9,1334.6 1181.9,1336.5 1188.0,1338.4 1194.1,1340.4 1200.1,1342.4 1206.2,1344.4 1212.3,1346.4 1218.4,1348.4 1224.4,1350.2 1230.5,1351.9 1236.6,1353.4 1242.6,1354.7 1248.7,1356.0 1254.8,1357.2 1260.9,1358.4 1266.9,1359.5 1273.0,1360.6 1279.1,1361.6 1285.1,1362.6 1291.2,1363.6 1297.3,1364.6 1303.3,1365.6 1309.4,1366.5 1315.5,1367.4 1321.6,1368.3 1327.6,1369.2 1333.7,1370.0 1339.8,1370.9 1345.8,1371.7 1351.9,1372.5 1358.0,1373.3 1364.1,1374.1 1370.1,1374.9 1376.2,1375.7 1382.3,1376.5 1388.3,1377.2 1394.4,1378.0 1400.5,1378.7 1406.6,1379.4 1412.6,1380.1 1418.7,1380.8"/>
<polyline fill="none" stroke="#000000" stroke-width="2.2" stroke-linejoin="round" points="872.3,1348.4 878.4,1197.4 884.4,1135.0 890.5,1160.1 896.6,1203.6 902.7,1245.1 908.7,1283.5 914.8,1312.0 920.9,1333.4 926.9,1347.4 933.0,1358.4 939.1,1369.1 945.2,1377.1 951.2,1381.3 957.3,1384.6 963.4,1388.0 969.4,1390.8 975.5,1392.7 981.6,1394.3 987.7,1395.7 993.7,1397.0 999.8,1398.4 1005.9,1399.7 1011.9,1400.9 1018.0,1402.0 1024.1,1403.2 1030.1,1404.3 1036.2,1405.4 1042.3,1406.4 1048.4,1407.4 1054.4,1408.3 1060.5,1409.1 1066.6,1409.9 1072.6,1410.7 1078.7,1411.4 1084.8,1412.1 1090.9,1412.8 1096.9,1413.5 1103.0,1414.2 1109.1,1415.0 1115.1,1415.8 1121.2,1416.6 1127.3,1417.5 1133.4,1418.3 1139.4,1419.2 1145.5,1420.1 1151.6,1421.0 1157.6,1421.9 1163.7,1422.8 1169.8,1423.7 1175.9,1424.5 1181.9,1425.3 1188.0,1426.1 1194.1,1426.9 1200.1,1427.7 1206.2,1428.5 1212.3,1429.3 1218.4,1430.0 1224.4,1430.7 1230.5,1431.4 1236.6,1432.0 1242.6,1432.6 1248.7,1433.2 1254.8,1433.7 1260.9,1434.3 1266.9,1434.8 1273.0,1435.3 1279.1,1435.8 1285.1,1436.2 1291.2,1436.6 1297.3,1437.0 1303.3,1437.3 1309.4,1437.6 1315.5,1437.8 1321.6,1438.1 1327.6,1438.3 1333.7,1438.5 1339.8,1438.7 1345.8,1438.9 1351.9,1439.2 1358.0,1439.5 1364.1,1439.8 1370.1,1440.1 1376.2,1440.5 1382.3,1440.8 1388.3,1441.2 1394.4,1441.6 1400.5,1442.0 1406.6,1442.4 1412.6,1442.8 1418.7,1443.2"/>
<rect x="872.3" y="1115.0" width="546.4" height="374.4" fill="none" stroke="#333" stroke-width="1.8"/>
<line x1="872.3" y1="1489.4" x2="872.3" y2="1483.9" stroke="#333" stroke-width="1.8"/>
<line x1="872.3" y1="1115.0" x2="872.3" y2="1120.5" stroke="#333" stroke-width="1.8"/>
<line x1="993.7" y1="1489.4" x2="993.7" y2="1483.9" stroke="#333" stroke-width="1.8"/>
<line x1="993.7" y1="1115.0" x2="993.7" y2="1120.5" stroke="#333" stroke-width="1.8"/>
<line x1="1115.1" y1="1489.4" x2="1115.1" y2="1483.9" stroke="#333" stroke-width="1.8"/>
<line x1="1115.1" y1="1115.0" x2="1115.1" y2="1120.5" stroke="#333" stroke-width="1.8"/>
<line x1="1236.6" y1="1489.4" x2="1236.6" y2="1483.9" stroke="#333" stroke-width="1.8"/>
<line x1="1236.6" y1="1115.0" x2="1236.6" y2="1120.5" stroke="#333" stroke-width="1.8"/>
<line x1="1358.0" y1="1489.4" x2="1358.0" y2="1483.9" stroke="#333" stroke-width="1.8"/>
<line x1="1358.0" y1="1115.0" x2="1358.0" y2="1120.5" stroke="#333" stroke-width="1.8"/>
<line x1="872.3" y1="1489.4" x2="877.8" y2="1489.4" stroke="#333" stroke-width="1.8"/>
<line x1="1418.7" y1="1489.4" x2="1413.2" y2="1489.4" stroke="#333" stroke-width="1.8"/>
<line x1="872.3" y1="1364.6" x2="877.8" y2="1364.6" stroke="#333" stroke-width="1.8"/>
<line x1="1418.7" y1="1364.6" x2="1413.2" y2="1364.6" stroke="#333" stroke-width="1.8"/>
<line x1="872.3" y1="1239.8" x2="877.8" y2="1239.8" stroke="#333" stroke-width="1.8"/>
<line x1="1418.7" y1="1239.8" x2="1413.2" y2="1239.8" stroke="#333" stroke-width="1.8"/>
<line x1="872.3" y1="1115.0" x2="877.8" y2="1115.0" stroke="#333" stroke-width="1.8"/>
<line x1="1418.7" y1="1115.0" x2="1413.2" y2="1115.0" stroke="#333" stroke-width="1.8"/>
<text x="857.8" y="1498.8" font-size="33.5" text-anchor="end">0</text>
<text x="857.8" y="1375.2" font-size="33.5" text-anchor="end">1</text>
<text x="857.8" y="1250.4" font-size="33.5" text-anchor="end">2</text>
<text x="857.8" y="1125.6" font-size="33.5" text-anchor="end">3</text>
<text x="872.3" y="1526.4" font-size="33.5" text-anchor="middle">0</text>
<text x="993.7" y="1526.4" font-size="33.5" text-anchor="middle">100</text>
<text x="1115.1" y="1526.4" font-size="33.5" text-anchor="middle">200</text>
<text x="1236.6" y="1526.4" font-size="33.5" text-anchor="middle">300</text>
<text x="1358.0" y="1526.4" font-size="33.5" text-anchor="middle">400</text>
<text x="1145.5" y="1571.9" font-size="33.5" text-anchor="middle">Radius (nm)</text>
<text transform="translate(811.9,1302.2) rotate(-90)" x="0" y="0" font-size="33.5" text-anchor="middle">RDF (G(r))</text>
<path d="M880.6,1088.5L895.9,1103.8M895.9,1088.5L880.6,1103.8" stroke="#000" stroke-width="2.5" fill="none"/>
<text x="898.6" y="1105.0" font-size="33.5">10</text>
<text x="935.3" y="1092.7" font-size="24.5">5</text>
<rect x="1137.8" y="1167.2" width="61.6" height="16" fill="#6060ff"/>
<rect x="1137.8" y="1172.8" width="61.6" height="4.8" fill="#0000ff"/>
<text x="1210.3" y="1188.0" font-size="33.5">Normal</text>
<rect x="1137.8" y="1227.8" width="61.6" height="16" fill="#606060"/>
<rect x="1137.8" y="1233.4" width="61.6" height="4.8" fill="#000000"/>
<text x="1210.3" y="1247.7" font-size="33.5">Cancer</text>
</g>
<line x1="929.0" y1="1735.0" x2="929.0" y2="2106.6" stroke="#000" stroke-width="3.6"/>
<line x1="914.5" y1="2106.6" x2="1394" y2="2106.6" stroke="#000" stroke-width="3.6"/>
<line x1="914.5" y1="2106.6" x2="929.0" y2="2106.6" stroke="#000" stroke-width="3.6"/>
<text x="903.5" y="2118.1" font-size="33" text-anchor="end">0</text>
<line x1="914.5" y1="2032.6" x2="929.0" y2="2032.6" stroke="#000" stroke-width="3.6"/>
<text x="903.5" y="2044.1" font-size="33" text-anchor="end">20</text>
<line x1="914.5" y1="1958.7" x2="929.0" y2="1958.7" stroke="#000" stroke-width="3.6"/>
<text x="903.5" y="1970.2" font-size="33" text-anchor="end">40</text>
<line x1="914.5" y1="1884.7" x2="929.0" y2="1884.7" stroke="#000" stroke-width="3.6"/>
<text x="903.5" y="1896.2" font-size="33" text-anchor="end">60</text>
<line x1="914.5" y1="1810.8" x2="929.0" y2="1810.8" stroke="#000" stroke-width="3.6"/>
<text x="903.5" y="1822.3" font-size="33" text-anchor="end">80</text>
<line x1="914.5" y1="1736.8" x2="929.0" y2="1736.8" stroke="#000" stroke-width="3.6"/>
<text x="903.5" y="1748.3" font-size="33" text-anchor="end">100</text>
<line x1="1000.8" y1="2106.6" x2="1000.8" y2="2121" stroke="#000" stroke-width="3.6"/>
<text transform="translate(1018.8,2147.8) rotate(-45)" x="0" y="0" font-size="33.8" text-anchor="end">Normal</text>
<line x1="1107.7" y1="2106.6" x2="1107.7" y2="2121" stroke="#000" stroke-width="3.6"/>
<text transform="translate(1125.7,2147.8) rotate(-45)" x="0" y="0" font-size="33.8" text-anchor="end">Adenoma/LGD</text>
<line x1="1214.1" y1="2106.6" x2="1214.1" y2="2121" stroke="#000" stroke-width="3.6"/>
<text transform="translate(1232.1,2147.8) rotate(-45)" x="0" y="0" font-size="33.8" text-anchor="end">HGD</text>
<line x1="1321.0" y1="2106.6" x2="1321.0" y2="2121" stroke="#000" stroke-width="3.6"/>
<text transform="translate(1335.5,2146.1) rotate(-45)" x="0" y="0" font-size="33.8" text-anchor="end">Cancer</text>
<text transform="translate(823,1921.8) rotate(-90)" x="0" y="0" font-size="33.4" text-anchor="middle">H3K9me3 cluster size (nm)</text>
<line x1="1044" y1="1747.5" x2="1160" y2="1747.5" stroke="#000" stroke-width="4.5"/>
<text x="1032" y="1732.3" font-size="32"><tspan font-style="italic">P</tspan> = 0.008</text>
<line x1="1122.8" y1="1830.3" x2="1238.6" y2="1830.3" stroke="#000" stroke-width="4.5"/>
<text x="1111" y="1814.8" font-size="32"><tspan font-style="italic">P</tspan> = 0.015</text>
<line x1="1251.5" y1="1898.7" x2="1367" y2="1898.7" stroke="#000" stroke-width="4.5"/>
<text x="1257.5" y="1883.8" font-size="32"><tspan font-style="italic">P</tspan> = 0.1</text>
<pattern id="hb" width="2.8" height="2.8" patternUnits="userSpaceOnUse"><rect width="2.8" height="2.8" fill="#0000ff"/><rect x="1.6" width="0.8" height="2.8" fill="#6a6aff"/><rect y="1.6" width="2.8" height="0.8" fill="#6a6aff"/></pattern>
<pattern id="hp" width="2.8" height="2.8" patternUnits="userSpaceOnUse"><rect width="2.8" height="2.8" fill="#a400e6"/><rect x="1.6" width="0.8" height="2.8" fill="#cc70f0"/><rect y="1.6" width="2.8" height="0.8" fill="#cc70f0"/></pattern>
<pattern id="hr" width="2.8" height="2.8" patternUnits="userSpaceOnUse"><rect width="2.8" height="2.8" fill="#ff1a1a"/><rect x="1.6" width="0.8" height="2.8" fill="#ff8080"/><rect y="1.6" width="2.8" height="0.8" fill="#ff8080"/></pattern>
<circle cx="974.3" cy="1769.8" r="9.3" fill="url(#hb)"/>
<circle cx="1000.6" cy="1755.5" r="9.5" fill="url(#hb)"/>
<circle cx="1026.5" cy="1765.3" r="9.4" fill="url(#hb)"/>
<circle cx="974.3" cy="1805.9" r="9.3" fill="url(#hb)"/>
<circle cx="1026.5" cy="1803.7" r="9.4" fill="url(#hb)"/>
<rect x="974" y="1767.8" width="62" height="4.1" fill="url(#hb)"/>
<rect x="974" y="1767.8" width="10" height="4.1" fill="#0000ff"/><rect x="1020" y="1767.8" width="16" height="4.1" fill="#0000ff"/>
<rect x="1071.9" y="1852.2" width="18.8" height="19.1" fill="url(#hp)"/>
<rect x="1071.9" y="1873.1" width="18.8" height="18.6" fill="url(#hp)"/>
<rect x="1090.7" y="1854.3" width="17.1" height="19.1" fill="url(#hp)"/>
<rect x="1107.2" y="1868" width="18.6" height="23.4" fill="url(#hp)"/>
<rect x="1124.3" y="1860.3" width="18.8" height="18.5" fill="url(#hp)"/>
<rect x="1071.9" y="1868.2" width="71.2" height="4.5" fill="#a400e6"/>
<polygon points="1214.4,1881.5 1224.2,1900.7 1205,1900.7" fill="url(#hr)"/>
<polygon points="1188.2,1914 1198,1932.3 1178.6,1932.3" fill="url(#hr)"/>
<polygon points="1241.1,1905.5 1250.4,1924.6 1231.3,1924.6" fill="url(#hr)"/>
<polygon points="1214.4,1952 1224.2,1970.8 1205,1970.8" fill="url(#hr)"/>
<rect x="1178.6" y="1917" width="71.8" height="4" fill="url(#hr)"/>
<polygon points="1286.2,1939.3 1305,1939.3 1295.6,1957.6" fill="#000"/>
<polygon points="1286.2,1959 1305,1959 1295.6,1977.9" fill="#000"/>
<polygon points="1303,1941.5 1322,1941.5 1312.5,1959.9" fill="#000"/>
<polygon points="1321.4,1948.6 1339.7,1948.6 1330.6,1966.6" fill="#000"/>
<polygon points="1338.3,1946.3 1357.5,1946.3 1347.9,1964.6" fill="#000"/>
<line x1="1285.4" y1="1954.8" x2="1356.6" y2="1954.8" stroke="#000" stroke-width="4"/>
<text x="-3" y="30.8" font-size="42" font-weight="bold">a</text>
<text x="-1.5" y="839.5" font-size="42" font-weight="bold">b</text>
<text x="-2" y="1608" font-size="42" font-weight="bold">c</text>
<text x="785" y="30.3" font-size="42" font-weight="bold">d</text>
<text x="785" y="1693.5" font-size="42" font-weight="bold">e</text>
<text x="218.8" y="76" font-size="37.6" text-anchor="middle" fill="#0000ff">Normal</text>
<text x="556.7" y="76" font-size="37.6" text-anchor="middle" fill="#008a00">Adenoma/LGD</text>
<text x="218.4" y="855.6" font-size="37.6" text-anchor="middle" fill="#0000ff">Normal</text>
<text x="556.9" y="855.6" font-size="37.6" text-anchor="middle" fill="#c00000">HGD</text>
<text x="218.4" y="1625" font-size="37.6" text-anchor="middle" fill="#0000ff">Normal</text>
<text x="556.3" y="1625" font-size="37.6" text-anchor="middle" fill="#000000">Adenocarcinoma</text>
</svg>
</body></html>
